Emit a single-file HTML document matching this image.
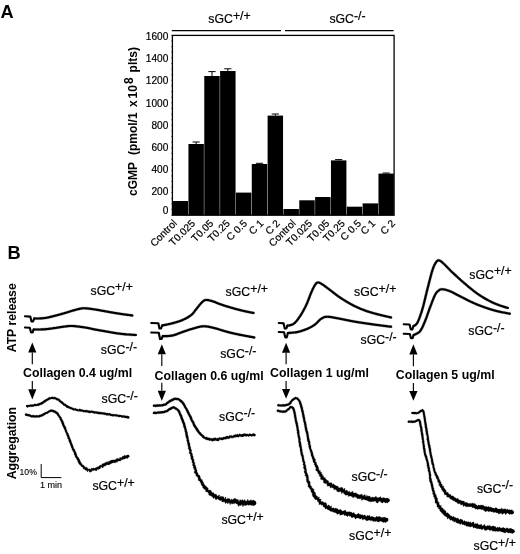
<!DOCTYPE html>
<html><head><meta charset="utf-8"><title>Figure</title>
<style>
html,body{margin:0;padding:0;background:#fff;}
body{width:520px;height:554px;overflow:hidden;font-family:"Liberation Sans",sans-serif;}
svg{display:block;filter:grayscale(1);}
</style></head><body>
<svg width="520" height="554" viewBox="0 0 520 554">
<rect x="0" y="0" width="520" height="554" fill="#fff"/>
<text x="0.5" y="18" font-family="Liberation Sans, sans-serif" font-size="18.2" font-weight="bold">A</text>
<text x="7.5" y="258.8" font-family="Liberation Sans, sans-serif" font-size="18.2" font-weight="bold">B</text>
<line x1="171.8" y1="30.55" x2="281" y2="30.55" stroke="#000" stroke-width="1.3"/>
<line x1="285" y1="30.6" x2="393.6" y2="30.6" stroke="#000" stroke-width="1.3"/>
<rect x="172.4" y="35.4" width="221.70000000000002" height="179.79999999999998" fill="none" stroke="#000" stroke-width="1.3"/>
<rect x="172.60" y="201.0" width="15.44" height="14.20" fill="#000"/>
<rect x="188.44" y="144.0" width="15.44" height="71.20" fill="#000"/>
<path d="M196.15 144.0 V142.0 M192.55 142.0 H199.75" stroke="#000" stroke-width="1" fill="none"/>
<rect x="204.27" y="76.0" width="15.44" height="139.20" fill="#000"/>
<path d="M211.99 76.0 V71.6 M208.39 71.6 H215.59" stroke="#000" stroke-width="1" fill="none"/>
<rect x="220.11" y="71.0" width="15.44" height="144.20" fill="#000"/>
<path d="M227.83 71.0 V68.8 M224.23 68.8 H231.43" stroke="#000" stroke-width="1" fill="none"/>
<rect x="235.94" y="192.6" width="15.44" height="22.60" fill="#000"/>
<rect x="251.78" y="164.0" width="15.44" height="51.20" fill="#000"/>
<path d="M259.50 164.0 V163.3 M255.90 163.3 H263.10" stroke="#000" stroke-width="1" fill="none"/>
<rect x="267.61" y="115.6" width="15.44" height="99.60" fill="#000"/>
<path d="M275.33 115.6 V114.0 M271.73 114.0 H278.93" stroke="#000" stroke-width="1" fill="none"/>
<rect x="283.45" y="209.0" width="15.44" height="6.20" fill="#000"/>
<rect x="299.29" y="200.3" width="15.44" height="14.90" fill="#000"/>
<rect x="315.12" y="197.0" width="15.44" height="18.20" fill="#000"/>
<rect x="330.96" y="160.4" width="15.44" height="54.80" fill="#000"/>
<path d="M338.68 160.4 V159.6 M335.07 159.6 H342.28" stroke="#000" stroke-width="1" fill="none"/>
<rect x="346.79" y="206.7" width="15.44" height="8.50" fill="#000"/>
<rect x="362.63" y="203.4" width="15.44" height="11.80" fill="#000"/>
<rect x="378.46" y="173.6" width="15.44" height="41.60" fill="#000"/>
<path d="M386.18 173.6 V173.0 M382.58 173.0 H389.78" stroke="#000" stroke-width="1" fill="none"/>
<text x="168.3" y="39.7" text-anchor="end" font-family="Liberation Sans, sans-serif" font-size="10.1" stroke="#000" stroke-width="0.2">1600</text>
<text x="168.3" y="62.0" text-anchor="end" font-family="Liberation Sans, sans-serif" font-size="10.1" stroke="#000" stroke-width="0.2">1400</text>
<text x="168.3" y="84.2" text-anchor="end" font-family="Liberation Sans, sans-serif" font-size="10.1" stroke="#000" stroke-width="0.2">1200</text>
<text x="168.3" y="106.5" text-anchor="end" font-family="Liberation Sans, sans-serif" font-size="10.1" stroke="#000" stroke-width="0.2">1000</text>
<text x="168.3" y="128.7" text-anchor="end" font-family="Liberation Sans, sans-serif" font-size="10.1" stroke="#000" stroke-width="0.2">800</text>
<text x="168.3" y="150.9" text-anchor="end" font-family="Liberation Sans, sans-serif" font-size="10.1" stroke="#000" stroke-width="0.2">600</text>
<text x="168.3" y="173.2" text-anchor="end" font-family="Liberation Sans, sans-serif" font-size="10.1" stroke="#000" stroke-width="0.2">400</text>
<text x="168.3" y="195.4" text-anchor="end" font-family="Liberation Sans, sans-serif" font-size="10.1" stroke="#000" stroke-width="0.2">200</text>
<text x="168.3" y="213.9" text-anchor="end" font-family="Liberation Sans, sans-serif" font-size="10.1" stroke="#000" stroke-width="0.2">0</text>
<line x1="171.1" y1="35.40" x2="172.4" y2="35.40" stroke="#000" stroke-width="0.5"/>
<line x1="171.1" y1="41.02" x2="172.4" y2="41.02" stroke="#000" stroke-width="0.5"/>
<line x1="171.1" y1="46.64" x2="172.4" y2="46.64" stroke="#000" stroke-width="0.5"/>
<line x1="171.1" y1="52.26" x2="172.4" y2="52.26" stroke="#000" stroke-width="0.5"/>
<line x1="171.1" y1="57.88" x2="172.4" y2="57.88" stroke="#000" stroke-width="0.5"/>
<line x1="171.1" y1="63.49" x2="172.4" y2="63.49" stroke="#000" stroke-width="0.5"/>
<line x1="171.1" y1="69.11" x2="172.4" y2="69.11" stroke="#000" stroke-width="0.5"/>
<line x1="171.1" y1="74.73" x2="172.4" y2="74.73" stroke="#000" stroke-width="0.5"/>
<line x1="171.1" y1="80.35" x2="172.4" y2="80.35" stroke="#000" stroke-width="0.5"/>
<line x1="171.1" y1="85.97" x2="172.4" y2="85.97" stroke="#000" stroke-width="0.5"/>
<line x1="171.1" y1="91.59" x2="172.4" y2="91.59" stroke="#000" stroke-width="0.5"/>
<line x1="171.1" y1="97.21" x2="172.4" y2="97.21" stroke="#000" stroke-width="0.5"/>
<line x1="171.1" y1="102.82" x2="172.4" y2="102.82" stroke="#000" stroke-width="0.5"/>
<line x1="171.1" y1="108.44" x2="172.4" y2="108.44" stroke="#000" stroke-width="0.5"/>
<line x1="171.1" y1="114.06" x2="172.4" y2="114.06" stroke="#000" stroke-width="0.5"/>
<line x1="171.1" y1="119.68" x2="172.4" y2="119.68" stroke="#000" stroke-width="0.5"/>
<line x1="171.1" y1="125.30" x2="172.4" y2="125.30" stroke="#000" stroke-width="0.5"/>
<line x1="171.1" y1="130.92" x2="172.4" y2="130.92" stroke="#000" stroke-width="0.5"/>
<line x1="171.1" y1="136.54" x2="172.4" y2="136.54" stroke="#000" stroke-width="0.5"/>
<line x1="171.1" y1="142.16" x2="172.4" y2="142.16" stroke="#000" stroke-width="0.5"/>
<line x1="171.1" y1="147.77" x2="172.4" y2="147.77" stroke="#000" stroke-width="0.5"/>
<line x1="171.1" y1="153.39" x2="172.4" y2="153.39" stroke="#000" stroke-width="0.5"/>
<line x1="171.1" y1="159.01" x2="172.4" y2="159.01" stroke="#000" stroke-width="0.5"/>
<line x1="171.1" y1="164.63" x2="172.4" y2="164.63" stroke="#000" stroke-width="0.5"/>
<line x1="171.1" y1="170.25" x2="172.4" y2="170.25" stroke="#000" stroke-width="0.5"/>
<line x1="171.1" y1="175.87" x2="172.4" y2="175.87" stroke="#000" stroke-width="0.5"/>
<line x1="171.1" y1="181.49" x2="172.4" y2="181.49" stroke="#000" stroke-width="0.5"/>
<line x1="171.1" y1="187.11" x2="172.4" y2="187.11" stroke="#000" stroke-width="0.5"/>
<line x1="171.1" y1="192.72" x2="172.4" y2="192.72" stroke="#000" stroke-width="0.5"/>
<line x1="171.1" y1="198.34" x2="172.4" y2="198.34" stroke="#000" stroke-width="0.5"/>
<line x1="171.1" y1="203.96" x2="172.4" y2="203.96" stroke="#000" stroke-width="0.5"/>
<line x1="171.1" y1="209.58" x2="172.4" y2="209.58" stroke="#000" stroke-width="0.5"/>
<line x1="171.1" y1="215.20" x2="172.4" y2="215.20" stroke="#000" stroke-width="0.5"/>
<text transform="translate(177.60,224.0) rotate(-45)" text-anchor="end" font-family="Liberation Sans, sans-serif" font-size="10.2" stroke="#000" stroke-width="0.2">Control</text>
<text transform="translate(195.80,224.0) rotate(-45)" text-anchor="end" font-family="Liberation Sans, sans-serif" font-size="10.2" stroke="#000" stroke-width="0.2">T0.025</text>
<text transform="translate(214.00,224.0) rotate(-45)" text-anchor="end" font-family="Liberation Sans, sans-serif" font-size="10.2" stroke="#000" stroke-width="0.2">T0.05</text>
<text transform="translate(230.40,224.0) rotate(-45)" text-anchor="end" font-family="Liberation Sans, sans-serif" font-size="10.2" stroke="#000" stroke-width="0.2">T0.25</text>
<text transform="translate(247.70,224.0) rotate(-45)" text-anchor="end" font-family="Liberation Sans, sans-serif" font-size="10.2" stroke="#000" stroke-width="0.2">C 0.5</text>
<text transform="translate(264.20,224.0) rotate(-45)" text-anchor="end" font-family="Liberation Sans, sans-serif" font-size="10.2" stroke="#000" stroke-width="0.2">C 1</text>
<text transform="translate(280.60,224.0) rotate(-45)" text-anchor="end" font-family="Liberation Sans, sans-serif" font-size="10.2" stroke="#000" stroke-width="0.2">C 2</text>
<text transform="translate(296.30,224.0) rotate(-45)" text-anchor="end" font-family="Liberation Sans, sans-serif" font-size="10.2" stroke="#000" stroke-width="0.2">Control</text>
<text transform="translate(312.70,224.0) rotate(-45)" text-anchor="end" font-family="Liberation Sans, sans-serif" font-size="10.2" stroke="#000" stroke-width="0.2">T0.025</text>
<text transform="translate(330.00,224.0) rotate(-45)" text-anchor="end" font-family="Liberation Sans, sans-serif" font-size="10.2" stroke="#000" stroke-width="0.2">T0.05</text>
<text transform="translate(345.60,224.0) rotate(-45)" text-anchor="end" font-family="Liberation Sans, sans-serif" font-size="10.2" stroke="#000" stroke-width="0.2">T0.25</text>
<text transform="translate(361.70,224.0) rotate(-45)" text-anchor="end" font-family="Liberation Sans, sans-serif" font-size="10.2" stroke="#000" stroke-width="0.2">C 0.5</text>
<text transform="translate(376.00,224.0) rotate(-45)" text-anchor="end" font-family="Liberation Sans, sans-serif" font-size="10.2" stroke="#000" stroke-width="0.2">C 1</text>
<text transform="translate(395.80,224.0) rotate(-45)" text-anchor="end" font-family="Liberation Sans, sans-serif" font-size="10.2" stroke="#000" stroke-width="0.2">C 2</text>
<text transform="translate(137.1,196.0) rotate(-90)" font-family="Liberation Sans, sans-serif" font-size="12" font-weight="bold"><tspan x="0">cGMP</tspan><tspan x="40.9">(pmol/1</tspan><tspan x="88.9">x</tspan><tspan x="97.5">10</tspan><tspan x="112.0" dy="-4.5">8</tspan><tspan x="123.6" dy="4.5">plts)</tspan></text>
<text x="208.3" y="22.8" font-family="Liberation Sans, sans-serif" font-size="12.3" stroke="#000" stroke-width="0.2">sGC<tspan dy="-3.2" font-size="12.3">+/+</tspan></text>
<text x="329.4" y="23.2" font-family="Liberation Sans, sans-serif" font-size="12.3" stroke="#000" stroke-width="0.2">sGC<tspan dy="-3.2" font-size="12.3">-/-</tspan></text>
<text transform="translate(15.8,352.3) rotate(-90)" font-family="Liberation Sans, sans-serif" font-size="12.25" font-weight="bold">ATP release</text>
<text transform="translate(15.7,479.3) rotate(-90)" font-family="Liberation Sans, sans-serif" font-size="12.3" font-weight="bold">Aggregation</text>
<path d="M25 316.3 L30.3 316.6 L31.5 321.5 L33.1 321.5 L34.1 318.6" fill="none" stroke="#000" stroke-width="2.15" stroke-linejoin="round" stroke-linecap="round"/>
<path d="M34.1 319.7 L34.4 319.7 L34.8 319.6 L35.1 319.6 L35.5 319.6 L36.0 319.6 L36.5 319.6 L37.0 319.6 L37.5 319.6 L38.1 319.5 L38.7 319.5 L39.3 319.5 L39.9 319.5 L40.5 319.4 L41.1 319.4 L41.7 319.4 L42.3 319.3 L42.9 319.3 L43.5 319.2 L44.1 319.2 L44.6 319.1 L45.1 319.1 L45.7 319.0 L46.2 318.9 L46.7 318.8 L47.3 318.7 L47.8 318.6 L48.3 318.5 L48.8 318.4 L49.3 318.3 L49.8 318.2 L50.3 318.1 L50.8 317.9 L51.3 317.8 L51.8 317.7 L52.3 317.6 L52.8 317.4 L53.3 317.3 L53.8 317.2 L54.3 317.0 L54.8 316.9 L55.3 316.8 L55.8 316.7 L56.3 316.5 L56.8 316.4 L57.3 316.3 L57.8 316.1 L58.3 316.0 L58.8 315.9 L59.3 315.7 L59.8 315.6 L60.3 315.5 L60.8 315.3 L61.3 315.2 L61.8 315.0 L62.3 314.9 L62.8 314.8 L63.3 314.6 L63.8 314.5 L64.3 314.3 L64.8 314.2 L65.3 314.0 L65.8 313.9 L66.3 313.7 L66.8 313.6 L67.3 313.4 L67.8 313.3 L68.4 313.1 L68.9 312.9 L69.4 312.8 L69.9 312.6 L70.4 312.5 L70.9 312.3 L71.4 312.1 L71.9 312.0 L72.4 311.8 L72.9 311.7 L73.4 311.6 L73.9 311.4 L74.3 311.3 L74.8 311.2 L75.3 311.0 L75.8 310.9 L76.3 310.8 L76.9 310.6 L77.4 310.5 L77.9 310.3 L78.4 310.2 L78.8 310.1 L79.3 310.0 L79.8 309.9 L80.3 309.7 L80.7 309.7 L81.2 309.6 L81.7 309.5 L82.2 309.4 L82.7 309.4 L83.2 309.3 L83.8 309.3 L84.2 309.3 L84.7 309.3 L85.1 309.3 L85.6 309.4 L86.1 309.4 L86.6 309.4 L87.1 309.5 L87.6 309.5 L88.1 309.6 L88.6 309.7 L89.2 309.7 L89.7 309.8 L90.2 309.9 L90.7 309.9 L91.3 310.0 L91.8 310.1 L92.3 310.2 L92.8 310.3 L93.3 310.3 L93.9 310.4 L94.4 310.5 L94.8 310.6 L95.4 310.6 L95.9 310.7 L96.4 310.8 L96.9 310.9 L97.4 311.0 L97.9 311.0 L98.4 311.1 L98.9 311.2 L99.4 311.3 L99.9 311.4 L100.4 311.5 L100.9 311.6 L101.4 311.7 L101.8 311.8 L102.3 311.9 L102.8 311.9 L103.3 312.0 L103.8 312.1 L104.3 312.2 L104.8 312.3 L105.3 312.4 L105.8 312.5 L106.3 312.6 L106.8 312.7 L107.3 312.8 L107.8 312.8 L108.3 312.9 L108.8 313.0 L109.3 313.1 L109.8 313.2 L110.3 313.3 L110.8 313.4 L111.3 313.5 L111.8 313.6 L112.3 313.6 L112.8 313.7 L113.3 313.8 L113.8 313.9 L114.3 314.0 L114.8 314.1 L115.3 314.1 L115.8 314.2 L116.4 314.3 L116.9 314.4 L117.4 314.5 L117.9 314.5 L118.4 314.6 L119.0 314.7 L119.5 314.8 L120.0 314.9 L120.5 314.9 L121.0 315.0 L121.5 315.1 L122.0 315.2 L122.5 315.2 L123.0 315.3 L123.5 315.4 L123.9 315.4 L124.4 315.5 L124.8 315.6 L125.4 315.6 L126.0 315.7 L126.6 315.8 L127.2 315.9 L127.8 316.0 L128.4 316.0 L129.0 316.1 L129.5 316.2 L130.0 316.3 L130.5 316.3 L131.0 316.4 L131.4 316.4 L131.8 316.5 L132.1 316.5 L132.4 316.6 L132.6 314.4 L132.4 314.4 L132.0 314.4 L131.7 314.3 L131.2 314.3 L130.8 314.2 L130.3 314.1 L129.8 314.1 L129.2 314.0 L128.7 313.9 L128.1 313.8 L127.5 313.8 L126.9 313.7 L126.3 313.6 L125.7 313.5 L125.2 313.4 L124.7 313.4 L124.3 313.3 L123.8 313.2 L123.3 313.2 L122.8 313.1 L122.3 313.0 L121.8 313.0 L121.3 312.9 L120.8 312.8 L120.3 312.7 L119.8 312.7 L119.3 312.6 L118.8 312.5 L118.2 312.4 L117.7 312.3 L117.2 312.3 L116.7 312.2 L116.2 312.1 L115.7 312.0 L115.2 311.9 L114.7 311.9 L114.2 311.8 L113.7 311.7 L113.2 311.6 L112.7 311.5 L112.2 311.4 L111.7 311.3 L111.2 311.3 L110.7 311.2 L110.2 311.1 L109.7 311.0 L109.2 310.9 L108.7 310.8 L108.2 310.7 L107.7 310.6 L107.2 310.5 L106.7 310.5 L106.2 310.4 L105.7 310.3 L105.2 310.2 L104.7 310.1 L104.2 310.0 L103.7 309.9 L103.2 309.8 L102.7 309.7 L102.2 309.7 L101.7 309.6 L101.3 309.5 L100.8 309.4 L100.3 309.3 L99.8 309.2 L99.3 309.1 L98.8 309.0 L98.3 308.9 L97.8 308.8 L97.3 308.8 L96.7 308.7 L96.2 308.6 L95.7 308.5 L95.2 308.4 L94.7 308.4 L94.2 308.3 L93.7 308.2 L93.2 308.1 L92.6 308.1 L92.1 308.0 L91.6 307.9 L91.1 307.8 L90.5 307.7 L90.0 307.7 L89.4 307.6 L88.9 307.5 L88.4 307.5 L87.8 307.4 L87.3 307.3 L86.8 307.3 L86.2 307.2 L85.7 307.2 L85.2 307.2 L84.7 307.2 L84.2 307.2 L83.7 307.2 L83.1 307.2 L82.5 307.2 L82.0 307.3 L81.4 307.4 L80.9 307.4 L80.3 307.5 L79.8 307.6 L79.3 307.8 L78.8 307.9 L78.3 308.0 L77.8 308.1 L77.3 308.3 L76.8 308.4 L76.3 308.5 L75.8 308.7 L75.3 308.8 L74.7 309.0 L74.3 309.1 L73.8 309.2 L73.3 309.3 L72.8 309.5 L72.3 309.6 L71.8 309.8 L71.3 309.9 L70.8 310.1 L70.3 310.3 L69.8 310.4 L69.2 310.6 L68.7 310.7 L68.2 310.9 L67.7 311.1 L67.2 311.2 L66.7 311.4 L66.2 311.5 L65.7 311.7 L65.2 311.8 L64.7 312.0 L64.2 312.1 L63.7 312.3 L63.2 312.4 L62.7 312.5 L62.2 312.7 L61.7 312.8 L61.2 313.0 L60.7 313.1 L60.2 313.2 L59.7 313.4 L59.2 313.5 L58.7 313.7 L58.2 313.8 L57.7 313.9 L57.2 314.1 L56.7 314.2 L56.2 314.3 L55.7 314.5 L55.2 314.6 L54.7 314.7 L54.2 314.8 L53.7 315.0 L53.2 315.1 L52.7 315.2 L52.3 315.3 L51.8 315.5 L51.3 315.6 L50.8 315.7 L50.3 315.8 L49.8 316.0 L49.3 316.1 L48.8 316.2 L48.3 316.3 L47.8 316.4 L47.4 316.5 L46.9 316.6 L46.4 316.7 L45.9 316.8 L45.4 316.9 L44.9 316.9 L44.4 317.0 L43.8 317.1 L43.3 317.1 L42.7 317.2 L42.2 317.2 L41.6 317.2 L41.0 317.3 L40.4 317.3 L39.8 317.3 L39.2 317.4 L38.6 317.4 L38.0 317.4 L37.5 317.4 L36.9 317.4 L36.4 317.4 L35.9 317.5 L35.5 317.5 L35.1 317.5 L34.7 317.5 L34.3 317.5 L34.1 317.5 Z" fill="#000" stroke="#000" stroke-width="0.3" stroke-linejoin="round"/>
<circle cx="34.10" cy="318.60" r="1.07" fill="#000"/>
<circle cx="132.50" cy="315.50" r="1.07" fill="#000"/>
<path d="M25 327.5 L29.8 327.8 L31.0 332.3 L32.6 332.3 L33.6 329.5" fill="none" stroke="#000" stroke-width="2.15" stroke-linejoin="round" stroke-linecap="round"/>
<path d="M33.6 330.6 L33.9 330.6 L34.2 330.6 L34.6 330.6 L35.0 330.6 L35.5 330.6 L35.9 330.6 L36.4 330.5 L37.0 330.5 L37.5 330.5 L38.1 330.5 L38.7 330.5 L39.3 330.5 L39.9 330.5 L40.5 330.5 L41.1 330.5 L41.7 330.5 L42.3 330.5 L42.9 330.4 L43.5 330.4 L44.0 330.4 L44.6 330.4 L45.1 330.3 L45.6 330.3 L46.1 330.2 L46.7 330.2 L47.2 330.1 L47.7 330.1 L48.2 330.0 L48.7 330.0 L49.2 329.9 L49.7 329.8 L50.2 329.8 L50.7 329.7 L51.2 329.6 L51.7 329.6 L52.2 329.5 L52.7 329.4 L53.2 329.3 L53.7 329.3 L54.2 329.2 L54.7 329.1 L55.2 329.1 L55.7 329.0 L56.2 328.9 L56.7 328.8 L57.2 328.8 L57.7 328.7 L58.2 328.6 L58.8 328.5 L59.3 328.4 L59.8 328.3 L60.3 328.3 L60.8 328.2 L61.3 328.1 L61.8 328.0 L62.3 327.9 L62.8 327.9 L63.3 327.8 L63.8 327.7 L64.2 327.7 L64.7 327.6 L65.1 327.6 L65.7 327.5 L66.2 327.4 L66.7 327.4 L67.2 327.3 L67.6 327.3 L68.1 327.2 L68.5 327.2 L68.9 327.1 L69.3 327.1 L69.8 327.1 L70.2 327.0 L70.7 327.0 L71.3 327.0 L71.8 327.0 L72.5 327.1 L72.8 327.1 L73.3 327.1 L73.7 327.2 L74.2 327.2 L74.6 327.2 L75.1 327.3 L75.6 327.3 L76.1 327.4 L76.6 327.4 L77.1 327.5 L77.7 327.6 L78.2 327.6 L78.7 327.7 L79.3 327.8 L79.8 327.8 L80.3 327.9 L80.9 328.0 L81.4 328.1 L81.9 328.1 L82.4 328.2 L82.9 328.3 L83.4 328.3 L83.9 328.4 L84.4 328.5 L84.8 328.6 L85.4 328.6 L85.9 328.7 L86.4 328.8 L87.0 328.9 L87.5 329.0 L88.0 329.1 L88.5 329.2 L89.0 329.3 L89.4 329.4 L89.9 329.5 L90.4 329.6 L90.9 329.7 L91.4 329.8 L91.9 330.0 L92.3 330.1 L92.8 330.2 L93.3 330.3 L93.8 330.4 L94.3 330.5 L94.8 330.6 L95.3 330.7 L95.8 330.7 L96.3 330.8 L96.8 330.9 L97.3 331.0 L97.8 331.1 L98.3 331.2 L98.8 331.3 L99.3 331.4 L99.8 331.5 L100.3 331.5 L100.8 331.6 L101.3 331.7 L101.8 331.8 L102.3 331.9 L102.8 332.0 L103.3 332.0 L103.8 332.1 L104.3 332.2 L104.8 332.3 L105.3 332.4 L105.8 332.5 L106.3 332.6 L106.8 332.7 L107.3 332.8 L107.8 332.8 L108.3 332.9 L108.8 333.0 L109.3 333.1 L109.8 333.2 L110.3 333.3 L110.8 333.4 L111.3 333.5 L111.8 333.6 L112.3 333.7 L112.8 333.7 L113.3 333.8 L113.8 333.9 L114.3 334.0 L114.8 334.1 L115.3 334.1 L115.8 334.2 L116.3 334.3 L116.8 334.4 L117.3 334.4 L117.8 334.5 L118.3 334.6 L118.8 334.6 L119.3 334.7 L119.8 334.8 L120.3 334.8 L120.8 334.9 L121.3 334.9 L121.8 335.0 L122.3 335.1 L122.8 335.1 L123.3 335.2 L123.9 335.2 L124.4 335.3 L124.9 335.3 L125.4 335.4 L125.9 335.4 L126.5 335.5 L127.0 335.5 L127.6 335.5 L128.1 335.6 L128.7 335.6 L129.3 335.7 L129.9 335.7 L130.5 335.7 L131.1 335.8 L131.6 335.8 L132.2 335.8 L132.7 335.9 L133.2 335.9 L133.7 335.9 L134.2 336.0 L134.6 336.0 L135.0 336.0 L135.3 336.0 L135.7 336.1 L135.9 336.1 L136.1 333.9 L135.8 333.9 L135.5 333.9 L135.1 333.9 L134.7 333.8 L134.3 333.8 L133.8 333.8 L133.3 333.8 L132.8 333.7 L132.3 333.7 L131.8 333.7 L131.2 333.6 L130.6 333.6 L130.0 333.6 L129.5 333.5 L128.9 333.5 L128.3 333.4 L127.7 333.4 L127.2 333.4 L126.6 333.3 L126.1 333.3 L125.6 333.2 L125.1 333.2 L124.6 333.1 L124.1 333.1 L123.6 333.0 L123.1 333.0 L122.5 332.9 L122.0 332.9 L121.6 332.8 L121.1 332.7 L120.6 332.7 L120.1 332.6 L119.6 332.6 L119.1 332.5 L118.6 332.4 L118.1 332.4 L117.6 332.3 L117.1 332.2 L116.6 332.2 L116.2 332.1 L115.7 332.0 L115.2 331.9 L114.7 331.9 L114.2 331.8 L113.7 331.7 L113.2 331.6 L112.7 331.5 L112.2 331.5 L111.7 331.4 L111.2 331.3 L110.7 331.2 L110.2 331.1 L109.7 331.0 L109.2 330.9 L108.7 330.8 L108.2 330.7 L107.7 330.6 L107.2 330.6 L106.7 330.5 L106.2 330.4 L105.7 330.3 L105.2 330.2 L104.7 330.1 L104.2 330.0 L103.7 329.9 L103.2 329.8 L102.7 329.8 L102.2 329.7 L101.7 329.6 L101.2 329.5 L100.7 329.4 L100.2 329.3 L99.7 329.2 L99.2 329.2 L98.7 329.1 L98.2 329.0 L97.7 328.9 L97.2 328.8 L96.7 328.7 L96.2 328.6 L95.7 328.5 L95.2 328.4 L94.7 328.3 L94.2 328.3 L93.7 328.2 L93.3 328.1 L92.8 328.0 L92.3 327.9 L91.8 327.7 L91.3 327.6 L90.9 327.5 L90.4 327.4 L89.9 327.3 L89.4 327.2 L88.9 327.1 L88.4 327.0 L87.9 326.9 L87.4 326.8 L86.8 326.7 L86.3 326.6 L85.7 326.5 L85.2 326.4 L84.7 326.4 L84.2 326.3 L83.7 326.2 L83.2 326.1 L82.7 326.1 L82.2 326.0 L81.7 325.9 L81.2 325.8 L80.6 325.8 L80.1 325.7 L79.5 325.6 L79.0 325.6 L78.5 325.5 L77.9 325.4 L77.4 325.4 L76.9 325.3 L76.3 325.2 L75.8 325.2 L75.3 325.1 L74.8 325.1 L74.3 325.1 L73.9 325.0 L73.4 325.0 L73.0 324.9 L72.5 324.9 L71.9 324.9 L71.3 324.9 L70.7 324.9 L70.2 324.9 L69.7 324.9 L69.2 324.9 L68.7 325.0 L68.3 325.0 L67.8 325.1 L67.4 325.1 L66.9 325.2 L66.4 325.2 L66.0 325.3 L65.4 325.4 L64.9 325.4 L64.4 325.5 L64.0 325.5 L63.5 325.6 L63.0 325.7 L62.5 325.7 L62.0 325.8 L61.5 325.9 L61.0 326.0 L60.5 326.1 L60.0 326.1 L59.5 326.2 L58.9 326.3 L58.4 326.4 L57.9 326.5 L57.4 326.6 L56.9 326.6 L56.4 326.7 L55.9 326.8 L55.4 326.9 L54.8 326.9 L54.4 327.0 L53.9 327.1 L53.4 327.1 L52.9 327.2 L52.4 327.3 L51.9 327.4 L51.4 327.4 L50.9 327.5 L50.4 327.6 L49.9 327.6 L49.5 327.7 L49.0 327.8 L48.5 327.8 L48.0 327.9 L47.5 327.9 L47.0 328.0 L46.5 328.0 L46.0 328.1 L45.4 328.1 L44.9 328.2 L44.4 328.2 L43.9 328.2 L43.4 328.3 L42.8 328.3 L42.2 328.3 L41.7 328.3 L41.1 328.3 L40.5 328.4 L39.9 328.4 L39.3 328.4 L38.7 328.4 L38.1 328.4 L37.5 328.4 L37.0 328.4 L36.4 328.4 L35.9 328.4 L35.4 328.4 L35.0 328.4 L34.6 328.4 L34.2 328.4 L33.9 328.4 L33.6 328.4 Z" fill="#000" stroke="#000" stroke-width="0.3" stroke-linejoin="round"/>
<circle cx="33.60" cy="329.50" r="1.07" fill="#000"/>
<circle cx="136.00" cy="335.00" r="1.07" fill="#000"/>
<path d="M32.3 342.6 L36.4 352.4 L28.199999999999996 352.4 Z" fill="#000"/>
<line x1="32.3" y1="352.4" x2="32.3" y2="364.2" stroke="#000" stroke-width="1.15"/>
<text x="23.1" y="377.3" font-family="Liberation Sans, sans-serif" font-size="12.35" font-weight="bold">Collagen 0.4 ug/ml</text>
<path d="M32.3 399.4 L36.4 389.3 L28.199999999999996 389.3 Z" fill="#000"/>
<line x1="32.3" y1="381.1" x2="32.3" y2="389.3" stroke="#000" stroke-width="1.15"/>
<path d="M27.0 407.3 L27.3 407.3 L27.7 407.4 L28.1 407.4 L28.6 406.8 L29.1 406.7 L29.7 406.7 L30.3 406.7 L30.9 406.7 L31.5 406.7 L32.2 406.7 L32.8 406.7 L33.4 406.5 L34.0 406.4 L34.4 406.1 L34.9 406.0 L35.5 406.1 L36.0 406.0 L36.5 406.1 L37.1 406.0 L37.6 405.7 L38.1 405.6 L38.7 405.9 L39.2 405.7 L39.6 405.0 L40.1 404.8 L40.8 405.1 L41.3 404.9 L41.7 404.3 L42.2 404.1 L42.9 404.2 L43.4 403.8 L43.6 403.1 L44.0 402.8 L44.6 402.7 L45.0 402.4 L45.5 402.2 L45.9 401.9 L46.2 401.5 L46.6 401.2 L47.0 401.0 L47.5 400.8 L47.9 400.5 L48.4 400.3 L48.9 400.0 L49.3 399.8 L49.7 399.4 L50.2 399.2 L50.7 399.3 L51.1 399.1 L51.5 398.9 L51.9 398.9 L52.4 399.1 L52.8 399.1 L53.2 399.1 L53.6 399.1 L54.0 399.2 L54.4 399.3 L55.0 399.1 L55.4 399.3 L55.8 399.7 L56.2 399.9 L56.6 400.2 L57.0 400.5 L57.7 400.3 L58.1 400.5 L58.3 400.9 L58.7 401.2 L59.0 401.6 L59.4 401.9 L59.8 402.3 L60.2 402.7 L60.8 402.8 L61.2 403.2 L61.4 403.7 L61.8 404.1 L62.4 404.2 L62.9 404.6 L63.1 405.2 L63.5 405.5 L64.1 405.6 L64.6 405.9 L65.1 406.0 L65.5 406.3 L65.7 406.9 L66.2 407.2 L66.5 407.6 L67.0 407.9 L67.7 407.8 L68.2 408.0 L68.7 408.4 L69.2 408.6 L69.7 408.8 L70.1 408.9 L70.7 408.9 L71.2 409.1 L71.5 409.6 L72.0 409.8 L72.5 409.9 L73.0 410.1 L73.5 410.4 L74.0 410.5 L74.6 410.2 L75.2 410.3 L75.7 410.7 L76.3 410.8 L76.9 410.9 L77.5 411.0 L77.9 411.3 L78.3 411.4 L78.9 410.9 L79.3 411.0 L79.7 411.4 L80.1 411.5 L80.6 411.4 L81.1 411.5 L81.5 411.6 L82.0 411.7 L82.4 411.6 L82.9 411.7 L83.4 412.2 L83.9 412.2 L84.4 412.0 L84.9 412.1 L85.5 412.3 L86.0 412.4 L86.6 412.2 L87.2 412.2 L87.8 412.6 L88.4 412.7 L89.0 412.9 L89.4 412.9 L89.9 412.9 L90.3 413.0 L90.8 412.7 L91.2 412.8 L91.7 412.7 L92.1 412.8 L92.6 412.9 L93.1 412.9 L93.5 413.2 L94.0 413.3 L94.4 413.7 L94.9 413.8 L95.5 413.2 L96.0 413.3 L96.4 413.7 L96.9 413.8 L97.5 413.8 L98.0 413.9 L98.5 414.2 L99.0 414.3 L99.6 414.1 L100.1 414.1 L100.6 414.2 L101.1 414.3 L101.7 414.2 L102.2 414.2 L102.7 414.5 L103.3 414.6 L103.8 414.6 L104.4 414.7 L104.9 414.8 L105.4 414.8 L105.9 415.3 L106.4 415.3 L107.0 415.3 L107.5 415.3 L108.0 415.3 L108.5 415.4 L109.1 415.2 L109.6 415.3 L110.0 415.8 L110.5 415.9 L111.1 415.9 L111.6 416.0 L112.2 416.2 L112.7 416.3 L113.3 416.2 L113.9 416.3 L114.5 416.1 L115.1 416.2 L115.7 416.4 L116.2 416.5 L116.9 416.3 L117.4 416.4 L118.0 416.8 L118.5 416.9 L119.1 417.0 L119.7 417.1 L120.3 416.8 L120.8 416.9 L121.3 417.4 L121.8 417.5 L122.4 417.4 L122.9 417.5 L123.4 417.5 L123.9 417.6 L124.3 417.8 L124.8 417.8 L125.2 418.1 L125.6 418.1 L126.1 417.9 L126.5 418.0 L126.9 417.9 L127.2 417.9 L127.5 418.4 L127.8 418.4 L128.1 418.5 L128.3 418.6 L128.6 416.6 L128.4 416.6 L128.1 416.3 L127.8 416.2 L127.5 415.9 L127.2 415.8 L126.8 415.9 L126.4 415.9 L126.0 415.7 L125.6 415.7 L125.1 415.8 L124.6 415.7 L124.2 415.4 L123.7 415.3 L123.2 415.4 L122.7 415.3 L122.1 415.5 L121.6 415.4 L121.1 415.0 L120.6 415.0 L120.0 414.9 L119.4 414.8 L118.8 415.0 L118.3 414.9 L117.7 414.6 L117.1 414.5 L116.6 414.3 L116.0 414.2 L115.4 414.4 L114.8 414.3 L114.2 414.3 L113.6 414.2 L113.1 414.2 L112.5 414.1 L111.9 414.0 L111.4 413.9 L110.9 413.7 L110.3 413.6 L109.9 413.1 L109.4 413.0 L108.8 413.6 L108.3 413.5 L107.9 413.0 L107.3 412.9 L106.8 413.2 L106.2 413.1 L105.7 412.7 L105.2 412.7 L104.7 412.4 L104.1 412.4 L103.6 412.4 L103.1 412.3 L102.5 412.4 L102.0 412.3 L101.4 412.2 L100.9 412.1 L100.4 412.0 L99.8 411.9 L99.3 412.0 L98.8 411.9 L98.3 411.7 L97.8 411.6 L97.2 411.8 L96.7 411.8 L96.3 411.3 L95.8 411.3 L95.2 411.6 L94.7 411.6 L94.3 411.1 L93.8 411.0 L93.3 411.2 L92.8 411.1 L92.4 410.7 L92.0 410.6 L91.5 410.7 L91.1 410.6 L90.6 410.9 L90.1 410.9 L89.8 410.6 L89.3 410.6 L88.7 410.6 L88.1 410.5 L87.5 410.3 L86.9 410.2 L86.3 410.0 L85.8 409.9 L85.2 410.3 L84.6 410.2 L84.2 409.9 L83.7 409.9 L83.2 409.9 L82.7 409.8 L82.2 409.6 L81.8 409.6 L81.3 409.3 L80.9 409.2 L80.5 409.2 L80.0 409.1 L79.6 408.9 L79.2 408.8 L78.7 409.4 L78.3 409.4 L77.9 409.2 L77.3 409.0 L76.7 409.0 L76.1 408.8 L75.7 408.3 L75.1 408.2 L74.5 408.4 L74.0 408.2 L73.5 408.2 L73.0 408.1 L72.6 407.8 L72.1 407.6 L71.7 407.3 L71.3 407.2 L70.8 407.1 L70.4 406.9 L70.0 406.8 L69.5 406.6 L69.1 406.1 L68.7 405.9 L68.2 405.8 L67.8 405.5 L67.4 405.2 L67.0 404.9 L66.5 404.8 L66.1 404.5 L65.8 404.1 L65.4 403.8 L64.7 403.8 L64.3 403.5 L64.1 403.0 L63.7 402.7 L63.3 402.4 L62.9 402.0 L62.6 401.6 L62.2 401.2 L61.6 401.1 L61.2 400.7 L60.7 400.4 L60.3 400.1 L60.0 399.6 L59.5 399.2 L59.1 398.8 L58.7 398.6 L58.0 398.5 L57.5 398.3 L57.0 398.1 L56.5 397.8 L56.1 397.4 L55.5 397.3 L55.0 397.0 L54.5 396.9 L53.9 397.2 L53.3 397.1 L52.8 396.8 L52.2 396.8 L51.7 397.0 L51.1 397.1 L50.6 397.2 L50.1 397.4 L49.5 397.3 L48.9 397.6 L48.4 397.8 L47.9 398.0 L47.5 398.6 L47.1 398.8 L46.5 398.9 L46.0 399.1 L45.6 399.6 L45.1 399.8 L44.6 400.0 L44.2 400.3 L43.7 400.6 L43.2 400.9 L42.9 401.3 L42.5 401.6 L42.0 401.9 L41.6 402.1 L41.1 402.1 L40.7 402.4 L40.4 402.9 L40.0 403.1 L39.5 402.9 L39.0 403.1 L38.6 403.5 L38.2 403.6 L37.6 403.6 L37.2 403.7 L36.7 404.1 L36.2 404.2 L35.6 403.9 L35.1 403.9 L34.6 403.9 L34.1 404.0 L33.7 404.4 L33.1 404.5 L32.5 404.6 L32.0 404.7 L31.3 404.4 L30.7 404.5 L30.1 404.8 L29.5 404.9 L29.0 404.9 L28.4 404.9 L27.9 405.1 L27.5 405.2 L27.1 405.3 L26.8 405.3 Z" fill="#000" stroke="#000" stroke-width="0.3" stroke-linejoin="round"/>
<circle cx="26.90" cy="406.10" r="1.05" fill="#000"/>
<circle cx="128.50" cy="417.40" r="1.05" fill="#000"/>
<path d="M25.6 415.5 L25.9 415.5 L26.2 415.8 L26.5 415.9 L27.0 416.0 L27.5 416.1 L28.0 416.2 L28.6 416.3 L29.2 416.4 L29.7 416.6 L30.3 416.9 L30.9 417.0 L31.4 417.4 L32.0 417.5 L32.6 417.2 L33.1 417.3 L33.7 417.5 L34.2 417.6 L34.8 417.4 L35.4 417.5 L35.9 417.6 L36.5 417.6 L37.0 417.3 L37.6 417.3 L38.2 417.4 L38.7 417.4 L39.3 417.3 L39.8 417.2 L40.4 416.9 L40.9 416.8 L41.5 416.6 L42.0 416.4 L42.6 416.3 L43.1 416.0 L43.5 415.6 L44.0 415.3 L44.5 415.2 L44.9 414.9 L45.3 414.5 L45.8 414.3 L46.3 414.1 L46.8 413.8 L47.4 413.7 L47.9 413.4 L48.3 413.0 L48.8 412.7 L49.3 412.4 L49.7 412.2 L50.2 412.0 L50.6 411.9 L51.0 411.8 L51.3 411.8 L51.8 411.7 L52.2 411.7 L52.6 412.0 L53.0 412.1 L53.3 412.4 L53.7 412.5 L54.3 412.5 L54.7 412.8 L55.1 413.3 L55.4 413.5 L55.8 413.6 L56.1 413.9 L56.5 414.1 L56.8 414.4 L57.0 414.9 L57.3 415.3 L57.6 415.7 L57.9 416.1 L58.2 416.6 L58.5 417.1 L58.9 417.5 L59.2 418.0 L59.7 418.5 L59.9 418.9 L59.7 419.4 L59.9 419.8 L60.3 420.1 L60.5 420.6 L60.7 421.0 L60.9 421.5 L61.1 421.9 L61.3 422.4 L61.5 422.9 L61.7 423.4 L61.9 423.9 L62.1 424.4 L62.2 424.9 L62.4 425.4 L62.7 425.9 L62.9 426.4 L63.2 426.9 L63.5 427.4 L63.7 427.9 L63.9 428.4 L64.0 428.9 L64.1 429.4 L64.7 429.7 L64.9 430.2 L64.8 430.8 L65.0 431.2 L65.2 431.7 L65.3 432.2 L65.7 432.6 L65.8 433.1 L66.1 433.5 L66.3 434.0 L66.4 434.5 L66.6 435.0 L66.8 435.5 L67.0 436.0 L67.1 436.5 L67.3 437.0 L67.7 437.4 L67.9 437.9 L67.6 438.5 L67.8 439.0 L68.5 439.3 L68.7 439.8 L68.6 440.4 L68.8 440.9 L68.9 441.4 L69.1 441.9 L69.3 442.3 L69.5 442.8 L69.8 443.3 L70.0 443.8 L70.2 444.3 L70.4 444.8 L70.4 445.4 L70.6 445.8 L71.0 446.2 L71.2 446.7 L71.1 447.3 L71.3 447.8 L71.8 448.2 L72.0 448.6 L71.8 449.3 L72.0 449.8 L72.5 450.1 L72.7 450.5 L72.8 451.1 L73.0 451.5 L73.5 451.8 L73.7 452.3 L74.0 452.8 L74.2 453.4 L73.9 454.1 L74.1 454.6 L74.7 455.0 L74.9 455.5 L74.9 456.1 L75.2 456.5 L75.3 457.1 L75.5 457.6 L76.0 457.9 L76.3 458.3 L76.5 458.8 L76.7 459.2 L76.9 459.7 L77.1 460.1 L77.6 460.4 L77.8 460.8 L77.7 461.5 L78.0 462.0 L78.2 462.5 L78.5 463.0 L78.8 463.6 L79.1 464.0 L79.5 464.4 L79.8 464.9 L80.4 465.1 L80.7 465.5 L80.9 466.1 L81.2 466.5 L81.6 466.8 L82.0 467.2 L82.8 467.1 L83.1 467.4 L83.0 468.5 L83.5 468.9 L84.2 469.0 L84.7 469.3 L85.1 469.9 L85.6 470.2 L86.2 470.3 L86.8 470.6 L87.0 471.6 L87.6 471.8 L88.6 470.5 L89.1 470.6 L89.4 472.1 L90.1 472.2 L90.7 472.0 L91.3 472.0 L91.8 470.7 L92.3 470.6 L92.9 470.8 L93.5 470.7 L94.0 470.3 L94.6 470.1 L95.5 470.7 L95.9 470.6 L96.6 470.7 L97.0 470.5 L97.2 469.6 L97.6 469.3 L98.4 469.6 L98.8 469.3 L99.4 469.1 L99.9 468.9 L100.2 468.4 L100.7 468.1 L100.8 467.1 L101.3 466.8 L102.5 468.0 L103.0 467.8 L103.2 466.9 L103.7 466.7 L104.0 466.2 L104.4 466.0 L105.1 466.2 L105.5 466.0 L105.8 465.3 L106.2 465.1 L106.8 465.0 L107.3 464.8 L107.8 464.8 L108.3 464.7 L109.0 465.0 L109.5 464.9 L109.8 464.1 L110.3 463.9 L110.8 463.9 L111.3 463.7 L111.6 463.0 L112.1 462.9 L112.7 463.1 L113.2 462.9 L113.6 462.6 L114.1 462.4 L114.9 463.1 L115.4 462.9 L115.6 461.9 L116.1 461.8 L116.9 462.4 L117.4 462.3 L117.6 461.2 L118.1 461.1 L118.6 461.0 L119.1 460.9 L119.8 461.1 L120.2 461.0 L120.6 460.7 L121.1 460.5 L121.3 459.7 L121.7 459.5 L122.5 459.8 L123.1 459.6 L123.5 459.1 L124.1 458.9 L124.8 459.0 L125.3 458.7 L125.7 458.1 L126.2 457.9 L127.0 458.7 L127.5 458.6 L127.6 457.7 L127.9 457.6 L128.1 457.2 L128.4 457.1 L127.5 455.0 L127.2 455.2 L126.9 455.2 L126.5 455.4 L126.3 455.8 L125.9 456.0 L124.9 455.0 L124.4 455.2 L124.2 456.1 L123.7 456.3 L123.0 456.1 L122.4 456.3 L122.2 457.3 L121.6 457.5 L121.0 457.5 L120.6 457.6 L120.0 457.4 L119.6 457.5 L119.5 458.9 L119.1 459.0 L118.4 458.6 L117.9 458.7 L117.2 458.2 L116.7 458.3 L116.4 459.2 L115.9 459.4 L115.4 459.6 L114.9 459.7 L114.4 459.9 L113.9 460.0 L113.2 459.8 L112.7 459.9 L112.2 460.0 L111.7 460.2 L111.1 460.1 L110.6 460.3 L110.4 461.1 L109.9 461.3 L109.2 461.0 L108.7 461.2 L108.5 462.2 L108.0 462.4 L107.2 461.6 L106.7 461.8 L106.3 462.4 L105.9 462.6 L105.3 462.5 L104.8 462.7 L104.4 463.3 L103.9 463.4 L103.4 463.5 L102.9 463.7 L102.4 463.8 L101.9 464.1 L101.8 465.3 L101.3 465.5 L100.4 465.1 L99.9 465.3 L99.5 465.7 L99.0 466.0 L98.7 466.6 L98.2 466.9 L97.5 466.7 L97.1 467.0 L96.7 467.3 L96.2 467.5 L95.8 467.7 L95.4 467.8 L95.1 468.2 L94.7 468.4 L93.9 467.9 L93.3 468.0 L92.9 468.2 L92.4 468.4 L91.9 468.0 L91.5 468.1 L91.2 469.3 L90.7 469.4 L90.3 469.0 L89.9 469.0 L89.4 468.8 L89.0 468.7 L88.4 469.2 L87.9 469.1 L87.7 468.2 L87.3 468.1 L87.1 467.4 L86.6 467.2 L85.9 467.4 L85.5 467.2 L85.1 466.8 L84.7 466.4 L84.3 466.1 L83.9 465.9 L83.8 465.4 L83.5 465.1 L82.6 465.3 L82.3 464.9 L82.4 464.2 L82.1 463.8 L81.6 463.6 L81.3 463.2 L81.1 462.7 L80.8 462.2 L80.6 461.7 L80.3 461.3 L80.1 460.7 L79.8 460.2 L79.8 459.7 L79.6 459.3 L79.1 459.0 L78.9 458.6 L78.9 458.1 L78.7 457.6 L77.9 457.5 L77.6 457.1 L77.5 456.6 L77.3 456.1 L77.0 455.7 L76.8 455.2 L76.9 454.5 L76.6 454.1 L76.3 453.6 L76.1 453.1 L76.2 452.5 L75.9 452.0 L75.4 451.6 L75.2 451.1 L75.0 450.6 L74.8 450.2 L74.9 449.6 L74.7 449.2 L74.1 448.9 L73.9 448.4 L73.7 448.0 L73.6 447.5 L73.3 447.0 L73.1 446.5 L73.2 445.9 L73.0 445.5 L72.5 445.1 L72.4 444.6 L72.3 444.0 L72.1 443.5 L71.8 443.1 L71.6 442.6 L71.5 442.1 L71.3 441.6 L71.2 441.0 L71.1 440.5 L70.8 440.1 L70.6 439.6 L70.5 439.1 L70.3 438.6 L69.8 438.2 L69.7 437.7 L69.8 437.1 L69.6 436.7 L69.3 436.2 L69.1 435.7 L68.9 435.2 L68.8 434.7 L68.6 434.2 L68.4 433.7 L68.1 433.3 L67.9 432.8 L67.5 432.4 L67.3 431.9 L67.1 431.5 L66.9 431.0 L66.9 430.4 L66.7 430.0 L66.6 429.5 L66.4 429.0 L66.1 428.6 L65.9 428.1 L66.0 427.5 L65.8 427.0 L65.4 426.6 L65.2 426.1 L64.7 425.6 L64.5 425.1 L64.3 424.6 L64.1 424.1 L64.1 423.6 L63.8 423.0 L63.8 422.5 L63.6 422.0 L63.3 421.5 L63.1 421.0 L62.9 420.6 L62.7 420.1 L62.3 419.7 L62.1 419.3 L61.8 418.9 L61.6 418.5 L61.8 417.8 L61.5 417.4 L60.8 417.1 L60.5 416.5 L60.1 416.0 L59.8 415.5 L59.5 415.0 L59.2 414.5 L59.0 414.0 L58.6 413.5 L58.4 413.0 L58.0 412.6 L57.7 412.2 L57.3 411.9 L56.9 411.7 L56.5 411.4 L55.9 411.0 L55.4 410.7 L54.8 410.4 L54.2 410.2 L53.6 410.0 L53.0 409.9 L52.4 409.7 L51.7 409.7 L51.0 409.5 L50.5 409.6 L50.0 410.0 L49.4 410.2 L48.9 410.4 L48.4 410.7 L47.9 411.1 L47.4 411.3 L47.0 411.7 L46.5 412.0 L45.8 412.0 L45.4 412.2 L44.9 412.5 L44.4 412.7 L44.0 413.0 L43.5 413.3 L43.0 413.5 L42.5 413.8 L42.1 414.1 L41.6 414.3 L41.2 414.5 L40.7 414.7 L40.2 414.7 L39.8 414.8 L39.3 415.0 L38.9 415.0 L38.5 415.5 L38.0 415.5 L37.5 415.3 L37.0 415.3 L36.5 415.3 L36.0 415.3 L35.5 415.4 L34.9 415.3 L34.4 415.4 L33.9 415.3 L33.4 415.1 L32.9 415.0 L32.3 415.3 L31.8 415.2 L31.2 415.2 L30.7 415.1 L30.2 414.4 L29.7 414.3 L29.1 414.2 L28.6 414.0 L28.0 414.2 L27.5 414.0 L27.1 414.0 L26.7 413.8 L26.4 413.4 L26.1 413.4 Z" fill="#000" stroke="#000" stroke-width="0.3" stroke-linejoin="round"/>
<circle cx="25.80" cy="414.60" r="1.05" fill="#000"/>
<circle cx="128.00" cy="456.20" r="1.40" fill="#000"/>
<text x="90.5" y="294.6" font-family="Liberation Sans, sans-serif" font-size="12.3" stroke="#000" stroke-width="0.2">sGC<tspan dy="-3.2" font-size="12.3">+/+</tspan></text>
<text x="100.8" y="353.8" font-family="Liberation Sans, sans-serif" font-size="12.3" stroke="#000" stroke-width="0.2">sGC<tspan dy="-3.2" font-size="12.3">-/-</tspan></text>
<text x="101.6" y="403.4" font-family="Liberation Sans, sans-serif" font-size="12.3" stroke="#000" stroke-width="0.2">sGC<tspan dy="-3.2" font-size="12.3">-/-</tspan></text>
<text x="92.4" y="490.1" font-family="Liberation Sans, sans-serif" font-size="12.3" stroke="#000" stroke-width="0.2">sGC<tspan dy="-3.2" font-size="12.3">+/+</tspan></text>
<path d="M41.2 464 V477.6 H61.4" fill="none" stroke="#000" stroke-width="1"/>
<text x="19.5" y="474.7" font-family="Liberation Sans, sans-serif" font-size="8.7" stroke="#000" stroke-width="0.1">10%</text>
<text x="40" y="487.6" font-family="Liberation Sans, sans-serif" font-size="9" stroke="#000" stroke-width="0.12">1 min</text>
<path d="M151.25 323 L158.3 323.3 L159.5 328.5 L161.1 328.5 L162.1 325.5" fill="none" stroke="#000" stroke-width="2.15" stroke-linejoin="round" stroke-linecap="round"/>
<path d="M162.3 326.6 L162.6 326.5 L162.9 326.4 L163.3 326.4 L163.6 326.3 L164.1 326.2 L164.5 326.1 L165.0 326.0 L165.5 325.9 L166.1 325.8 L166.6 325.7 L167.2 325.6 L167.7 325.5 L168.3 325.3 L168.9 325.2 L169.5 325.1 L170.1 325.0 L170.6 324.8 L171.2 324.7 L171.7 324.6 L172.3 324.4 L172.8 324.3 L173.3 324.2 L173.8 324.0 L174.2 323.9 L174.7 323.8 L175.2 323.6 L175.7 323.5 L176.2 323.3 L176.7 323.2 L177.2 323.0 L177.7 322.9 L178.2 322.7 L178.7 322.6 L179.1 322.4 L179.6 322.3 L180.1 322.1 L180.6 321.9 L181.1 321.7 L181.5 321.6 L182.0 321.4 L182.5 321.2 L182.9 321.0 L183.4 320.8 L183.9 320.6 L184.4 320.3 L184.8 320.1 L185.3 319.9 L185.8 319.7 L186.2 319.4 L186.7 319.2 L187.2 319.0 L187.6 318.7 L188.1 318.5 L188.5 318.2 L189.0 317.9 L189.4 317.6 L189.9 317.4 L190.3 317.1 L190.7 316.8 L191.1 316.5 L191.5 316.1 L191.9 315.8 L192.4 315.5 L192.8 315.1 L193.2 314.7 L193.5 314.3 L193.9 313.9 L194.3 313.4 L194.6 313.0 L195.0 312.6 L195.3 312.2 L195.6 311.7 L195.9 311.3 L196.3 310.9 L196.6 310.5 L196.9 310.1 L197.2 309.7 L197.5 309.3 L197.8 308.9 L198.0 308.5 L198.3 308.2 L198.7 307.7 L199.1 307.3 L199.4 306.9 L199.8 306.4 L200.1 306.0 L200.5 305.6 L200.8 305.2 L201.1 304.8 L201.5 304.4 L201.8 304.0 L202.1 303.7 L202.4 303.4 L202.7 303.1 L202.9 302.8 L203.2 302.6 L203.7 302.2 L204.1 301.8 L204.5 301.6 L204.8 301.4 L205.1 301.3 L205.4 301.2 L205.8 301.1 L206.3 301.1 L206.7 301.1 L207.0 301.1 L207.4 301.1 L207.9 301.2 L208.3 301.2 L208.8 301.3 L209.3 301.4 L209.8 301.6 L210.3 301.7 L210.9 301.9 L211.5 302.1 L212.2 302.3 L212.6 302.4 L212.9 302.5 L213.3 302.7 L213.8 302.8 L214.2 303.0 L214.6 303.1 L215.1 303.3 L215.5 303.5 L216.0 303.7 L216.5 303.9 L217.0 304.1 L217.4 304.3 L217.9 304.5 L218.5 304.7 L219.0 304.9 L219.5 305.1 L220.0 305.3 L220.5 305.5 L221.1 305.6 L221.6 305.8 L222.2 306.0 L222.6 306.2 L223.1 306.3 L223.5 306.5 L224.0 306.6 L224.5 306.8 L224.9 306.9 L225.4 307.1 L225.9 307.2 L226.4 307.4 L226.9 307.5 L227.4 307.7 L227.9 307.8 L228.4 308.0 L228.9 308.1 L229.5 308.3 L230.0 308.4 L230.5 308.6 L231.0 308.7 L231.5 308.9 L231.9 309.0 L232.4 309.1 L232.9 309.3 L233.4 309.4 L233.8 309.5 L234.3 309.7 L234.7 309.8 L235.3 309.9 L235.8 310.1 L236.4 310.2 L236.9 310.4 L237.4 310.5 L238.0 310.7 L238.5 310.8 L239.0 310.9 L239.5 311.0 L240.0 311.2 L240.5 311.3 L241.0 311.4 L241.4 311.5 L241.9 311.6 L242.4 311.8 L242.9 311.9 L243.3 312.0 L243.8 312.1 L244.3 312.2 L244.8 312.3 L245.3 312.4 L245.9 312.6 L246.5 312.7 L247.1 312.8 L247.7 312.9 L248.3 313.0 L248.9 313.2 L249.5 313.3 L250.1 313.4 L250.6 313.5 L251.2 313.6 L251.7 313.7 L252.1 313.8 L252.5 313.9 L252.9 313.9 L253.3 314.0 L253.5 314.1 L254.0 311.9 L253.7 311.9 L253.3 311.8 L252.9 311.7 L252.5 311.7 L252.1 311.6 L251.6 311.5 L251.0 311.4 L250.5 311.3 L249.9 311.2 L249.3 311.1 L248.7 310.9 L248.1 310.8 L247.5 310.7 L247.0 310.6 L246.4 310.4 L245.8 310.3 L245.2 310.2 L244.8 310.1 L244.3 310.0 L243.8 309.9 L243.4 309.8 L242.9 309.7 L242.4 309.5 L241.9 309.4 L241.5 309.3 L241.0 309.2 L240.5 309.1 L240.0 309.0 L239.5 308.8 L239.0 308.7 L238.5 308.6 L238.0 308.4 L237.5 308.3 L236.9 308.2 L236.4 308.0 L235.8 307.9 L235.3 307.7 L234.9 307.6 L234.4 307.5 L233.9 307.3 L233.5 307.2 L233.0 307.1 L232.5 306.9 L232.0 306.8 L231.6 306.7 L231.1 306.5 L230.6 306.4 L230.1 306.2 L229.6 306.1 L229.1 305.9 L228.6 305.8 L228.1 305.6 L227.6 305.5 L227.1 305.3 L226.6 305.2 L226.1 305.0 L225.6 304.9 L225.1 304.7 L224.6 304.6 L224.2 304.4 L223.7 304.3 L223.3 304.1 L222.8 304.0 L222.3 303.8 L221.8 303.6 L221.3 303.4 L220.8 303.2 L220.2 303.0 L219.7 302.9 L219.2 302.7 L218.7 302.5 L218.2 302.3 L217.8 302.1 L217.3 301.9 L216.8 301.7 L216.3 301.5 L215.9 301.3 L215.4 301.1 L214.9 301.0 L214.5 300.8 L214.1 300.6 L213.6 300.5 L213.2 300.4 L212.8 300.2 L212.1 300.0 L211.5 299.8 L210.9 299.7 L210.3 299.5 L209.8 299.4 L209.2 299.2 L208.7 299.1 L208.2 299.0 L207.7 299.0 L207.2 298.9 L206.7 298.9 L206.2 298.9 L205.5 299.0 L204.9 299.1 L204.4 299.2 L203.8 299.5 L203.3 299.8 L202.8 300.1 L202.3 300.5 L201.8 300.9 L201.5 301.2 L201.1 301.5 L200.8 301.9 L200.5 302.2 L200.2 302.6 L199.8 303.0 L199.5 303.4 L199.2 303.8 L198.8 304.2 L198.5 304.6 L198.1 305.1 L197.8 305.5 L197.4 305.9 L197.0 306.4 L196.7 306.8 L196.4 307.2 L196.1 307.6 L195.8 308.0 L195.5 308.4 L195.1 308.8 L194.8 309.2 L194.5 309.6 L194.2 310.0 L193.9 310.4 L193.6 310.9 L193.3 311.3 L193.0 311.7 L192.6 312.1 L192.3 312.5 L192.0 312.8 L191.6 313.2 L191.3 313.5 L190.9 313.9 L190.6 314.2 L190.2 314.5 L189.8 314.8 L189.5 315.0 L189.1 315.3 L188.7 315.6 L188.3 315.8 L187.9 316.1 L187.4 316.3 L187.0 316.6 L186.6 316.8 L186.2 317.1 L185.7 317.3 L185.3 317.5 L184.8 317.7 L184.4 318.0 L183.9 318.2 L183.5 318.4 L183.0 318.6 L182.5 318.8 L182.1 319.0 L181.6 319.2 L181.2 319.4 L180.7 319.6 L180.3 319.7 L179.8 319.9 L179.4 320.1 L178.9 320.2 L178.5 320.4 L178.0 320.5 L177.5 320.7 L177.0 320.8 L176.6 321.0 L176.1 321.1 L175.6 321.3 L175.1 321.4 L174.6 321.5 L174.2 321.7 L173.7 321.8 L173.2 321.9 L172.7 322.1 L172.2 322.2 L171.7 322.3 L171.2 322.5 L170.7 322.6 L170.1 322.7 L169.6 322.9 L169.0 323.0 L168.5 323.1 L167.9 323.2 L167.3 323.4 L166.7 323.5 L166.2 323.6 L165.6 323.7 L165.1 323.8 L164.6 323.9 L164.1 324.0 L163.7 324.1 L163.2 324.2 L162.8 324.3 L162.5 324.3 L162.2 324.4 L161.9 324.4 Z" fill="#000" stroke="#000" stroke-width="0.3" stroke-linejoin="round"/>
<circle cx="162.10" cy="325.50" r="1.07" fill="#000"/>
<circle cx="253.75" cy="313.00" r="1.07" fill="#000"/>
<path d="M151.25 332.5 L158.8 332.8 L160.0 339 L161.6 339 L162.6 336.25" fill="none" stroke="#000" stroke-width="2.15" stroke-linejoin="round" stroke-linecap="round"/>
<path d="M162.7 337.3 L162.9 337.3 L163.3 337.3 L163.6 337.3 L164.1 337.3 L164.5 337.3 L165.0 337.2 L165.6 337.2 L166.1 337.2 L166.7 337.2 L167.3 337.2 L167.9 337.1 L168.5 337.1 L169.1 337.0 L169.7 337.0 L170.4 336.9 L171.0 336.8 L171.6 336.8 L172.2 336.7 L172.7 336.6 L173.2 336.4 L173.7 336.3 L174.2 336.2 L174.7 336.0 L175.2 335.9 L175.7 335.7 L176.2 335.5 L176.7 335.4 L177.2 335.2 L177.6 335.0 L178.1 334.8 L178.6 334.6 L179.1 334.4 L179.6 334.3 L180.0 334.1 L180.5 333.9 L181.0 333.7 L181.4 333.5 L181.9 333.3 L182.4 333.2 L182.9 333.0 L183.3 332.9 L183.8 332.7 L184.3 332.5 L184.7 332.4 L185.2 332.2 L185.7 332.0 L186.1 331.9 L186.6 331.7 L187.1 331.6 L187.5 331.4 L188.0 331.3 L188.5 331.1 L188.9 330.9 L189.4 330.8 L189.9 330.6 L190.3 330.5 L190.8 330.3 L191.3 330.2 L191.8 330.1 L192.3 329.9 L192.8 329.8 L193.3 329.7 L193.7 329.5 L194.2 329.4 L194.7 329.2 L195.2 329.1 L195.6 329.0 L196.1 328.8 L196.6 328.7 L197.1 328.5 L197.6 328.4 L198.1 328.3 L198.6 328.1 L199.0 328.0 L199.5 327.9 L200.0 327.8 L200.5 327.7 L201.0 327.6 L201.4 327.5 L201.9 327.5 L202.4 327.4 L202.9 327.4 L203.3 327.3 L203.8 327.3 L204.3 327.3 L204.7 327.3 L205.2 327.4 L205.7 327.4 L206.2 327.4 L206.7 327.5 L207.2 327.6 L207.7 327.7 L208.2 327.8 L208.7 327.9 L209.2 328.0 L209.7 328.1 L210.2 328.2 L210.8 328.3 L211.3 328.4 L211.8 328.6 L212.3 328.7 L212.8 328.8 L213.3 328.9 L213.8 329.1 L214.3 329.2 L214.7 329.3 L215.3 329.4 L215.8 329.6 L216.3 329.7 L216.8 329.8 L217.3 330.0 L217.8 330.1 L218.3 330.3 L218.8 330.4 L219.3 330.6 L219.7 330.7 L220.2 330.9 L220.7 331.1 L221.2 331.2 L221.7 331.4 L222.2 331.5 L222.7 331.7 L223.2 331.8 L223.7 332.0 L224.2 332.1 L224.7 332.3 L225.2 332.4 L225.7 332.6 L226.2 332.7 L226.7 332.8 L227.2 333.0 L227.7 333.1 L228.2 333.2 L228.7 333.4 L229.2 333.5 L229.7 333.6 L230.2 333.7 L230.7 333.9 L231.2 334.0 L231.7 334.1 L232.3 334.2 L232.8 334.3 L233.3 334.5 L233.8 334.6 L234.3 334.7 L234.8 334.8 L235.3 334.9 L235.8 335.0 L236.3 335.1 L236.8 335.2 L237.3 335.3 L237.8 335.4 L238.3 335.6 L238.8 335.7 L239.3 335.8 L239.8 335.9 L240.3 336.0 L240.8 336.0 L241.3 336.1 L241.8 336.2 L242.3 336.3 L242.8 336.4 L243.3 336.5 L243.8 336.6 L244.3 336.7 L244.8 336.8 L245.3 336.9 L245.9 337.0 L246.4 337.1 L247.0 337.2 L247.6 337.3 L248.2 337.4 L248.7 337.5 L249.3 337.7 L249.9 337.8 L250.5 337.9 L251.0 338.0 L251.5 338.1 L252.0 338.1 L252.5 338.2 L252.9 338.3 L253.3 338.4 L253.7 338.4 L254.0 338.5 L254.3 338.6 L254.7 336.4 L254.4 336.4 L254.1 336.3 L253.7 336.3 L253.3 336.2 L252.9 336.1 L252.4 336.0 L251.9 335.9 L251.4 335.8 L250.8 335.7 L250.3 335.6 L249.7 335.5 L249.1 335.4 L248.6 335.3 L248.0 335.2 L247.4 335.1 L246.8 335.0 L246.3 334.9 L245.7 334.8 L245.2 334.7 L244.7 334.6 L244.2 334.5 L243.7 334.4 L243.2 334.3 L242.7 334.2 L242.2 334.1 L241.7 334.0 L241.2 333.9 L240.7 333.8 L240.2 333.7 L239.7 333.6 L239.2 333.5 L238.7 333.4 L238.2 333.3 L237.7 333.2 L237.2 333.1 L236.7 333.0 L236.2 332.9 L235.7 332.8 L235.2 332.7 L234.7 332.6 L234.2 332.5 L233.7 332.4 L233.2 332.2 L232.7 332.1 L232.3 332.0 L231.8 331.9 L231.3 331.8 L230.8 331.6 L230.3 331.5 L229.8 331.4 L229.3 331.3 L228.8 331.1 L228.3 331.0 L227.8 330.9 L227.3 330.8 L226.8 330.6 L226.3 330.5 L225.8 330.3 L225.3 330.2 L224.8 330.1 L224.3 329.9 L223.8 329.8 L223.3 329.6 L222.9 329.5 L222.4 329.3 L221.9 329.2 L221.4 329.0 L220.9 328.9 L220.4 328.7 L219.9 328.5 L219.4 328.4 L218.9 328.2 L218.4 328.1 L217.9 327.9 L217.4 327.8 L216.9 327.6 L216.3 327.5 L215.8 327.3 L215.3 327.2 L214.8 327.1 L214.3 327.0 L213.8 326.8 L213.3 326.7 L212.8 326.6 L212.3 326.5 L211.8 326.3 L211.3 326.2 L210.7 326.1 L210.2 326.0 L209.7 325.9 L209.1 325.7 L208.6 325.6 L208.1 325.5 L207.5 325.5 L207.0 325.4 L206.5 325.3 L205.9 325.3 L205.4 325.2 L204.8 325.2 L204.3 325.2 L203.7 325.2 L203.2 325.2 L202.7 325.2 L202.2 325.3 L201.6 325.3 L201.1 325.4 L200.6 325.5 L200.1 325.6 L199.6 325.7 L199.1 325.8 L198.5 325.9 L198.0 326.1 L197.5 326.2 L197.0 326.3 L196.5 326.5 L196.0 326.6 L195.5 326.8 L195.0 326.9 L194.6 327.0 L194.1 327.2 L193.6 327.3 L193.1 327.5 L192.7 327.6 L192.2 327.7 L191.7 327.9 L191.2 328.0 L190.7 328.1 L190.2 328.3 L189.7 328.4 L189.2 328.6 L188.7 328.7 L188.3 328.9 L187.8 329.1 L187.3 329.2 L186.8 329.4 L186.4 329.5 L185.9 329.7 L185.4 329.9 L185.0 330.0 L184.5 330.2 L184.0 330.3 L183.6 330.5 L183.1 330.7 L182.6 330.8 L182.1 331.0 L181.7 331.2 L181.2 331.3 L180.7 331.5 L180.2 331.7 L179.7 331.9 L179.2 332.1 L178.8 332.2 L178.3 332.4 L177.8 332.6 L177.3 332.8 L176.9 333.0 L176.4 333.2 L175.9 333.3 L175.5 333.5 L175.0 333.7 L174.5 333.8 L174.1 334.0 L173.6 334.1 L173.2 334.2 L172.7 334.3 L172.3 334.4 L171.8 334.5 L171.2 334.6 L170.7 334.7 L170.1 334.8 L169.5 334.8 L168.9 334.9 L168.3 334.9 L167.8 335.0 L167.2 335.0 L166.6 335.0 L166.0 335.1 L165.5 335.1 L165.0 335.1 L164.5 335.1 L164.0 335.1 L163.6 335.1 L163.2 335.1 L162.8 335.2 L162.5 335.2 Z" fill="#000" stroke="#000" stroke-width="0.3" stroke-linejoin="round"/>
<circle cx="162.60" cy="336.25" r="1.07" fill="#000"/>
<circle cx="254.50" cy="337.50" r="1.07" fill="#000"/>
<path d="M161.8 344.3 L165.9 354.2 L157.70000000000002 354.2 Z" fill="#000"/>
<line x1="161.8" y1="354.2" x2="161.8" y2="365.9" stroke="#000" stroke-width="1.15"/>
<text x="154.6" y="379.9" font-family="Liberation Sans, sans-serif" font-size="12.35" font-weight="bold">Collagen 0.6 ug/ml</text>
<path d="M161.8 400.9 L165.9 390.8 L157.70000000000002 390.8 Z" fill="#000"/>
<line x1="161.8" y1="382.8" x2="161.8" y2="390.8" stroke="#000" stroke-width="1.15"/>
<path d="M153.8 406.7 L154.1 406.7 L154.4 406.7 L154.8 406.7 L155.2 407.0 L155.7 407.0 L156.2 406.8 L156.7 406.8 L157.2 406.7 L157.8 406.7 L158.4 406.7 L159.0 406.7 L159.6 406.5 L160.2 406.5 L160.8 406.4 L161.4 406.3 L162.0 406.5 L162.5 406.4 L163.0 406.2 L163.6 406.1 L164.0 405.9 L164.6 405.7 L165.3 405.7 L165.9 405.4 L166.4 405.2 L166.9 404.9 L167.3 404.3 L167.7 404.0 L168.1 403.7 L168.5 403.4 L168.9 403.1 L169.3 402.9 L169.7 402.6 L170.1 402.4 L170.5 402.2 L171.0 402.0 L171.5 401.6 L172.0 401.4 L172.5 401.1 L172.9 400.9 L173.4 400.7 L173.8 400.4 L174.2 400.2 L174.7 400.0 L175.1 400.1 L175.5 400.1 L175.8 399.8 L176.2 399.8 L176.5 400.1 L176.8 400.2 L177.3 400.1 L177.7 400.2 L178.1 400.2 L178.5 400.4 L178.9 400.6 L179.3 400.9 L179.5 401.4 L179.9 401.7 L180.3 402.0 L180.7 402.4 L181.3 402.7 L181.7 403.2 L181.9 403.5 L182.1 403.8 L182.2 404.2 L182.5 404.5 L182.9 404.8 L183.1 405.2 L183.2 405.7 L183.5 406.1 L183.8 406.5 L184.1 406.9 L184.2 407.4 L184.4 407.9 L184.8 408.3 L185.0 408.8 L185.5 409.2 L185.7 409.7 L185.8 410.2 L186.1 410.8 L186.4 411.2 L186.6 411.7 L186.7 412.3 L187.0 412.8 L187.3 413.3 L187.6 413.8 L187.7 414.3 L188.0 414.7 L188.3 415.1 L188.6 415.5 L188.7 416.0 L188.9 416.5 L189.3 416.9 L189.6 417.4 L189.7 417.9 L189.9 418.4 L190.0 419.0 L190.2 419.4 L190.5 419.9 L190.8 420.4 L190.9 420.9 L191.1 421.4 L191.5 421.8 L191.7 422.3 L192.1 422.7 L192.4 423.2 L192.4 423.7 L192.7 424.2 L192.9 424.7 L193.1 425.1 L193.1 425.7 L193.4 426.1 L193.7 426.5 L193.9 426.9 L194.3 427.4 L194.6 427.9 L194.9 428.3 L195.2 428.8 L195.6 429.2 L195.9 429.7 L196.0 430.3 L196.3 430.8 L196.7 431.2 L197.0 431.6 L197.4 432.0 L197.7 432.4 L197.9 432.9 L198.2 433.3 L198.6 433.6 L198.9 434.0 L199.2 434.4 L199.5 434.8 L199.9 435.1 L200.2 435.4 L200.7 435.6 L201.1 436.1 L201.5 436.6 L202.0 436.9 L202.3 437.5 L202.7 437.8 L203.2 438.2 L203.7 438.5 L204.2 438.6 L204.7 438.9 L205.1 439.1 L205.6 439.4 L206.1 439.7 L206.6 439.9 L207.1 439.9 L207.6 440.1 L208.1 440.0 L208.6 440.2 L209.0 440.6 L209.5 440.7 L210.0 440.4 L210.5 440.5 L211.0 440.7 L211.5 440.7 L212.0 441.3 L212.6 441.4 L213.2 440.9 L213.8 440.8 L214.4 440.7 L215.1 440.7 L215.5 440.4 L215.9 440.3 L216.4 440.9 L216.9 440.8 L217.4 440.9 L217.9 440.9 L218.4 441.0 L218.9 440.9 L219.3 439.8 L219.8 439.7 L220.3 439.8 L220.9 439.8 L221.4 440.0 L222.0 439.9 L222.6 440.1 L223.1 440.0 L223.6 439.6 L224.1 439.5 L224.6 439.1 L225.1 439.0 L225.7 439.4 L226.2 439.3 L226.7 438.7 L227.2 438.6 L227.7 438.7 L228.2 438.6 L228.8 439.0 L229.3 438.9 L229.6 437.9 L230.1 437.8 L230.6 437.7 L231.1 437.6 L231.7 438.3 L232.2 438.2 L232.6 437.8 L233.1 437.7 L233.6 437.8 L234.1 437.7 L234.5 437.2 L235.0 437.1 L235.6 437.3 L236.0 437.2 L236.5 437.0 L237.0 437.0 L237.5 437.0 L238.0 436.9 L238.6 437.2 L239.1 437.1 L239.5 436.3 L240.1 436.3 L240.6 436.8 L241.1 436.8 L241.6 436.7 L242.1 436.7 L242.6 436.9 L243.2 436.9 L243.7 436.3 L244.3 436.2 L244.9 436.1 L245.4 436.1 L246.0 436.6 L246.6 436.6 L247.2 436.1 L247.8 436.1 L248.3 436.6 L248.9 436.6 L249.4 436.1 L250.0 436.1 L250.5 436.0 L251.0 436.0 L251.5 436.4 L252.0 436.4 L252.4 435.9 L252.8 435.9 L253.2 436.1 L253.6 436.0 L254.0 436.2 L254.3 436.1 L254.5 436.3 L254.5 433.8 L254.2 433.8 L253.9 433.8 L253.6 433.5 L253.2 433.6 L252.8 433.7 L252.4 433.7 L251.9 434.2 L251.5 434.2 L251.0 434.0 L250.5 434.0 L249.9 433.6 L249.4 433.6 L248.9 434.2 L248.3 434.2 L247.7 433.9 L247.1 433.9 L246.6 434.1 L246.0 434.1 L245.4 433.5 L244.8 433.5 L244.2 433.7 L243.6 433.7 L243.1 434.1 L242.5 434.1 L242.0 434.3 L241.4 434.3 L240.9 434.2 L240.4 434.2 L239.8 433.8 L239.3 433.8 L238.8 434.6 L238.3 434.7 L237.7 434.1 L237.2 434.2 L236.7 434.6 L236.2 434.7 L235.6 434.5 L235.1 434.5 L234.7 435.0 L234.2 435.1 L233.7 435.2 L233.2 435.3 L232.8 435.8 L232.3 435.9 L231.7 435.4 L231.2 435.5 L230.7 435.6 L230.2 435.7 L229.7 435.4 L229.2 435.5 L228.8 436.4 L228.4 436.5 L227.8 436.0 L227.3 436.1 L226.7 436.1 L226.2 436.2 L225.8 436.7 L225.3 436.8 L224.7 437.0 L224.2 437.1 L223.6 437.0 L223.1 437.1 L222.7 437.8 L222.2 437.8 L221.5 437.5 L221.0 437.6 L220.5 437.7 L220.0 437.8 L219.4 437.4 L218.9 437.5 L218.5 438.2 L218.0 438.3 L217.5 438.0 L217.0 438.1 L216.6 438.6 L216.2 438.6 L215.7 437.6 L215.3 437.7 L214.9 437.9 L214.3 438.0 L213.7 438.0 L213.1 438.0 L212.6 438.6 L212.1 438.6 L211.7 438.2 L211.2 438.2 L210.8 438.3 L210.3 438.3 L210.0 437.9 L209.6 437.9 L209.2 437.8 L208.7 437.7 L208.3 437.7 L207.9 437.5 L207.4 437.4 L207.0 437.2 L206.6 437.0 L206.2 436.8 L205.5 437.2 L205.1 437.0 L204.7 436.6 L204.3 436.4 L204.2 435.7 L203.8 435.4 L203.4 435.2 L203.0 434.9 L202.5 434.5 L202.1 434.1 L201.6 434.0 L201.4 433.7 L201.4 433.2 L201.1 432.8 L200.6 432.6 L200.3 432.3 L200.0 432.0 L199.7 431.6 L199.4 431.2 L199.1 430.8 L199.0 430.2 L198.7 429.8 L198.3 429.5 L198.0 429.0 L197.9 428.5 L197.6 428.0 L197.1 427.7 L196.8 427.2 L196.6 426.6 L196.3 426.2 L195.9 425.7 L195.7 425.3 L195.4 425.0 L195.2 424.5 L195.1 424.0 L194.9 423.6 L194.5 423.3 L194.2 422.8 L194.4 422.2 L194.2 421.7 L193.8 421.3 L193.5 420.8 L193.0 420.5 L192.8 420.0 L192.6 419.5 L192.3 419.0 L192.3 418.5 L192.1 418.0 L191.9 417.5 L191.7 417.0 L191.6 416.4 L191.4 415.9 L190.9 415.5 L190.7 415.1 L190.4 414.6 L190.2 414.2 L189.9 413.7 L189.7 413.3 L189.5 412.7 L189.3 412.2 L189.0 411.8 L188.7 411.3 L188.7 410.7 L188.4 410.2 L187.9 409.8 L187.7 409.3 L187.5 408.8 L187.3 408.3 L186.9 407.8 L186.7 407.4 L186.3 406.9 L186.0 406.4 L186.0 405.9 L185.7 405.4 L185.3 405.0 L185.0 404.6 L185.0 404.1 L184.7 403.6 L184.4 403.2 L184.2 402.9 L183.9 402.5 L183.6 402.1 L183.3 401.8 L182.8 401.3 L182.4 400.7 L181.9 400.2 L181.4 399.9 L180.9 399.5 L180.4 399.2 L179.9 398.9 L179.4 398.6 L178.9 398.3 L178.4 398.1 L177.9 398.0 L177.3 398.0 L176.8 397.9 L176.3 397.8 L175.7 397.7 L175.1 397.7 L174.6 397.8 L173.9 397.8 L173.4 398.0 L173.0 398.6 L172.5 398.8 L171.8 398.8 L171.3 399.1 L170.8 399.4 L170.4 399.7 L169.8 399.8 L169.4 400.1 L168.9 400.4 L168.5 400.7 L168.0 400.9 L167.6 401.3 L167.2 401.7 L166.8 402.0 L166.4 402.3 L166.0 402.5 L165.8 403.1 L165.4 403.4 L164.9 403.5 L164.4 403.7 L163.9 403.6 L163.4 403.8 L163.1 404.0 L162.7 404.1 L162.2 404.2 L161.7 404.3 L161.2 404.3 L160.6 404.4 L160.0 404.3 L159.5 404.3 L158.9 404.5 L158.3 404.5 L157.7 404.3 L157.2 404.3 L156.6 404.6 L156.1 404.6 L155.6 404.7 L155.1 404.7 L154.7 404.6 L154.3 404.6 L154.0 404.5 L153.7 404.5 Z" fill="#000" stroke="#000" stroke-width="0.3" stroke-linejoin="round"/>
<circle cx="153.75" cy="405.75" r="1.10" fill="#000"/>
<circle cx="254.50" cy="435.00" r="1.25" fill="#000"/>
<path d="M153.9 414.2 L154.1 414.1 L154.5 413.9 L154.8 413.9 L155.3 414.1 L155.8 414.0 L156.3 414.0 L156.8 414.0 L157.4 413.7 L157.9 413.6 L158.6 413.7 L159.2 413.7 L159.8 413.5 L160.4 413.4 L161.0 413.5 L161.6 413.4 L162.2 413.3 L162.8 413.3 L163.4 413.2 L163.9 413.1 L164.4 413.0 L164.8 412.9 L165.2 412.6 L166.0 412.4 L166.7 412.3 L167.3 412.1 L167.9 411.7 L168.4 411.4 L168.7 411.0 L169.1 410.7 L169.4 410.4 L169.8 410.2 L170.1 410.1 L170.5 409.9 L171.2 409.8 L171.7 409.5 L171.9 408.9 L172.3 408.7 L172.7 408.7 L173.0 408.7 L173.2 408.5 L173.6 408.6 L173.8 408.7 L174.1 408.8 L174.5 408.9 L174.9 409.1 L175.1 409.6 L175.5 409.8 L176.2 409.8 L176.6 410.1 L176.9 410.6 L177.3 411.0 L177.7 411.4 L178.0 411.8 L178.1 412.2 L178.3 412.6 L178.5 413.0 L178.7 413.4 L178.9 413.8 L179.1 414.3 L179.1 414.8 L179.3 415.3 L179.7 415.7 L179.9 416.2 L180.2 416.7 L180.4 417.2 L180.4 417.8 L180.6 418.3 L180.8 418.9 L181.0 419.4 L181.1 419.9 L181.3 420.3 L181.7 420.6 L181.8 421.0 L181.7 421.5 L181.9 421.9 L182.0 422.3 L182.1 422.7 L182.6 423.0 L182.7 423.4 L182.8 423.9 L182.9 424.3 L183.1 424.8 L183.3 425.3 L183.2 425.9 L183.4 426.5 L183.6 427.1 L183.8 427.8 L184.1 428.1 L184.2 428.5 L184.3 428.9 L184.4 429.3 L184.6 429.8 L184.7 430.2 L184.7 430.7 L184.8 431.2 L184.8 431.6 L184.9 432.1 L185.2 432.6 L185.3 433.1 L185.4 433.6 L185.5 434.2 L185.3 434.7 L185.4 435.3 L185.8 435.8 L185.9 436.3 L185.8 436.9 L185.9 437.4 L186.4 437.9 L186.5 438.5 L186.6 439.0 L186.8 439.5 L186.6 440.1 L186.7 440.7 L187.0 441.2 L187.1 441.7 L187.2 442.2 L187.3 442.7 L187.3 443.3 L187.4 443.8 L187.6 444.3 L187.7 444.8 L187.8 445.2 L187.9 445.7 L188.1 446.3 L188.2 446.8 L188.2 447.3 L188.4 447.8 L188.2 448.4 L188.3 448.9 L188.9 449.3 L189.1 449.8 L189.1 450.3 L189.2 450.8 L189.4 451.3 L189.6 451.8 L189.1 452.4 L189.2 452.9 L189.4 453.4 L189.5 453.8 L190.2 454.2 L190.3 454.6 L190.4 455.1 L190.5 455.6 L190.4 456.1 L190.5 456.6 L191.0 457.0 L191.1 457.5 L190.7 458.1 L190.8 458.5 L191.0 459.0 L191.1 459.4 L191.8 459.8 L191.9 460.2 L191.9 460.8 L192.1 461.3 L191.8 461.9 L191.9 462.4 L192.6 462.7 L192.7 463.2 L192.7 463.8 L192.8 464.3 L192.4 464.9 L192.5 465.4 L193.1 465.8 L193.2 466.2 L193.4 466.7 L193.5 467.2 L193.2 467.8 L193.3 468.3 L194.2 468.6 L194.3 469.1 L194.1 469.7 L194.3 470.1 L194.8 470.5 L194.9 471.0 L194.0 471.8 L194.2 472.3 L194.3 472.8 L194.5 473.3 L195.4 473.5 L195.6 474.0 L195.8 474.5 L196.0 474.9 L195.8 475.6 L196.1 476.1 L196.9 476.3 L197.1 476.8 L197.7 477.1 L197.9 477.6 L197.9 478.2 L198.2 478.7 L198.1 479.4 L198.4 479.9 L198.5 480.4 L198.8 480.9 L199.7 481.0 L200.0 481.5 L199.9 482.1 L200.2 482.5 L200.7 482.8 L201.0 483.3 L200.9 483.9 L201.2 484.3 L201.4 484.8 L201.7 485.2 L201.7 485.7 L201.9 486.1 L202.7 486.2 L203.0 486.7 L202.6 487.8 L203.0 488.3 L203.8 488.4 L204.1 488.9 L204.5 489.3 L204.9 489.8 L205.5 490.0 L205.8 490.4 L205.5 491.4 L205.9 491.8 L206.6 491.8 L207.0 492.2 L207.7 492.1 L208.1 492.5 L208.4 492.9 L208.7 493.3 L208.4 494.3 L208.8 494.7 L209.2 495.2 L209.7 495.6 L210.4 495.6 L210.9 496.0 L211.4 496.3 L211.9 496.6 L212.4 496.8 L212.9 497.1 L212.9 498.1 L213.4 498.4 L214.5 497.4 L214.9 497.6 L214.9 498.7 L215.4 499.0 L215.7 499.6 L216.1 499.8 L217.2 498.8 L217.7 499.1 L218.2 499.4 L218.6 499.6 L219.0 500.0 L219.5 500.3 L220.0 500.4 L220.5 500.6 L221.2 500.4 L221.7 500.6 L221.8 501.7 L222.3 501.9 L222.9 501.7 L223.4 501.9 L224.0 501.5 L224.4 501.7 L224.7 502.2 L225.1 502.3 L225.3 503.4 L225.8 503.5 L226.6 502.4 L227.1 502.6 L227.4 503.6 L228.0 503.7 L228.8 502.6 L229.5 502.7 L229.9 504.5 L230.4 504.5 L231.0 503.1 L231.5 503.2 L231.9 504.0 L232.3 504.0 L232.9 503.5 L233.4 503.5 L234.0 503.4 L234.5 503.5 L235.1 503.1 L235.7 503.2 L236.2 503.8 L236.7 503.9 L237.3 504.3 L237.8 504.4 L238.3 506.2 L238.8 506.3 L239.5 505.3 L240.0 505.4 L240.6 505.6 L241.1 505.6 L241.7 504.5 L242.2 504.5 L242.6 506.4 L243.1 506.5 L243.7 505.3 L244.3 505.3 L244.9 505.5 L245.5 505.5 L246.1 505.3 L246.7 505.3 L247.3 504.8 L247.9 504.8 L248.5 505.2 L249.1 505.2 L249.7 504.8 L250.2 504.8 L250.7 505.2 L251.2 505.2 L251.7 505.5 L252.2 505.5 L252.6 504.2 L253.0 504.3 L253.3 505.5 L253.6 505.5 L253.9 506.0 L253.9 500.6 L253.7 500.1 L253.3 500.1 L253.0 500.3 L252.6 500.3 L252.2 500.7 L251.7 500.7 L251.3 499.8 L250.8 499.8 L250.2 500.6 L249.7 500.6 L249.2 500.9 L248.6 500.9 L248.0 499.5 L247.5 499.5 L246.8 501.3 L246.2 501.3 L245.7 500.7 L245.1 500.7 L244.6 499.7 L244.0 499.7 L243.5 500.7 L243.0 500.7 L242.6 499.7 L242.1 499.6 L241.5 500.5 L241.0 500.5 L240.5 499.7 L239.9 499.7 L239.2 501.6 L238.7 501.5 L238.3 499.6 L237.7 499.6 L237.1 499.6 L236.6 499.5 L236.1 498.9 L235.6 498.8 L235.1 498.3 L234.6 498.2 L233.9 499.1 L233.4 499.0 L232.8 499.9 L232.4 499.8 L232.0 499.0 L231.6 498.9 L230.9 500.6 L230.6 500.5 L230.1 498.9 L229.5 498.8 L229.0 498.7 L228.5 498.6 L228.1 498.3 L227.7 498.2 L227.0 499.2 L226.6 499.1 L226.1 499.2 L225.7 499.1 L226.0 497.1 L225.6 496.9 L224.5 498.7 L224.0 498.5 L223.9 497.2 L223.5 497.0 L223.1 496.5 L222.6 496.4 L222.0 496.7 L221.5 496.6 L221.1 496.4 L220.6 496.2 L219.8 496.9 L219.3 496.7 L219.5 495.0 L219.1 494.8 L217.8 496.3 L217.4 496.0 L217.1 495.5 L216.6 495.3 L216.5 494.5 L216.0 494.3 L215.5 494.2 L215.1 494.0 L214.4 494.3 L214.0 494.1 L214.1 492.9 L213.7 492.7 L212.9 493.0 L212.5 492.7 L212.2 492.2 L211.8 491.9 L211.5 491.4 L211.2 491.2 L211.1 490.6 L210.7 490.3 L210.2 490.3 L209.8 490.0 L208.8 490.3 L208.5 490.0 L208.2 489.5 L207.9 489.2 L208.4 488.1 L208.0 487.7 L207.3 487.7 L206.9 487.3 L206.7 486.8 L206.3 486.4 L205.6 486.2 L205.3 485.8 L205.1 485.2 L204.8 484.7 L204.1 484.6 L203.9 484.3 L203.9 483.7 L203.6 483.3 L203.7 482.7 L203.4 482.3 L203.1 481.9 L202.9 481.5 L202.6 481.1 L202.3 480.7 L202.4 480.0 L202.2 479.6 L201.2 479.5 L200.9 479.1 L200.8 478.5 L200.5 478.1 L200.4 477.6 L200.1 477.1 L200.2 476.5 L200.0 476.0 L199.6 475.6 L199.4 475.1 L198.5 475.0 L198.2 474.5 L198.2 473.9 L198.0 473.5 L197.7 473.1 L197.5 472.6 L197.2 472.2 L197.0 471.8 L197.0 471.3 L196.9 470.8 L197.1 470.2 L196.9 469.8 L196.3 469.5 L196.1 469.0 L196.4 468.4 L196.3 468.0 L196.1 467.5 L195.9 467.1 L195.7 466.6 L195.5 466.1 L195.5 465.6 L195.4 465.1 L194.8 464.8 L194.7 464.3 L194.9 463.7 L194.8 463.2 L194.7 462.7 L194.6 462.2 L194.1 461.8 L194.0 461.3 L194.1 460.7 L194.0 460.2 L194.0 459.6 L193.9 459.2 L193.3 458.9 L193.1 458.4 L193.3 457.9 L193.1 457.4 L193.3 456.8 L193.2 456.4 L192.7 456.0 L192.5 455.6 L192.6 455.0 L192.5 454.6 L192.5 454.1 L192.3 453.6 L191.9 453.2 L191.8 452.7 L191.4 452.3 L191.2 451.8 L191.6 451.2 L191.5 450.7 L191.6 450.2 L191.5 449.7 L190.9 449.3 L190.8 448.8 L190.7 448.3 L190.6 447.8 L190.7 447.2 L190.6 446.7 L190.2 446.3 L190.1 445.8 L189.9 445.3 L189.8 444.8 L190.1 444.2 L190.0 443.7 L189.8 443.2 L189.7 442.8 L189.2 442.3 L189.0 441.8 L189.2 441.3 L189.1 440.7 L188.9 440.2 L188.8 439.7 L188.6 439.2 L188.5 438.6 L188.5 438.1 L188.4 437.5 L188.3 437.0 L188.2 436.4 L188.1 435.9 L188.0 435.3 L187.7 434.8 L187.6 434.3 L187.6 433.7 L187.5 433.2 L187.5 432.7 L187.4 432.2 L187.2 431.7 L187.1 431.2 L186.7 430.7 L186.6 430.3 L186.8 429.7 L186.7 429.3 L186.4 428.9 L186.3 428.4 L186.1 428.1 L186.0 427.6 L186.1 427.2 L185.9 426.5 L185.6 425.9 L185.4 425.3 L185.3 424.7 L185.1 424.1 L185.1 423.6 L185.0 423.1 L184.7 422.7 L184.6 422.2 L184.3 421.8 L184.1 421.4 L184.1 421.0 L183.9 420.6 L183.9 420.2 L183.7 419.8 L183.5 419.4 L183.3 419.0 L183.0 418.6 L182.8 418.1 L182.7 417.6 L182.5 417.1 L182.3 416.5 L182.1 416.0 L182.1 415.4 L181.9 414.9 L181.4 414.5 L181.2 414.0 L180.9 413.5 L180.7 413.0 L180.6 412.4 L180.4 412.0 L180.3 411.4 L180.0 411.0 L179.8 410.5 L179.4 410.0 L178.9 409.6 L178.4 409.1 L177.9 408.7 L177.4 408.2 L176.9 408.0 L176.4 407.6 L175.9 407.4 L175.4 407.1 L175.0 406.7 L174.5 406.5 L173.9 406.3 L173.2 406.2 L172.6 406.5 L171.9 406.7 L171.4 406.9 L170.9 407.2 L170.4 407.5 L169.9 407.8 L169.4 407.9 L169.0 408.1 L168.6 408.4 L168.2 408.7 L167.9 409.1 L167.5 409.3 L167.2 409.6 L166.8 409.9 L166.4 410.1 L165.9 410.4 L165.3 410.3 L164.6 410.5 L164.4 410.8 L164.0 410.9 L163.5 411.0 L163.0 411.0 L162.5 411.1 L162.0 411.2 L161.4 411.2 L160.8 411.3 L160.2 411.3 L159.6 411.3 L159.0 411.4 L158.4 411.4 L157.8 411.5 L157.2 411.5 L156.6 411.9 L156.1 411.9 L155.6 411.8 L155.1 411.8 L154.7 411.6 L154.3 411.7 L153.9 411.8 L153.6 411.8 Z" fill="#000" stroke="#000" stroke-width="0.3" stroke-linejoin="round"/>
<circle cx="153.75" cy="413.00" r="1.10" fill="#000"/>
<circle cx="253.90" cy="503.00" r="2.50" fill="#000"/>
<text x="225.6" y="296.1" font-family="Liberation Sans, sans-serif" font-size="12.3" stroke="#000" stroke-width="0.2">sGC<tspan dy="-3.2" font-size="12.3">+/+</tspan></text>
<text x="220.2" y="358.0" font-family="Liberation Sans, sans-serif" font-size="12.3" stroke="#000" stroke-width="0.2">sGC<tspan dy="-3.2" font-size="12.3">-/-</tspan></text>
<text x="219.0" y="420.5" font-family="Liberation Sans, sans-serif" font-size="12.3" stroke="#000" stroke-width="0.2">sGC<tspan dy="-3.2" font-size="12.3">-/-</tspan></text>
<text x="221.4" y="524.3" font-family="Liberation Sans, sans-serif" font-size="12.3" stroke="#000" stroke-width="0.2">sGC<tspan dy="-3.2" font-size="12.3">+/+</tspan></text>
<path d="M278.75 323 L283.55 323.3 L284.75 328.5 L286.35 328.5 L287.35 325.75" fill="none" stroke="#000" stroke-width="2.15" stroke-linejoin="round" stroke-linecap="round"/>
<path d="M287.6 326.8 L287.8 326.7 L288.2 326.7 L288.6 326.6 L289.0 326.5 L289.5 326.4 L290.1 326.3 L290.7 326.2 L291.3 326.0 L291.9 325.9 L292.6 325.6 L293.2 325.3 L293.8 325.0 L294.4 324.6 L294.7 324.3 L295.1 324.0 L295.5 323.7 L295.8 323.4 L296.2 323.0 L296.5 322.6 L296.9 322.3 L297.2 321.9 L297.6 321.5 L297.9 321.0 L298.2 320.6 L298.6 320.2 L298.9 319.7 L299.2 319.3 L299.6 318.8 L299.9 318.3 L300.2 317.8 L300.6 317.3 L300.9 316.8 L301.2 316.5 L301.4 316.1 L301.7 315.7 L301.9 315.2 L302.2 314.8 L302.4 314.4 L302.7 314.0 L303.0 313.5 L303.2 313.1 L303.5 312.6 L303.8 312.2 L304.0 311.7 L304.3 311.2 L304.5 310.8 L304.8 310.3 L305.0 309.8 L305.3 309.3 L305.5 308.8 L305.8 308.4 L306.0 307.9 L306.3 307.4 L306.5 306.9 L306.8 306.4 L307.0 305.9 L307.2 305.5 L307.4 305.0 L307.7 304.5 L307.9 304.0 L308.1 303.5 L308.3 303.0 L308.5 302.5 L308.7 302.0 L308.9 301.5 L309.1 301.0 L309.3 300.4 L309.5 299.9 L309.7 299.4 L309.9 298.9 L310.1 298.4 L310.3 297.9 L310.5 297.4 L310.7 296.9 L310.8 296.4 L311.0 295.9 L311.2 295.5 L311.4 295.0 L311.6 294.6 L311.7 294.1 L311.9 293.7 L312.1 293.3 L312.2 292.9 L312.5 292.3 L312.8 291.7 L313.0 291.2 L313.3 290.6 L313.5 290.1 L313.8 289.6 L314.0 289.1 L314.2 288.6 L314.4 288.2 L314.7 287.7 L314.9 287.3 L315.1 286.9 L315.3 286.6 L315.5 286.2 L315.7 285.9 L315.9 285.6 L316.3 285.0 L316.7 284.5 L317.0 284.1 L317.3 283.9 L317.5 283.7 L317.8 283.6 L318.1 283.6 L318.3 283.6 L318.6 283.6 L318.9 283.7 L319.3 283.9 L319.7 284.1 L320.2 284.3 L320.7 284.7 L321.3 285.0 L321.9 285.4 L322.3 285.6 L322.6 285.8 L322.9 286.1 L323.3 286.3 L323.7 286.6 L324.1 286.9 L324.4 287.2 L324.8 287.5 L325.3 287.8 L325.7 288.1 L326.1 288.4 L326.6 288.7 L327.0 289.1 L327.5 289.4 L327.9 289.8 L328.4 290.1 L328.9 290.5 L329.4 290.9 L329.7 291.1 L330.1 291.4 L330.4 291.7 L330.8 291.9 L331.1 292.2 L331.5 292.5 L331.9 292.8 L332.3 293.1 L332.6 293.4 L333.0 293.7 L333.4 294.0 L333.8 294.3 L334.2 294.6 L334.6 294.9 L335.0 295.3 L335.5 295.6 L335.9 295.9 L336.3 296.2 L336.7 296.5 L337.2 296.8 L337.6 297.2 L338.1 297.5 L338.5 297.8 L338.9 298.1 L339.4 298.4 L339.8 298.7 L340.2 298.9 L340.6 299.2 L341.0 299.5 L341.4 299.7 L341.8 300.0 L342.3 300.3 L342.7 300.5 L343.1 300.8 L343.6 301.1 L344.0 301.3 L344.4 301.6 L344.9 301.9 L345.3 302.2 L345.8 302.4 L346.2 302.7 L346.7 303.0 L347.1 303.2 L347.6 303.5 L348.0 303.8 L348.4 304.0 L348.9 304.3 L349.3 304.5 L349.8 304.8 L350.2 305.0 L350.7 305.3 L351.1 305.5 L351.6 305.7 L352.0 306.0 L352.5 306.2 L352.9 306.4 L353.4 306.7 L353.9 306.9 L354.3 307.1 L354.8 307.4 L355.3 307.6 L355.7 307.8 L356.2 308.0 L356.7 308.2 L357.2 308.4 L357.6 308.7 L358.1 308.9 L358.6 309.1 L359.0 309.3 L359.5 309.5 L360.0 309.7 L360.4 309.9 L360.9 310.1 L361.4 310.2 L361.8 310.4 L362.3 310.6 L362.8 310.8 L363.2 311.0 L363.7 311.2 L364.2 311.3 L364.6 311.5 L365.1 311.7 L365.6 311.9 L366.1 312.0 L366.6 312.2 L367.0 312.4 L367.5 312.5 L368.0 312.7 L368.5 312.8 L369.0 313.0 L369.4 313.1 L369.9 313.3 L370.4 313.4 L370.9 313.5 L371.4 313.7 L371.8 313.8 L372.3 314.0 L372.8 314.1 L373.3 314.2 L373.8 314.4 L374.2 314.5 L374.7 314.6 L375.2 314.8 L375.7 314.9 L376.2 315.0 L376.7 315.2 L377.2 315.3 L377.7 315.4 L378.2 315.5 L378.7 315.7 L379.3 315.8 L379.8 315.9 L380.4 316.1 L380.9 316.2 L381.5 316.4 L382.1 316.5 L382.6 316.6 L383.2 316.8 L383.8 316.9 L384.4 317.0 L384.9 317.2 L385.5 317.3 L386.0 317.4 L386.5 317.5 L387.1 317.6 L387.6 317.8 L388.0 317.9 L388.5 318.0 L389.0 318.1 L389.4 318.2 L389.8 318.3 L390.1 318.3 L390.4 318.4 L390.7 318.5 L391.0 318.5 L391.5 316.5 L391.2 316.4 L390.9 316.3 L390.6 316.2 L390.2 316.2 L389.8 316.1 L389.4 316.0 L389.0 315.9 L388.5 315.8 L388.0 315.7 L387.5 315.6 L387.0 315.4 L386.5 315.3 L386.0 315.2 L385.4 315.1 L384.8 314.9 L384.3 314.8 L383.7 314.7 L383.1 314.5 L382.6 314.4 L382.0 314.3 L381.4 314.1 L380.9 314.0 L380.3 313.9 L379.8 313.7 L379.3 313.6 L378.7 313.5 L378.3 313.3 L377.8 313.2 L377.3 313.1 L376.8 312.9 L376.3 312.8 L375.8 312.7 L375.3 312.5 L374.8 312.4 L374.3 312.3 L373.8 312.2 L373.4 312.0 L372.9 311.9 L372.4 311.8 L371.9 311.6 L371.5 311.5 L371.0 311.3 L370.5 311.2 L370.1 311.1 L369.6 310.9 L369.1 310.8 L368.7 310.6 L368.2 310.5 L367.7 310.3 L367.3 310.2 L366.8 310.0 L366.3 309.8 L365.8 309.7 L365.4 309.5 L364.9 309.3 L364.5 309.1 L364.0 309.0 L363.5 308.8 L363.1 308.6 L362.6 308.4 L362.2 308.3 L361.7 308.1 L361.2 307.9 L360.8 307.7 L360.3 307.5 L359.9 307.3 L359.4 307.1 L359.0 306.9 L358.5 306.7 L358.0 306.5 L357.6 306.3 L357.1 306.1 L356.7 305.9 L356.2 305.6 L355.7 305.4 L355.3 305.2 L354.8 305.0 L354.4 304.7 L353.9 304.5 L353.5 304.3 L353.0 304.0 L352.6 303.8 L352.1 303.6 L351.7 303.4 L351.3 303.1 L350.8 302.9 L350.4 302.6 L350.0 302.4 L349.5 302.1 L349.1 301.9 L348.6 301.6 L348.2 301.4 L347.8 301.1 L347.3 300.9 L346.9 300.6 L346.4 300.3 L346.0 300.1 L345.6 299.8 L345.1 299.5 L344.7 299.3 L344.3 299.0 L343.8 298.7 L343.4 298.4 L343.0 298.2 L342.6 297.9 L342.2 297.6 L341.8 297.4 L341.4 297.1 L341.0 296.9 L340.6 296.6 L340.2 296.3 L339.7 296.0 L339.3 295.7 L338.9 295.4 L338.4 295.1 L338.0 294.8 L337.6 294.5 L337.2 294.2 L336.8 293.9 L336.4 293.5 L335.9 293.2 L335.5 292.9 L335.1 292.6 L334.8 292.3 L334.4 292.0 L334.0 291.7 L333.6 291.4 L333.2 291.1 L332.8 290.8 L332.5 290.5 L332.1 290.2 L331.7 290.0 L331.4 289.7 L331.0 289.4 L330.6 289.1 L330.2 288.8 L329.7 288.4 L329.2 288.1 L328.8 287.7 L328.3 287.4 L327.9 287.0 L327.4 286.7 L327.0 286.4 L326.6 286.0 L326.1 285.7 L325.7 285.4 L325.3 285.1 L324.9 284.8 L324.5 284.6 L324.2 284.3 L323.8 284.1 L323.4 283.8 L323.1 283.6 L322.4 283.2 L321.8 282.8 L321.3 282.5 L320.7 282.2 L320.2 281.9 L319.6 281.7 L319.1 281.5 L318.5 281.4 L317.9 281.4 L317.2 281.5 L316.6 281.8 L316.0 282.1 L315.5 282.6 L315.0 283.1 L314.6 283.7 L314.1 284.4 L313.9 284.7 L313.7 285.1 L313.4 285.5 L313.2 285.9 L313.0 286.3 L312.8 286.7 L312.5 287.2 L312.3 287.7 L312.0 288.1 L311.8 288.6 L311.6 289.2 L311.3 289.7 L311.1 290.3 L310.8 290.9 L310.5 291.5 L310.3 292.1 L310.1 292.5 L309.9 292.9 L309.7 293.3 L309.6 293.8 L309.4 294.2 L309.2 294.7 L309.0 295.2 L308.8 295.6 L308.7 296.1 L308.5 296.6 L308.3 297.1 L308.1 297.6 L307.9 298.1 L307.7 298.6 L307.5 299.2 L307.3 299.7 L307.1 300.2 L306.9 300.7 L306.7 301.2 L306.5 301.7 L306.3 302.2 L306.1 302.7 L305.9 303.2 L305.7 303.6 L305.5 304.1 L305.3 304.5 L305.1 305.0 L304.8 305.5 L304.6 306.0 L304.4 306.4 L304.1 306.9 L303.9 307.4 L303.6 307.9 L303.4 308.3 L303.1 308.8 L302.9 309.3 L302.6 309.7 L302.4 310.2 L302.1 310.6 L301.9 311.1 L301.6 311.5 L301.4 312.0 L301.1 312.4 L300.9 312.9 L300.6 313.3 L300.4 313.7 L300.1 314.1 L299.8 314.5 L299.6 314.9 L299.4 315.3 L299.1 315.7 L298.8 316.1 L298.5 316.6 L298.1 317.1 L297.8 317.6 L297.5 318.0 L297.2 318.4 L296.8 318.9 L296.5 319.3 L296.2 319.7 L295.9 320.1 L295.6 320.5 L295.3 320.8 L294.9 321.2 L294.6 321.5 L294.3 321.8 L294.0 322.1 L293.7 322.4 L293.4 322.6 L293.1 322.9 L292.7 323.2 L292.2 323.4 L291.7 323.6 L291.2 323.8 L290.7 324.0 L290.2 324.1 L289.7 324.2 L289.2 324.3 L288.7 324.4 L288.2 324.5 L287.8 324.6 L287.4 324.6 L287.1 324.7 Z" fill="#000" stroke="#000" stroke-width="0.3" stroke-linejoin="round"/>
<circle cx="287.35" cy="325.75" r="1.07" fill="#000"/>
<circle cx="391.25" cy="317.50" r="1.07" fill="#000"/>
<path d="M278.75 332 L284.05 332.3 L285.25 337.3 L286.85 337.3 L287.85 333" fill="none" stroke="#000" stroke-width="2.15" stroke-linejoin="round" stroke-linecap="round"/>
<path d="M287.9 334.1 L288.2 334.0 L288.5 334.0 L288.9 334.0 L289.3 334.0 L289.8 333.9 L290.2 333.9 L290.8 333.9 L291.3 333.8 L291.8 333.8 L292.4 333.8 L293.0 333.7 L293.6 333.6 L294.2 333.6 L294.8 333.5 L295.4 333.4 L296.0 333.4 L296.6 333.3 L297.2 333.2 L297.7 333.1 L298.2 332.9 L298.7 332.8 L299.2 332.7 L299.7 332.6 L300.2 332.4 L300.7 332.3 L301.2 332.2 L301.7 332.0 L302.2 331.8 L302.7 331.7 L303.2 331.5 L303.7 331.3 L304.2 331.2 L304.7 331.0 L305.2 330.8 L305.7 330.6 L306.1 330.5 L306.6 330.3 L307.0 330.1 L307.5 329.9 L307.9 329.7 L308.4 329.5 L309.0 329.3 L309.4 329.1 L309.9 328.8 L310.4 328.6 L310.9 328.3 L311.3 328.1 L311.8 327.8 L312.2 327.6 L312.7 327.3 L313.1 327.1 L313.5 326.8 L314.0 326.5 L314.4 326.2 L314.8 326.0 L315.2 325.7 L315.6 325.4 L316.1 325.0 L316.5 324.6 L317.0 324.3 L317.4 323.9 L317.8 323.4 L318.2 323.0 L318.6 322.6 L319.0 322.2 L319.4 321.8 L319.7 321.5 L320.1 321.1 L320.4 320.7 L320.8 320.4 L321.1 320.1 L321.5 319.9 L321.8 319.6 L322.3 319.4 L322.7 319.1 L323.1 318.9 L323.5 318.7 L323.8 318.5 L324.2 318.3 L324.5 318.2 L324.9 318.1 L325.3 318.0 L325.8 317.9 L326.3 317.9 L326.9 317.8 L327.5 317.8 L327.9 317.8 L328.2 317.8 L328.6 317.9 L329.0 317.9 L329.5 318.0 L329.9 318.0 L330.4 318.1 L330.9 318.1 L331.4 318.2 L331.9 318.3 L332.4 318.4 L332.9 318.5 L333.4 318.6 L334.0 318.7 L334.5 318.8 L335.0 318.9 L335.6 319.0 L336.1 319.1 L336.7 319.2 L337.2 319.3 L337.7 319.4 L338.3 319.5 L338.8 319.6 L339.3 319.7 L339.8 319.8 L340.3 319.9 L340.8 320.0 L341.3 320.1 L341.8 320.2 L342.3 320.3 L342.8 320.4 L343.3 320.5 L343.8 320.6 L344.3 320.7 L344.8 320.8 L345.3 320.9 L345.8 321.0 L346.3 321.1 L346.8 321.2 L347.3 321.3 L347.8 321.4 L348.3 321.5 L348.8 321.6 L349.3 321.7 L349.8 321.8 L350.3 321.9 L350.8 322.0 L351.3 322.1 L351.8 322.2 L352.3 322.3 L352.8 322.4 L353.3 322.5 L353.8 322.6 L354.3 322.7 L354.8 322.7 L355.3 322.8 L355.8 322.9 L356.3 323.0 L356.8 323.1 L357.3 323.2 L357.8 323.2 L358.3 323.3 L358.8 323.4 L359.3 323.5 L359.8 323.6 L360.3 323.6 L360.8 323.7 L361.3 323.8 L361.8 323.9 L362.3 323.9 L362.8 324.0 L363.3 324.1 L363.8 324.2 L364.3 324.2 L364.8 324.3 L365.3 324.4 L365.8 324.5 L366.3 324.5 L366.8 324.6 L367.3 324.7 L367.8 324.8 L368.3 324.8 L368.8 324.9 L369.3 325.0 L369.8 325.0 L370.3 325.1 L370.8 325.2 L371.3 325.2 L371.8 325.3 L372.3 325.4 L372.8 325.4 L373.3 325.5 L373.8 325.6 L374.3 325.7 L374.8 325.7 L375.3 325.8 L375.8 325.9 L376.3 325.9 L376.8 326.0 L377.4 326.1 L377.9 326.1 L378.4 326.2 L378.9 326.3 L379.5 326.3 L380.0 326.4 L380.6 326.5 L381.2 326.6 L381.8 326.6 L382.4 326.7 L383.0 326.8 L383.6 326.9 L384.1 326.9 L384.7 327.0 L385.3 327.1 L385.9 327.2 L386.4 327.2 L387.0 327.3 L387.5 327.4 L388.0 327.4 L388.5 327.5 L389.0 327.5 L389.4 327.6 L389.8 327.7 L390.2 327.7 L390.5 327.7 L390.8 327.8 L391.1 327.8 L391.4 325.7 L391.1 325.6 L390.8 325.6 L390.5 325.6 L390.1 325.5 L389.7 325.5 L389.2 325.4 L388.8 325.4 L388.3 325.3 L387.8 325.2 L387.2 325.2 L386.7 325.1 L386.1 325.0 L385.6 325.0 L385.0 324.9 L384.4 324.8 L383.8 324.7 L383.2 324.7 L382.6 324.6 L382.0 324.5 L381.5 324.4 L380.9 324.4 L380.3 324.3 L379.7 324.2 L379.2 324.1 L378.7 324.1 L378.1 324.0 L377.6 323.9 L377.1 323.9 L376.6 323.8 L376.1 323.7 L375.6 323.7 L375.1 323.6 L374.6 323.5 L374.1 323.5 L373.6 323.4 L373.1 323.3 L372.6 323.2 L372.1 323.2 L371.6 323.1 L371.1 323.0 L370.6 323.0 L370.1 322.9 L369.6 322.8 L369.1 322.8 L368.6 322.7 L368.1 322.6 L367.6 322.6 L367.1 322.5 L366.6 322.4 L366.2 322.3 L365.7 322.3 L365.2 322.2 L364.7 322.1 L364.2 322.0 L363.7 322.0 L363.2 321.9 L362.7 321.8 L362.2 321.7 L361.7 321.7 L361.2 321.6 L360.7 321.5 L360.2 321.4 L359.7 321.4 L359.2 321.3 L358.7 321.2 L358.2 321.1 L357.7 321.0 L357.2 321.0 L356.7 320.9 L356.2 320.8 L355.7 320.7 L355.2 320.6 L354.7 320.5 L354.2 320.5 L353.7 320.4 L353.2 320.3 L352.7 320.2 L352.2 320.1 L351.7 320.0 L351.2 319.9 L350.7 319.8 L350.2 319.7 L349.7 319.6 L349.2 319.5 L348.7 319.4 L348.2 319.3 L347.7 319.2 L347.2 319.1 L346.7 319.0 L346.2 318.9 L345.7 318.8 L345.2 318.7 L344.7 318.6 L344.2 318.5 L343.7 318.4 L343.2 318.3 L342.7 318.2 L342.2 318.1 L341.7 318.0 L341.2 317.9 L340.7 317.8 L340.2 317.7 L339.7 317.6 L339.2 317.5 L338.7 317.4 L338.1 317.3 L337.6 317.2 L337.1 317.1 L336.5 317.0 L336.0 316.9 L335.4 316.8 L334.9 316.7 L334.4 316.6 L333.8 316.5 L333.3 316.4 L332.8 316.3 L332.2 316.2 L331.7 316.1 L331.2 316.0 L330.7 315.9 L330.2 315.9 L329.7 315.8 L329.2 315.8 L328.8 315.7 L328.3 315.7 L327.9 315.7 L327.5 315.7 L326.8 315.7 L326.1 315.7 L325.5 315.8 L324.9 315.9 L324.4 316.0 L323.9 316.2 L323.4 316.3 L322.9 316.6 L322.5 316.8 L322.0 317.0 L321.6 317.3 L321.1 317.5 L320.7 317.9 L320.2 318.1 L319.8 318.5 L319.4 318.8 L319.0 319.2 L318.6 319.5 L318.2 319.9 L317.8 320.3 L317.4 320.7 L317.0 321.1 L316.7 321.5 L316.3 321.9 L315.9 322.3 L315.5 322.7 L315.1 323.0 L314.8 323.3 L314.4 323.6 L314.0 323.9 L313.6 324.2 L313.2 324.5 L312.8 324.7 L312.4 325.0 L312.0 325.2 L311.6 325.5 L311.2 325.7 L310.7 326.0 L310.3 326.2 L309.9 326.4 L309.4 326.7 L309.0 326.9 L308.5 327.1 L308.1 327.3 L307.6 327.5 L307.1 327.8 L306.7 327.9 L306.2 328.1 L305.8 328.3 L305.4 328.5 L304.9 328.6 L304.4 328.8 L304.0 329.0 L303.5 329.1 L303.0 329.3 L302.5 329.5 L302.1 329.6 L301.6 329.8 L301.1 329.9 L300.6 330.1 L300.1 330.2 L299.6 330.4 L299.1 330.5 L298.7 330.6 L298.2 330.7 L297.7 330.8 L297.3 330.9 L296.8 331.1 L296.2 331.1 L295.7 331.2 L295.1 331.3 L294.6 331.4 L294.0 331.4 L293.4 331.5 L292.8 331.6 L292.2 331.6 L291.7 331.7 L291.1 331.7 L290.6 331.7 L290.1 331.8 L289.6 331.8 L289.2 331.8 L288.8 331.8 L288.4 331.9 L288.0 331.9 L287.8 331.9 Z" fill="#000" stroke="#000" stroke-width="0.3" stroke-linejoin="round"/>
<circle cx="287.85" cy="333.00" r="1.07" fill="#000"/>
<circle cx="391.25" cy="326.75" r="1.07" fill="#000"/>
<path d="M286.1 342.8 L290.20000000000005 352.7 L282.0 352.7 Z" fill="#000"/>
<line x1="286.1" y1="352.7" x2="286.1" y2="364.2" stroke="#000" stroke-width="1.15"/>
<text x="270.1" y="377.3" font-family="Liberation Sans, sans-serif" font-size="12.35" font-weight="bold">Collagen 1 ug/ml</text>
<path d="M286.1 398.8 L290.20000000000005 389 L282.0 389 Z" fill="#000"/>
<line x1="286.1" y1="381.1" x2="286.1" y2="389" stroke="#000" stroke-width="1.15"/>
<path d="M278.1 406.4 L278.4 406.4 L278.8 406.3 L279.2 406.3 L279.8 406.4 L280.3 406.4 L280.9 406.5 L281.6 406.5 L282.2 406.6 L282.8 406.6 L283.4 406.4 L284.0 406.4 L284.5 406.5 L285.1 406.4 L285.7 406.2 L286.3 406.1 L286.8 405.9 L287.3 405.7 L288.0 405.8 L288.5 405.6 L289.0 405.2 L289.5 404.9 L290.1 404.7 L290.5 404.3 L291.0 403.9 L291.4 403.5 L291.5 402.8 L291.8 402.4 L292.2 402.0 L292.5 401.6 L292.8 401.2 L293.0 400.9 L293.4 400.8 L293.8 400.4 L294.2 400.0 L294.6 399.7 L295.0 399.5 L295.3 399.4 L295.5 399.2 L295.8 399.1 L296.0 399.2 L296.2 399.3 L296.5 399.2 L296.8 399.4 L297.0 399.7 L297.3 399.9 L297.7 400.2 L298.0 400.6 L298.2 401.1 L298.5 401.6 L298.8 402.2 L299.0 402.5 L299.0 402.8 L299.2 403.2 L299.3 403.6 L299.4 404.0 L299.5 404.5 L299.6 404.9 L300.1 405.4 L300.2 405.8 L300.0 406.4 L300.2 406.9 L300.5 407.4 L300.6 408.0 L300.7 408.5 L300.9 409.1 L301.1 409.6 L301.2 410.2 L301.1 410.8 L301.3 411.4 L301.6 411.9 L301.7 412.4 L301.8 412.8 L301.9 413.3 L302.1 413.8 L302.2 414.2 L302.0 414.8 L302.2 415.3 L302.3 415.8 L302.4 416.3 L302.4 416.8 L302.5 417.3 L302.9 417.8 L303.0 418.3 L303.0 418.8 L303.1 419.3 L303.2 419.9 L303.3 420.4 L303.3 420.9 L303.4 421.5 L303.7 421.9 L303.8 422.5 L303.9 423.0 L304.0 423.5 L304.0 424.0 L304.1 424.5 L304.5 425.0 L304.6 425.5 L304.4 426.1 L304.5 426.6 L304.7 427.0 L304.8 427.5 L304.8 428.1 L304.9 428.6 L305.0 429.1 L305.1 429.6 L305.1 430.1 L305.3 430.6 L305.5 431.1 L305.6 431.6 L305.8 432.1 L305.9 432.6 L306.0 433.1 L306.1 433.6 L306.4 434.1 L306.5 434.6 L306.5 435.1 L306.6 435.6 L306.6 436.1 L306.7 436.6 L306.9 437.1 L307.0 437.6 L306.9 438.2 L307.0 438.7 L307.1 439.2 L307.2 439.7 L307.2 440.2 L307.3 440.8 L307.5 441.3 L307.6 441.8 L308.0 442.2 L308.1 442.8 L308.1 443.3 L308.3 443.8 L308.2 444.4 L308.3 444.9 L308.7 445.3 L308.9 445.8 L308.5 446.4 L308.6 447.0 L309.0 447.4 L309.1 447.9 L309.1 448.4 L309.3 448.9 L309.5 449.4 L309.7 449.8 L309.9 450.4 L310.1 450.9 L310.1 451.5 L310.2 452.0 L310.6 452.4 L310.8 453.0 L310.8 453.5 L310.9 454.0 L311.0 454.6 L311.1 455.1 L311.0 455.7 L311.1 456.2 L311.7 456.5 L311.9 457.0 L312.0 457.5 L312.1 458.0 L312.1 458.6 L312.3 459.1 L312.7 459.4 L312.8 459.9 L312.9 460.4 L313.1 460.9 L312.9 461.5 L313.0 462.0 L313.6 462.4 L313.7 462.9 L314.2 463.3 L314.4 463.8 L314.2 464.4 L314.4 464.9 L314.9 465.3 L315.1 465.7 L315.1 466.3 L315.2 466.8 L315.6 467.2 L315.8 467.7 L316.1 468.1 L316.3 468.6 L315.6 469.4 L315.8 469.9 L315.9 470.4 L316.1 470.8 L317.0 470.9 L317.3 471.4 L317.5 471.9 L317.7 472.4 L317.9 472.9 L318.1 473.4 L318.5 473.8 L318.7 474.3 L319.3 474.5 L319.6 475.0 L319.1 475.8 L319.4 476.3 L320.2 476.4 L320.5 476.8 L320.5 477.4 L320.8 477.9 L320.3 478.9 L320.6 479.3 L321.4 479.4 L321.8 479.8 L322.6 479.8 L322.9 480.2 L323.4 480.5 L323.7 480.9 L323.2 482.1 L323.5 482.5 L324.0 482.8 L324.4 483.2 L325.0 483.3 L325.4 483.7 L326.5 483.2 L326.9 483.6 L326.8 484.7 L327.2 485.0 L327.2 486.0 L327.7 486.3 L328.6 486.0 L329.0 486.3 L329.8 486.1 L330.2 486.4 L330.0 487.7 L330.5 487.9 L331.5 487.2 L331.9 487.5 L332.3 487.8 L332.8 488.1 L333.3 488.1 L333.8 488.4 L333.8 489.6 L334.3 489.8 L335.1 489.3 L335.6 489.5 L336.1 489.7 L336.6 490.0 L336.7 491.2 L337.2 491.4 L337.7 491.6 L338.2 491.9 L338.8 491.7 L339.3 491.9 L340.1 491.3 L340.6 491.5 L340.9 492.0 L341.4 492.2 L341.4 493.4 L341.9 493.6 L343.0 492.3 L343.5 492.5 L343.7 493.5 L344.2 493.7 L344.6 494.2 L345.1 494.4 L345.4 495.1 L345.9 495.3 L346.6 495.1 L347.1 495.2 L347.8 494.9 L348.3 495.0 L348.4 496.4 L348.9 496.5 L349.6 495.9 L350.1 496.0 L350.7 496.0 L351.2 496.2 L351.6 496.5 L352.1 496.6 L352.5 497.3 L353.0 497.5 L353.5 497.4 L354.0 497.6 L354.9 496.4 L355.4 496.6 L355.7 497.4 L356.2 497.5 L356.6 497.8 L357.1 498.0 L357.5 498.7 L358.0 498.8 L358.7 498.5 L359.2 498.6 L359.6 498.9 L360.2 499.1 L360.9 498.5 L361.4 498.6 L361.6 500.3 L362.1 500.4 L362.9 499.2 L363.4 499.3 L363.8 499.5 L364.3 499.6 L364.8 499.8 L365.3 499.9 L365.9 499.9 L366.4 500.0 L366.8 500.4 L367.4 500.5 L367.8 500.9 L368.3 501.0 L368.8 501.4 L369.3 501.5 L369.9 501.6 L370.4 501.7 L370.9 501.8 L371.4 501.8 L372.0 501.4 L372.5 501.5 L373.1 501.6 L373.6 501.7 L374.1 501.1 L374.6 501.2 L375.1 501.1 L375.6 501.1 L376.1 502.5 L376.7 502.6 L377.2 503.0 L377.9 503.0 L378.6 501.4 L379.2 501.5 L379.8 501.1 L380.5 501.2 L381.0 502.5 L381.6 502.5 L382.2 503.1 L382.7 503.1 L383.4 501.8 L383.9 501.9 L384.4 502.2 L384.9 502.2 L385.4 503.0 L385.8 503.0 L386.3 502.6 L386.6 502.6 L387.0 502.9 L387.3 502.9 L387.6 503.3 L387.8 498.9 L387.5 498.2 L387.2 498.2 L386.8 498.1 L386.4 498.1 L386.0 498.5 L385.5 498.5 L385.1 498.0 L384.6 497.9 L384.1 497.7 L383.5 497.6 L383.0 498.0 L382.4 497.9 L381.8 498.1 L381.2 498.1 L380.7 496.7 L380.1 496.7 L379.5 497.6 L378.9 497.5 L378.3 497.8 L377.7 497.8 L377.2 497.5 L376.6 497.4 L376.2 496.4 L375.7 496.3 L375.1 497.3 L374.6 497.2 L374.1 497.4 L373.6 497.4 L373.2 497.1 L372.7 497.0 L372.1 497.3 L371.6 497.2 L371.0 497.8 L370.5 497.7 L370.2 496.4 L369.7 496.3 L369.2 496.1 L368.7 496.0 L368.1 496.4 L367.6 496.3 L367.2 495.5 L366.7 495.4 L365.9 496.7 L365.4 496.7 L365.3 494.7 L364.9 494.6 L364.3 495.0 L363.8 494.9 L363.0 496.2 L362.6 496.1 L362.4 494.6 L361.8 494.5 L361.3 494.3 L360.8 494.2 L360.1 494.9 L359.6 494.7 L359.0 495.2 L358.5 495.0 L358.3 494.0 L357.8 493.9 L357.2 494.1 L356.7 494.0 L356.5 492.9 L356.0 492.8 L355.4 493.0 L354.9 492.9 L354.4 493.0 L353.9 492.8 L353.4 492.7 L352.9 492.6 L352.8 491.3 L352.3 491.2 L351.4 492.3 L350.9 492.2 L350.2 492.6 L349.7 492.4 L349.6 491.2 L349.1 491.0 L348.2 491.9 L347.7 491.7 L347.6 490.7 L347.1 490.5 L346.6 490.3 L346.1 490.1 L345.3 490.8 L344.8 490.6 L345.1 488.5 L344.6 488.3 L343.6 489.3 L343.2 489.2 L343.0 488.2 L342.5 488.0 L342.3 487.4 L341.8 487.2 L341.1 487.6 L340.7 487.4 L339.9 487.9 L339.4 487.7 L338.8 487.8 L338.3 487.6 L338.2 486.5 L337.7 486.2 L337.2 486.1 L336.7 485.9 L336.2 485.9 L335.7 485.7 L335.4 485.2 L334.9 485.0 L334.4 484.9 L334.0 484.7 L333.8 484.0 L333.4 483.8 L332.4 484.5 L332.0 484.3 L332.1 483.2 L331.8 483.0 L331.4 482.8 L331.0 482.6 L330.0 483.1 L329.6 482.8 L329.0 482.7 L328.6 482.4 L328.7 481.5 L328.3 481.2 L328.2 480.6 L327.8 480.3 L326.9 480.6 L326.6 480.2 L326.5 479.7 L326.1 479.3 L325.7 479.1 L325.3 478.8 L325.4 478.0 L325.1 477.6 L324.2 477.8 L323.9 477.4 L323.7 477.0 L323.3 476.6 L323.5 475.9 L323.2 475.5 L322.4 475.5 L322.1 475.1 L322.5 474.3 L322.2 473.9 L321.5 473.8 L321.2 473.4 L321.7 472.6 L321.4 472.2 L320.4 472.2 L320.1 471.8 L320.6 470.9 L320.3 470.5 L319.2 470.5 L318.9 470.0 L318.9 469.5 L318.7 469.1 L318.7 468.6 L318.5 468.1 L318.6 467.6 L318.4 467.2 L318.1 466.7 L317.9 466.3 L317.7 465.8 L317.6 465.3 L317.2 464.9 L317.0 464.5 L316.5 464.1 L316.4 463.6 L316.7 462.9 L316.5 462.4 L315.7 462.2 L315.5 461.7 L315.4 461.2 L315.2 460.7 L315.7 460.0 L315.5 459.5 L315.0 459.1 L314.9 458.7 L314.6 458.2 L314.4 457.8 L314.0 457.3 L313.8 456.9 L313.9 456.3 L313.7 455.8 L313.4 455.4 L313.2 454.9 L313.2 454.4 L313.0 453.9 L313.0 453.4 L312.8 452.9 L312.8 452.3 L312.6 451.8 L312.2 451.4 L312.1 450.9 L312.1 450.3 L312.0 449.8 L311.5 449.4 L311.4 448.9 L311.1 448.5 L310.9 448.0 L311.0 447.5 L310.9 447.0 L311.0 446.4 L310.8 445.9 L310.7 445.5 L310.6 444.9 L310.4 444.5 L310.3 443.9 L310.1 443.4 L310.0 442.9 L310.3 442.3 L310.2 441.8 L309.9 441.3 L309.8 440.8 L309.6 440.3 L309.5 439.8 L309.4 439.3 L309.3 438.8 L309.0 438.3 L308.9 437.8 L309.1 437.2 L309.0 436.7 L308.7 436.2 L308.6 435.7 L308.7 435.1 L308.6 434.6 L308.4 434.2 L308.3 433.7 L308.3 433.1 L308.2 432.6 L308.1 432.1 L308.0 431.6 L307.7 431.1 L307.6 430.6 L307.3 430.2 L307.2 429.7 L307.2 429.1 L307.1 428.6 L307.1 428.1 L307.0 427.6 L306.7 427.1 L306.6 426.6 L306.6 426.1 L306.5 425.6 L306.5 425.1 L306.4 424.6 L306.2 424.1 L306.1 423.6 L306.2 423.0 L306.1 422.5 L305.8 422.0 L305.7 421.5 L305.4 421.0 L305.3 420.5 L305.3 420.0 L305.2 419.5 L305.2 418.9 L305.1 418.4 L305.0 417.9 L304.9 417.3 L304.7 416.9 L304.6 416.3 L304.6 415.8 L304.5 415.3 L304.3 414.8 L304.1 414.3 L304.1 413.8 L304.0 413.3 L303.9 412.8 L303.8 412.4 L303.8 411.9 L303.7 411.4 L303.5 410.9 L303.4 410.3 L303.1 409.8 L303.0 409.2 L302.9 408.6 L302.8 408.1 L302.8 407.5 L302.7 406.9 L302.2 406.4 L302.1 405.9 L302.2 405.3 L302.0 404.8 L301.8 404.4 L301.6 403.9 L301.4 403.4 L301.3 402.9 L301.3 402.5 L301.1 402.0 L300.9 401.7 L300.7 401.3 L300.3 400.6 L299.9 400.0 L299.6 399.4 L299.2 398.9 L298.7 398.5 L298.3 398.1 L297.9 397.6 L297.5 397.3 L296.9 397.4 L296.3 397.2 L295.7 396.9 L295.0 397.0 L294.5 397.4 L293.9 397.7 L293.4 398.0 L292.9 398.4 L292.4 398.7 L291.9 399.2 L291.5 399.5 L291.2 399.9 L290.9 400.4 L290.5 400.8 L290.1 401.1 L289.8 401.6 L289.6 402.1 L289.3 402.5 L289.0 402.8 L288.8 403.1 L288.4 403.2 L288.0 403.4 L287.7 403.7 L287.3 403.8 L286.8 403.7 L286.4 403.8 L285.9 404.1 L285.4 404.2 L284.9 404.3 L284.3 404.3 L283.8 404.2 L283.3 404.2 L282.8 404.3 L282.2 404.3 L281.6 404.5 L281.0 404.5 L280.4 404.4 L279.8 404.4 L279.3 404.3 L278.8 404.3 L278.4 404.2 L278.1 404.2 Z" fill="#000" stroke="#000" stroke-width="0.3" stroke-linejoin="round"/>
<circle cx="278.10" cy="405.30" r="1.05" fill="#000"/>
<circle cx="387.70" cy="500.30" r="2.15" fill="#000"/>
<path d="M277.4 411.7 L277.7 411.8 L278.1 411.8 L278.6 411.9 L279.1 412.2 L279.7 412.3 L280.3 412.5 L280.9 412.6 L281.6 412.6 L282.2 412.7 L282.8 412.7 L283.4 412.7 L284.0 412.8 L284.6 412.8 L285.3 412.6 L286.0 412.4 L286.6 412.0 L287.1 411.7 L287.4 411.1 L287.8 410.8 L288.3 410.5 L288.7 410.2 L289.4 410.0 L289.8 409.5 L290.1 409.0 L290.4 408.6 L290.7 408.3 L290.8 408.1 L291.0 408.2 L291.2 408.2 L291.4 408.2 L291.6 408.3 L291.9 408.5 L292.3 408.9 L292.5 409.6 L292.5 409.8 L292.9 410.0 L293.0 410.3 L293.0 410.7 L293.1 411.1 L293.1 411.5 L293.2 412.0 L293.5 412.4 L293.6 412.9 L293.6 413.5 L293.7 414.1 L293.9 414.6 L294.0 415.3 L294.0 415.9 L294.1 416.6 L294.3 417.3 L294.3 417.7 L294.4 418.1 L294.5 418.5 L294.7 418.9 L294.8 419.4 L294.7 419.8 L294.8 420.3 L294.9 420.8 L295.0 421.2 L295.2 421.7 L295.3 422.2 L295.3 422.7 L295.4 423.2 L295.6 423.7 L295.7 424.2 L295.9 424.7 L296.0 425.2 L296.0 425.8 L296.1 426.3 L296.3 426.8 L296.4 427.4 L296.5 427.9 L296.6 428.4 L296.7 429.0 L296.8 429.5 L296.6 430.1 L296.7 430.6 L297.1 431.1 L297.2 431.6 L296.9 432.2 L297.0 432.6 L297.2 433.1 L297.3 433.6 L297.4 434.1 L297.5 434.6 L297.5 435.1 L297.6 435.6 L297.7 436.1 L297.7 436.6 L297.9 437.1 L298.0 437.6 L298.2 438.1 L298.3 438.6 L298.3 439.1 L298.4 439.6 L298.5 440.2 L298.5 440.7 L298.5 441.2 L298.5 441.7 L298.6 442.2 L298.7 442.7 L298.9 443.2 L299.0 443.7 L299.1 444.2 L299.2 444.7 L298.9 445.2 L299.0 445.7 L299.3 446.2 L299.3 446.6 L299.6 447.1 L299.6 447.5 L299.9 447.9 L300.0 448.5 L300.0 449.1 L300.1 449.7 L300.0 450.2 L300.1 450.8 L300.3 451.3 L300.4 451.8 L300.4 452.3 L300.6 452.8 L300.6 453.3 L300.7 453.8 L300.7 454.3 L300.8 454.8 L301.1 455.2 L301.2 455.7 L301.5 456.2 L301.6 456.6 L301.7 457.1 L301.8 457.6 L301.9 458.1 L302.0 458.6 L302.1 459.1 L302.2 459.7 L302.3 460.2 L302.4 460.7 L302.3 461.2 L302.4 461.7 L303.0 462.1 L303.1 462.6 L303.2 463.1 L303.3 463.6 L302.8 464.2 L302.9 464.7 L303.6 465.1 L303.7 465.6 L303.5 466.2 L303.6 466.7 L303.4 467.3 L303.5 467.8 L303.7 468.3 L303.8 468.8 L304.1 469.3 L304.2 469.8 L304.7 470.3 L304.8 470.8 L303.9 471.5 L304.0 471.9 L304.4 472.4 L304.5 472.9 L304.8 473.3 L304.9 473.8 L305.2 474.2 L305.3 474.6 L304.8 475.2 L305.0 475.8 L306.1 476.1 L306.2 476.6 L306.0 477.3 L306.1 477.8 L306.5 478.3 L306.6 478.8 L306.2 479.4 L306.4 479.9 L306.4 480.4 L306.5 480.9 L306.6 481.4 L306.7 481.9 L307.1 482.3 L307.2 482.7 L307.6 483.1 L307.8 483.6 L307.8 484.1 L308.0 484.6 L308.0 485.1 L308.2 485.6 L307.8 486.3 L308.0 486.8 L308.8 487.0 L309.0 487.5 L309.3 487.9 L309.5 488.4 L310.1 488.7 L310.3 489.2 L310.5 489.7 L310.7 490.1 L310.8 490.7 L311.0 491.1 L311.0 491.7 L311.2 492.2 L311.7 492.5 L312.0 493.0 L312.2 493.4 L312.4 493.9 L312.1 494.7 L312.3 495.1 L312.4 495.6 L312.7 496.1 L312.9 496.7 L313.2 497.2 L313.9 497.3 L314.3 497.7 L314.3 498.4 L314.6 498.8 L314.9 499.3 L315.2 499.7 L316.3 499.4 L316.6 499.8 L317.1 500.1 L317.4 500.4 L317.4 501.2 L317.7 501.6 L318.4 501.7 L318.8 502.1 L318.7 502.9 L319.1 503.2 L318.8 504.3 L319.2 504.7 L320.3 504.1 L320.7 504.5 L321.1 504.8 L321.5 505.2 L322.5 504.8 L322.9 505.1 L322.9 506.0 L323.3 506.3 L323.5 506.9 L323.9 507.2 L324.5 507.3 L325.0 507.6 L325.0 508.6 L325.4 508.9 L326.3 508.5 L326.8 508.8 L327.1 509.2 L327.6 509.5 L328.1 509.7 L328.5 509.9 L329.0 510.1 L329.5 510.3 L329.8 510.8 L330.3 511.0 L330.7 511.4 L331.2 511.6 L331.9 511.3 L332.4 511.5 L332.8 511.9 L333.4 512.1 L333.9 512.4 L334.4 512.6 L335.0 512.5 L335.6 512.7 L336.1 513.1 L336.7 513.3 L336.9 514.2 L337.4 514.3 L338.1 513.8 L338.5 514.0 L339.2 513.4 L339.7 513.5 L339.8 515.1 L340.3 515.2 L341.0 514.8 L341.5 514.9 L342.1 514.6 L342.6 514.8 L343.3 514.1 L343.8 514.2 L344.1 515.4 L344.6 515.5 L345.3 515.2 L345.8 515.3 L346.2 515.8 L346.8 516.0 L347.2 516.4 L347.7 516.5 L348.5 515.2 L349.0 515.4 L349.4 516.2 L349.9 516.3 L350.5 516.1 L351.0 516.2 L351.2 517.5 L351.7 517.6 L352.2 517.6 L352.7 517.7 L353.4 517.1 L353.9 517.2 L354.3 517.5 L354.8 517.6 L355.1 518.9 L355.6 519.0 L356.3 518.1 L356.8 518.2 L357.4 518.0 L357.9 518.1 L358.4 517.9 L358.9 518.0 L359.3 518.7 L359.8 518.8 L360.3 518.9 L360.8 519.0 L361.5 518.0 L362.0 518.1 L362.2 519.7 L362.7 519.8 L363.3 519.3 L363.9 519.4 L364.5 518.9 L365.0 519.0 L365.4 519.9 L365.9 520.0 L366.3 520.7 L366.9 520.8 L367.4 520.6 L368.0 520.7 L368.6 519.9 L369.2 520.0 L369.7 520.3 L370.2 520.3 L370.7 520.7 L371.2 520.7 L371.8 520.2 L372.3 520.2 L372.7 521.3 L373.2 521.4 L373.8 521.2 L374.3 521.2 L374.8 521.2 L375.2 521.2 L375.7 521.4 L376.1 521.5 L376.7 520.8 L377.1 520.8 L377.4 522.0 L378.1 522.0 L378.8 521.7 L379.4 521.7 L380.1 521.1 L380.7 521.2 L381.3 521.3 L381.9 521.4 L382.4 521.9 L383.0 521.9 L383.5 522.4 L384.0 522.5 L384.4 522.0 L384.9 522.0 L385.2 522.8 L385.5 522.8 L385.9 522.0 L386.2 522.1 L386.4 517.9 L386.1 517.9 L385.8 518.0 L385.5 517.9 L385.1 516.9 L384.7 516.9 L384.2 517.4 L383.7 517.4 L383.2 517.2 L382.7 517.2 L382.1 517.7 L381.6 517.7 L381.0 517.2 L380.4 517.1 L379.9 516.6 L379.2 516.6 L378.6 516.7 L378.0 516.7 L377.5 516.8 L377.1 516.8 L376.7 516.4 L376.3 516.3 L375.7 517.5 L375.2 517.5 L374.7 517.6 L374.2 517.5 L373.8 517.0 L373.3 516.9 L372.8 516.6 L372.3 516.5 L371.8 516.6 L371.2 516.5 L370.7 516.9 L370.1 516.8 L369.8 515.5 L369.2 515.5 L368.7 515.8 L368.1 515.7 L367.6 515.6 L367.1 515.5 L366.4 516.5 L365.9 516.4 L365.5 515.5 L365.0 515.5 L364.6 514.9 L364.1 514.9 L363.5 515.5 L363.0 515.5 L362.6 514.8 L362.1 514.7 L361.6 514.9 L361.1 514.8 L360.6 514.6 L360.2 514.5 L359.7 514.4 L359.2 514.3 L358.9 513.3 L358.4 513.2 L357.7 514.1 L357.2 514.0 L356.5 514.8 L356.0 514.7 L355.6 514.2 L355.1 514.1 L354.7 513.5 L354.2 513.4 L353.9 512.5 L353.4 512.4 L352.7 513.3 L352.2 513.1 L351.8 512.3 L351.3 512.2 L350.8 512.2 L350.3 512.1 L349.8 511.8 L349.3 511.7 L348.7 511.9 L348.2 511.8 L347.6 511.9 L347.1 511.8 L346.5 511.9 L346.0 511.8 L345.8 510.4 L345.3 510.3 L344.7 510.5 L344.1 510.4 L343.5 511.0 L343.0 510.9 L342.4 511.2 L341.9 511.1 L341.6 510.2 L341.1 510.1 L340.8 509.4 L340.3 509.2 L339.7 509.9 L339.2 509.8 L338.6 510.1 L338.2 510.0 L338.1 508.9 L337.6 508.7 L337.0 508.7 L336.4 508.6 L336.0 508.3 L335.5 508.1 L334.7 508.7 L334.2 508.5 L333.9 508.0 L333.4 507.8 L332.7 508.1 L332.3 507.9 L331.7 507.9 L331.3 507.7 L331.6 506.0 L331.2 505.8 L330.3 506.6 L329.8 506.4 L329.6 505.8 L329.2 505.6 L328.9 505.1 L328.4 504.9 L327.3 505.9 L326.8 505.6 L326.9 504.6 L326.5 504.3 L326.5 503.4 L326.1 503.2 L325.8 502.8 L325.4 502.5 L324.7 502.7 L324.3 502.4 L323.7 502.4 L323.3 502.1 L323.1 501.7 L322.7 501.4 L321.7 501.8 L321.4 501.5 L320.9 501.2 L320.6 500.9 L321.3 499.4 L320.9 499.1 L320.1 499.3 L319.7 498.9 L319.3 498.7 L319.0 498.3 L319.5 497.3 L319.1 497.0 L317.7 497.6 L317.3 497.2 L317.6 496.4 L317.3 496.0 L316.6 496.0 L316.3 495.6 L316.0 495.2 L315.7 494.8 L315.7 494.2 L315.4 493.8 L315.7 493.1 L315.4 492.7 L315.0 492.4 L314.7 492.0 L314.4 491.7 L314.2 491.3 L314.0 490.8 L313.7 490.4 L314.2 489.6 L313.9 489.2 L313.2 489.0 L313.0 488.5 L312.4 488.2 L312.2 487.8 L311.6 487.5 L311.4 487.0 L311.6 486.4 L311.4 485.9 L310.6 485.7 L310.4 485.2 L310.4 484.7 L310.2 484.2 L310.2 483.7 L310.0 483.3 L310.4 482.6 L310.2 482.2 L310.0 481.8 L309.8 481.3 L309.0 481.1 L308.8 480.7 L309.0 480.1 L308.8 479.7 L308.5 479.2 L308.4 478.8 L308.7 478.2 L308.5 477.7 L308.4 477.2 L308.2 476.7 L308.5 476.0 L308.3 475.5 L307.8 475.1 L307.6 474.5 L307.6 474.0 L307.5 473.6 L306.9 473.3 L306.7 472.8 L307.1 472.3 L307.0 471.8 L306.4 471.4 L306.3 470.9 L306.7 470.3 L306.6 469.8 L306.4 469.4 L306.3 468.9 L306.2 468.3 L306.1 467.8 L306.0 467.3 L305.9 466.8 L305.9 466.3 L305.8 465.7 L305.7 465.2 L305.5 464.7 L305.0 464.3 L304.9 463.8 L305.2 463.2 L305.1 462.7 L305.2 462.1 L305.1 461.7 L304.4 461.3 L304.3 460.8 L304.4 460.3 L304.2 459.8 L304.1 459.2 L304.0 458.7 L303.9 458.2 L303.7 457.7 L303.8 457.2 L303.7 456.7 L303.7 456.2 L303.6 455.7 L303.4 455.2 L303.3 454.8 L302.8 454.4 L302.7 453.9 L302.9 453.3 L302.8 452.8 L302.5 452.4 L302.4 451.9 L302.3 451.4 L302.2 450.9 L302.3 450.3 L302.2 449.8 L302.0 449.3 L301.9 448.7 L301.8 448.2 L301.7 447.6 L301.9 447.1 L301.8 446.7 L301.4 446.3 L301.4 445.8 L301.3 445.3 L301.2 444.9 L301.2 444.4 L301.1 443.9 L301.1 443.4 L301.0 442.9 L300.9 442.4 L300.8 441.9 L300.5 441.4 L300.4 440.9 L300.4 440.4 L300.3 439.9 L300.5 439.3 L300.5 438.8 L300.3 438.3 L300.2 437.8 L299.9 437.3 L299.9 436.8 L299.9 436.2 L299.8 435.7 L299.5 435.3 L299.4 434.8 L299.4 434.2 L299.3 433.7 L299.4 433.2 L299.3 432.7 L299.3 432.2 L299.2 431.8 L299.2 431.3 L299.1 430.8 L298.9 430.2 L298.8 429.7 L298.7 429.2 L298.6 428.6 L298.5 428.1 L298.4 427.6 L298.4 427.0 L298.3 426.5 L298.2 425.9 L298.1 425.4 L297.9 424.9 L297.8 424.4 L297.9 423.8 L297.8 423.3 L297.5 422.8 L297.4 422.3 L297.3 421.8 L297.2 421.3 L297.0 420.9 L296.9 420.4 L296.8 419.9 L296.7 419.5 L296.7 419.0 L296.6 418.6 L296.5 418.1 L296.4 417.7 L296.4 417.3 L296.3 416.9 L296.2 416.2 L296.1 415.5 L295.9 414.9 L295.8 414.3 L295.8 413.7 L295.7 413.1 L295.7 412.6 L295.6 412.0 L295.2 411.6 L295.1 411.1 L295.1 410.6 L294.9 410.2 L294.9 409.7 L294.7 409.3 L294.6 408.9 L294.4 408.5 L294.0 407.6 L293.5 407.0 L292.8 406.5 L292.1 406.2 L291.4 406.1 L290.6 406.1 L289.9 406.2 L289.4 406.6 L289.1 407.2 L288.7 407.7 L288.3 408.1 L287.9 408.5 L287.3 408.6 L287.0 408.9 L286.6 409.3 L286.2 409.6 L286.0 410.1 L285.6 410.3 L285.2 410.4 L284.7 410.6 L284.2 410.6 L283.9 410.6 L283.5 410.6 L283.0 410.6 L282.4 410.7 L281.8 410.6 L281.2 410.4 L280.6 410.3 L280.0 410.3 L279.5 410.2 L279.0 409.8 L278.5 409.7 L278.1 409.7 L277.8 409.6 Z" fill="#000" stroke="#000" stroke-width="0.3" stroke-linejoin="round"/>
<circle cx="277.60" cy="410.80" r="1.05" fill="#000"/>
<circle cx="386.30" cy="519.80" r="2.15" fill="#000"/>
<text x="354.0" y="296.2" font-family="Liberation Sans, sans-serif" font-size="12.3" stroke="#000" stroke-width="0.2">sGC<tspan dy="-3.2" font-size="12.3">+/+</tspan></text>
<text x="360.5" y="343.8" font-family="Liberation Sans, sans-serif" font-size="12.3" stroke="#000" stroke-width="0.2">sGC<tspan dy="-3.2" font-size="12.3">-/-</tspan></text>
<text x="351.5" y="481.3" font-family="Liberation Sans, sans-serif" font-size="12.3" stroke="#000" stroke-width="0.2">sGC<tspan dy="-3.2" font-size="12.3">-/-</tspan></text>
<text x="349.0" y="539.9" font-family="Liberation Sans, sans-serif" font-size="12.3" stroke="#000" stroke-width="0.2">sGC<tspan dy="-3.2" font-size="12.3">+/+</tspan></text>
<path d="M403.75 324.25 L409.55 324.55 L410.75 329.3 L412.35 329.3 L413.35 326.25" fill="none" stroke="#000" stroke-width="2.15" stroke-linejoin="round" stroke-linecap="round"/>
<path d="M413.9 327.2 L414.1 327.0 L414.4 326.9 L414.7 326.7 L415.0 326.5 L415.5 326.3 L416.0 326.0 L416.5 325.6 L417.0 325.1 L417.5 324.5 L418.0 323.8 L418.4 323.1 L418.6 322.7 L418.8 322.3 L419.0 322.0 L419.1 321.6 L419.3 321.2 L419.5 320.8 L419.6 320.4 L419.8 320.0 L420.0 319.6 L420.2 319.1 L420.3 318.7 L420.5 318.2 L420.7 317.7 L420.9 317.3 L421.0 316.8 L421.2 316.3 L421.4 315.7 L421.6 315.2 L421.8 314.7 L421.9 314.1 L422.1 313.6 L422.3 313.1 L422.5 312.5 L422.7 311.9 L422.8 311.4 L423.0 310.8 L423.2 310.2 L423.4 309.6 L423.5 309.1 L423.7 308.6 L423.8 308.2 L423.9 307.8 L424.0 307.3 L424.1 306.9 L424.3 306.4 L424.4 306.0 L424.5 305.5 L424.6 305.0 L424.8 304.5 L424.9 304.1 L425.0 303.6 L425.1 303.1 L425.3 302.6 L425.4 302.1 L425.5 301.6 L425.6 301.1 L425.7 300.6 L425.9 300.1 L426.0 299.6 L426.1 299.1 L426.2 298.5 L426.4 298.0 L426.5 297.5 L426.6 297.0 L426.7 296.5 L426.8 296.0 L427.0 295.5 L427.1 295.0 L427.2 294.4 L427.3 293.9 L427.4 293.4 L427.6 292.9 L427.7 292.4 L427.8 291.9 L427.9 291.4 L428.1 290.9 L428.2 290.5 L428.3 290.0 L428.4 289.5 L428.5 289.0 L428.7 288.5 L428.8 288.0 L428.9 287.5 L429.1 286.9 L429.2 286.4 L429.3 285.9 L429.5 285.3 L429.6 284.8 L429.8 284.3 L429.9 283.7 L430.0 283.2 L430.2 282.6 L430.3 282.1 L430.4 281.6 L430.6 281.0 L430.7 280.5 L430.8 279.9 L431.0 279.4 L431.1 278.9 L431.3 278.4 L431.4 277.9 L431.5 277.3 L431.7 276.8 L431.8 276.3 L431.9 275.8 L432.1 275.4 L432.2 274.9 L432.3 274.4 L432.4 274.0 L432.6 273.5 L432.7 273.1 L432.8 272.6 L432.9 272.2 L433.1 271.8 L433.2 271.4 L433.3 271.1 L433.4 270.7 L433.5 270.3 L433.8 269.6 L434.0 268.9 L434.3 268.2 L434.5 267.6 L434.7 267.1 L434.9 266.5 L435.1 266.1 L435.4 265.6 L435.6 265.2 L435.8 264.8 L436.0 264.4 L436.2 264.1 L436.4 263.8 L436.6 263.5 L436.7 263.2 L436.9 262.9 L437.1 262.7 L437.6 262.1 L437.9 261.7 L438.2 261.5 L438.3 261.5 L438.6 261.5 L439.1 261.6 L439.3 261.6 L439.5 261.7 L439.7 261.8 L440.0 262.0 L440.3 262.2 L440.7 262.5 L441.0 262.8 L441.5 263.2 L441.9 263.6 L442.5 264.0 L443.0 264.5 L443.3 264.8 L443.6 265.1 L443.9 265.3 L444.2 265.6 L444.5 265.9 L444.8 266.2 L445.1 266.6 L445.4 266.9 L445.8 267.3 L446.1 267.6 L446.5 268.0 L446.9 268.4 L447.2 268.8 L447.6 269.1 L448.0 269.5 L448.4 269.9 L448.8 270.4 L449.2 270.8 L449.6 271.2 L450.0 271.6 L450.4 272.0 L450.9 272.4 L451.3 272.9 L451.8 273.3 L452.1 273.6 L452.4 273.9 L452.8 274.2 L453.1 274.5 L453.5 274.9 L453.8 275.2 L454.2 275.5 L454.5 275.9 L454.9 276.2 L455.3 276.6 L455.7 276.9 L456.0 277.3 L456.4 277.6 L456.8 278.0 L457.2 278.3 L457.6 278.7 L458.0 279.0 L458.4 279.4 L458.8 279.7 L459.2 280.1 L459.6 280.4 L460.0 280.8 L460.4 281.2 L460.8 281.5 L461.2 281.9 L461.6 282.2 L462.0 282.6 L462.4 282.9 L462.8 283.2 L463.1 283.6 L463.5 283.9 L463.9 284.2 L464.3 284.6 L464.7 284.9 L465.1 285.2 L465.5 285.6 L465.9 285.9 L466.3 286.2 L466.7 286.6 L467.0 286.9 L467.4 287.2 L467.8 287.5 L468.2 287.9 L468.6 288.2 L469.0 288.5 L469.4 288.9 L469.8 289.2 L470.2 289.5 L470.6 289.8 L471.0 290.1 L471.4 290.5 L471.8 290.8 L472.1 291.1 L472.5 291.4 L472.9 291.7 L473.3 292.0 L473.7 292.3 L474.1 292.6 L474.5 292.9 L474.9 293.2 L475.3 293.5 L475.7 293.8 L476.1 294.1 L476.5 294.4 L476.9 294.6 L477.3 294.9 L477.8 295.2 L478.2 295.5 L478.6 295.8 L479.1 296.1 L479.5 296.4 L480.0 296.7 L480.4 297.0 L480.9 297.3 L481.3 297.6 L481.8 297.8 L482.2 298.1 L482.7 298.4 L483.1 298.7 L483.6 298.9 L484.0 299.2 L484.5 299.4 L484.9 299.7 L485.3 299.9 L485.8 300.2 L486.2 300.4 L486.6 300.7 L487.1 300.9 L487.5 301.1 L487.9 301.3 L488.3 301.6 L488.7 301.8 L489.1 302.0 L489.5 302.2 L490.0 302.5 L490.6 302.8 L491.1 303.0 L491.6 303.3 L492.1 303.5 L492.7 303.7 L493.2 304.0 L493.7 304.2 L494.1 304.4 L494.6 304.6 L495.1 304.8 L495.6 305.0 L496.1 305.2 L496.5 305.3 L497.0 305.5 L497.4 305.7 L497.9 305.9 L498.3 306.0 L498.8 306.2 L499.2 306.3 L499.6 306.5 L500.2 306.7 L500.8 306.9 L501.4 307.1 L502.0 307.3 L502.6 307.5 L503.2 307.7 L503.8 307.9 L504.3 308.0 L504.9 308.2 L505.4 308.4 L505.9 308.5 L506.3 308.6 L506.7 308.7 L507.1 308.9 L507.4 308.9 L507.7 309.0 L508.3 307.0 L508.0 306.9 L507.7 306.8 L507.3 306.7 L506.9 306.6 L506.5 306.4 L506.0 306.3 L505.5 306.1 L504.9 306.0 L504.4 305.8 L503.8 305.6 L503.2 305.5 L502.7 305.3 L502.1 305.1 L501.5 304.9 L500.9 304.7 L500.4 304.5 L499.9 304.3 L499.5 304.2 L499.1 304.0 L498.6 303.8 L498.2 303.7 L497.7 303.5 L497.3 303.3 L496.8 303.2 L496.4 303.0 L495.9 302.8 L495.5 302.6 L495.0 302.4 L494.5 302.2 L494.0 302.0 L493.5 301.8 L493.0 301.5 L492.5 301.3 L492.0 301.1 L491.5 300.8 L491.0 300.6 L490.5 300.3 L490.1 300.1 L489.7 299.9 L489.3 299.7 L488.9 299.5 L488.5 299.2 L488.1 299.0 L487.7 298.8 L487.3 298.5 L486.8 298.3 L486.4 298.1 L486.0 297.8 L485.5 297.6 L485.1 297.3 L484.7 297.1 L484.2 296.8 L483.8 296.5 L483.4 296.3 L482.9 296.0 L482.5 295.7 L482.0 295.5 L481.6 295.2 L481.2 294.9 L480.7 294.6 L480.3 294.3 L479.8 294.0 L479.4 293.8 L479.0 293.5 L478.5 293.2 L478.1 292.9 L477.7 292.6 L477.3 292.3 L477.0 292.0 L476.6 291.8 L476.2 291.5 L475.8 291.2 L475.4 290.9 L475.0 290.6 L474.6 290.3 L474.3 290.0 L473.9 289.7 L473.5 289.4 L473.1 289.1 L472.7 288.8 L472.3 288.5 L471.9 288.1 L471.5 287.8 L471.2 287.5 L470.8 287.2 L470.4 286.9 L470.0 286.6 L469.6 286.2 L469.2 285.9 L468.8 285.6 L468.4 285.2 L468.0 284.9 L467.6 284.6 L467.3 284.3 L466.9 283.9 L466.5 283.6 L466.1 283.3 L465.7 282.9 L465.3 282.6 L464.9 282.3 L464.6 282.0 L464.2 281.6 L463.8 281.3 L463.4 280.9 L463.0 280.6 L462.6 280.2 L462.2 279.9 L461.8 279.5 L461.4 279.2 L461.0 278.8 L460.6 278.5 L460.2 278.1 L459.8 277.8 L459.4 277.4 L459.0 277.1 L458.7 276.7 L458.3 276.4 L457.9 276.0 L457.5 275.7 L457.1 275.3 L456.7 275.0 L456.4 274.6 L456.0 274.3 L455.6 274.0 L455.3 273.6 L454.9 273.3 L454.6 273.0 L454.2 272.6 L453.9 272.3 L453.6 272.0 L453.2 271.7 L452.8 271.3 L452.4 270.9 L451.9 270.5 L451.5 270.1 L451.1 269.7 L450.7 269.3 L450.3 268.8 L449.9 268.4 L449.5 268.0 L449.1 267.6 L448.8 267.3 L448.4 266.9 L448.0 266.5 L447.7 266.1 L447.3 265.8 L447.0 265.4 L446.6 265.1 L446.3 264.7 L446.0 264.4 L445.7 264.1 L445.4 263.8 L445.1 263.5 L444.8 263.2 L444.5 263.0 L443.9 262.4 L443.4 262.0 L442.9 261.5 L442.4 261.1 L442.0 260.8 L441.6 260.5 L441.2 260.2 L440.8 260.0 L440.4 259.7 L439.9 259.6 L439.4 259.4 L438.7 259.3 L438.0 259.3 L437.2 259.6 L436.6 260.0 L436.0 260.6 L435.4 261.3 L435.2 261.7 L435.0 262.0 L434.7 262.3 L434.5 262.6 L434.3 263.0 L434.1 263.4 L433.9 263.8 L433.6 264.2 L433.4 264.7 L433.2 265.2 L433.0 265.7 L432.7 266.3 L432.5 266.8 L432.2 267.5 L432.0 268.2 L431.7 268.9 L431.5 269.7 L431.4 270.0 L431.2 270.4 L431.1 270.8 L431.0 271.2 L430.9 271.6 L430.7 272.0 L430.6 272.5 L430.5 272.9 L430.4 273.4 L430.2 273.8 L430.1 274.3 L430.0 274.8 L429.8 275.3 L429.7 275.8 L429.6 276.3 L429.4 276.8 L429.3 277.3 L429.2 277.8 L429.0 278.4 L428.9 278.9 L428.8 279.4 L428.6 279.9 L428.5 280.5 L428.4 281.0 L428.2 281.6 L428.1 282.1 L427.9 282.6 L427.8 283.2 L427.7 283.7 L427.5 284.3 L427.4 284.8 L427.3 285.3 L427.1 285.9 L427.0 286.4 L426.9 286.9 L426.7 287.5 L426.6 288.0 L426.5 288.5 L426.3 289.0 L426.2 289.4 L426.1 289.9 L426.0 290.4 L425.8 290.9 L425.7 291.4 L425.6 291.9 L425.5 292.4 L425.4 292.9 L425.2 293.4 L425.1 293.9 L425.0 294.5 L424.9 295.0 L424.7 295.5 L424.6 296.0 L424.5 296.5 L424.4 297.0 L424.3 297.5 L424.1 298.0 L424.0 298.6 L423.9 299.1 L423.8 299.6 L423.7 300.1 L423.5 300.6 L423.4 301.1 L423.3 301.6 L423.2 302.1 L423.0 302.6 L422.9 303.1 L422.8 303.5 L422.7 304.0 L422.6 304.5 L422.4 305.0 L422.3 305.4 L422.2 305.9 L422.1 306.3 L422.0 306.8 L421.8 307.2 L421.7 307.6 L421.6 308.0 L421.5 308.4 L421.3 309.0 L421.1 309.6 L421.0 310.2 L420.8 310.7 L420.6 311.3 L420.4 311.8 L420.3 312.4 L420.1 312.9 L419.9 313.5 L419.7 314.0 L419.5 314.5 L419.4 315.0 L419.2 315.5 L419.0 316.0 L418.8 316.5 L418.7 317.0 L418.5 317.5 L418.3 317.9 L418.2 318.4 L418.0 318.8 L417.8 319.2 L417.7 319.6 L417.5 320.0 L417.3 320.4 L417.2 320.7 L417.0 321.1 L416.9 321.4 L416.7 321.7 L416.6 321.9 L416.2 322.6 L415.8 323.2 L415.4 323.6 L415.0 324.0 L414.7 324.2 L414.3 324.5 L414.0 324.6 L413.6 324.8 L413.3 325.0 L413.0 325.2 L412.8 325.3 Z" fill="#000" stroke="#000" stroke-width="0.3" stroke-linejoin="round"/>
<circle cx="413.35" cy="326.25" r="1.07" fill="#000"/>
<circle cx="508.00" cy="308.00" r="1.07" fill="#000"/>
<path d="M403.75 333.75 L409.8 334.05 L411.0 338.2 L412.6 338.2 L413.6 335" fill="none" stroke="#000" stroke-width="2.15" stroke-linejoin="round" stroke-linecap="round"/>
<path d="M414.1 336.0 L414.3 335.8 L414.6 335.7 L415.0 335.5 L415.4 335.4 L415.9 335.2 L416.4 335.0 L416.9 334.7 L417.5 334.4 L418.1 334.1 L418.7 333.8 L419.2 333.4 L419.8 333.0 L420.3 332.5 L420.8 332.0 L421.1 331.6 L421.4 331.2 L421.6 330.8 L421.9 330.4 L422.2 330.0 L422.4 329.6 L422.6 329.2 L422.9 328.7 L423.1 328.3 L423.3 327.8 L423.6 327.3 L423.8 326.8 L424.0 326.4 L424.2 325.9 L424.4 325.3 L424.7 324.8 L424.9 324.3 L425.1 323.8 L425.3 323.3 L425.5 322.7 L425.8 322.2 L426.0 321.7 L426.2 321.2 L426.3 320.8 L426.5 320.4 L426.7 319.9 L426.9 319.5 L427.0 319.0 L427.2 318.5 L427.4 318.1 L427.6 317.6 L427.7 317.1 L427.9 316.6 L428.1 316.1 L428.3 315.6 L428.4 315.1 L428.6 314.6 L428.8 314.1 L428.9 313.6 L429.1 313.1 L429.3 312.6 L429.5 312.2 L429.6 311.7 L429.8 311.2 L430.0 310.7 L430.2 310.2 L430.3 309.7 L430.5 309.3 L430.7 308.8 L430.8 308.3 L431.0 307.9 L431.2 307.4 L431.4 306.9 L431.6 306.3 L431.8 305.8 L432.0 305.3 L432.2 304.7 L432.4 304.2 L432.6 303.7 L432.8 303.1 L433.0 302.6 L433.2 302.1 L433.4 301.6 L433.6 301.1 L433.8 300.6 L434.0 300.1 L434.2 299.6 L434.4 299.1 L434.5 298.6 L434.7 298.2 L434.9 297.7 L435.1 297.3 L435.3 296.9 L435.5 296.5 L435.6 296.2 L435.8 295.8 L435.9 295.5 L436.3 294.8 L436.7 294.2 L437.0 293.7 L437.3 293.3 L437.6 292.9 L437.9 292.6 L438.2 292.3 L438.5 292.1 L438.8 291.8 L439.1 291.6 L439.4 291.4 L439.9 291.0 L440.3 290.7 L440.6 290.5 L440.9 290.4 L441.3 290.3 L441.8 290.3 L442.5 290.3 L442.8 290.4 L443.2 290.4 L443.5 290.5 L444.0 290.5 L444.4 290.6 L444.9 290.7 L445.3 290.8 L445.8 291.0 L446.3 291.1 L446.9 291.3 L447.4 291.4 L447.9 291.6 L448.5 291.8 L449.0 292.0 L449.6 292.2 L450.0 292.4 L450.4 292.6 L450.8 292.7 L451.2 292.9 L451.6 293.1 L452.0 293.3 L452.4 293.5 L452.9 293.8 L453.3 294.0 L453.7 294.2 L454.2 294.4 L454.6 294.7 L455.1 294.9 L455.6 295.2 L456.0 295.4 L456.5 295.7 L457.0 295.9 L457.5 296.2 L458.0 296.4 L458.5 296.7 L459.0 297.0 L459.5 297.2 L459.9 297.4 L460.4 297.6 L460.8 297.9 L461.2 298.1 L461.7 298.3 L462.1 298.5 L462.6 298.8 L463.0 299.0 L463.5 299.2 L464.0 299.5 L464.4 299.7 L464.9 300.0 L465.4 300.2 L465.8 300.5 L466.3 300.7 L466.8 300.9 L467.3 301.2 L467.8 301.4 L468.2 301.7 L468.7 301.9 L469.2 302.1 L469.7 302.4 L470.2 302.6 L470.6 302.8 L471.1 303.0 L471.6 303.3 L472.1 303.5 L472.5 303.7 L473.0 303.9 L473.5 304.1 L474.0 304.3 L474.5 304.5 L475.0 304.8 L475.4 305.0 L475.9 305.2 L476.4 305.4 L476.9 305.6 L477.4 305.8 L477.9 306.0 L478.4 306.2 L478.8 306.3 L479.3 306.5 L479.8 306.7 L480.3 306.9 L480.8 307.1 L481.3 307.3 L481.7 307.5 L482.2 307.6 L482.7 307.8 L483.2 308.0 L483.7 308.2 L484.2 308.3 L484.6 308.5 L485.1 308.7 L485.6 308.8 L486.1 309.0 L486.6 309.2 L487.1 309.3 L487.6 309.5 L488.0 309.7 L488.5 309.8 L489.0 310.0 L489.5 310.1 L490.0 310.3 L490.5 310.4 L490.9 310.6 L491.4 310.7 L491.9 310.8 L492.4 311.0 L492.9 311.1 L493.4 311.3 L493.8 311.4 L494.3 311.5 L494.8 311.7 L495.3 311.8 L495.8 311.9 L496.3 312.0 L496.8 312.2 L497.2 312.3 L497.8 312.4 L498.3 312.5 L498.8 312.7 L499.4 312.8 L500.0 312.9 L500.6 313.0 L501.1 313.2 L501.7 313.3 L502.3 313.4 L502.9 313.5 L503.5 313.6 L504.0 313.7 L504.6 313.8 L505.2 313.9 L505.7 314.0 L506.2 314.1 L506.7 314.2 L507.2 314.3 L507.7 314.4 L508.1 314.5 L508.5 314.6 L508.9 314.6 L509.2 314.7 L509.5 314.8 L509.8 314.8 L510.2 312.7 L509.9 312.6 L509.6 312.6 L509.3 312.5 L508.9 312.4 L508.5 312.4 L508.1 312.3 L507.6 312.2 L507.1 312.1 L506.6 312.0 L506.1 311.9 L505.6 311.8 L505.0 311.7 L504.4 311.6 L503.9 311.5 L503.3 311.4 L502.7 311.3 L502.1 311.2 L501.6 311.1 L501.0 310.9 L500.4 310.8 L499.9 310.7 L499.3 310.6 L498.8 310.5 L498.3 310.3 L497.8 310.2 L497.3 310.1 L496.8 310.0 L496.3 309.8 L495.9 309.7 L495.4 309.6 L494.9 309.5 L494.4 309.3 L493.9 309.2 L493.5 309.1 L493.0 308.9 L492.5 308.8 L492.0 308.6 L491.6 308.5 L491.1 308.4 L490.6 308.2 L490.1 308.1 L489.7 307.9 L489.2 307.8 L488.7 307.6 L488.2 307.5 L487.7 307.3 L487.3 307.1 L486.8 307.0 L486.3 306.8 L485.8 306.7 L485.4 306.5 L484.9 306.3 L484.4 306.1 L483.9 306.0 L483.4 305.8 L483.0 305.6 L482.5 305.4 L482.0 305.3 L481.5 305.1 L481.1 304.9 L480.6 304.7 L480.1 304.5 L479.6 304.3 L479.1 304.2 L478.7 304.0 L478.2 303.8 L477.7 303.6 L477.2 303.4 L476.8 303.2 L476.3 303.0 L475.8 302.8 L475.3 302.6 L474.9 302.4 L474.4 302.2 L473.9 301.9 L473.4 301.7 L472.9 301.5 L472.5 301.3 L472.0 301.1 L471.6 300.9 L471.1 300.7 L470.6 300.4 L470.1 300.2 L469.7 300.0 L469.2 299.7 L468.7 299.5 L468.2 299.3 L467.8 299.0 L467.3 298.8 L466.8 298.5 L466.3 298.3 L465.9 298.1 L465.4 297.8 L464.9 297.6 L464.5 297.3 L464.0 297.1 L463.6 296.9 L463.1 296.6 L462.7 296.4 L462.2 296.2 L461.8 295.9 L461.3 295.7 L460.9 295.5 L460.5 295.3 L460.0 295.0 L459.5 294.8 L459.0 294.5 L458.5 294.3 L458.0 294.0 L457.5 293.8 L457.0 293.5 L456.6 293.3 L456.1 293.0 L455.6 292.8 L455.2 292.5 L454.7 292.3 L454.3 292.1 L453.8 291.8 L453.4 291.6 L452.9 291.4 L452.5 291.2 L452.1 291.0 L451.7 290.8 L451.2 290.6 L450.8 290.4 L450.4 290.3 L449.8 290.0 L449.2 289.8 L448.6 289.6 L448.1 289.4 L447.5 289.2 L446.9 289.0 L446.4 288.9 L445.9 288.8 L445.4 288.6 L444.9 288.5 L444.4 288.4 L443.9 288.3 L443.4 288.3 L443.0 288.2 L442.5 288.2 L441.7 288.2 L441.0 288.2 L440.3 288.4 L439.7 288.6 L439.2 288.9 L438.6 289.2 L438.1 289.6 L437.8 289.9 L437.4 290.2 L437.1 290.5 L436.7 290.8 L436.3 291.1 L436.0 291.5 L435.6 292.0 L435.2 292.5 L434.8 293.1 L434.5 293.7 L434.1 294.5 L433.9 294.9 L433.7 295.2 L433.5 295.6 L433.3 296.0 L433.1 296.5 L432.9 296.9 L432.8 297.3 L432.6 297.8 L432.4 298.3 L432.2 298.8 L432.0 299.3 L431.8 299.8 L431.6 300.3 L431.4 300.8 L431.2 301.3 L431.0 301.9 L430.8 302.4 L430.6 302.9 L430.4 303.5 L430.2 304.0 L430.0 304.5 L429.8 305.1 L429.6 305.6 L429.4 306.1 L429.2 306.6 L429.0 307.1 L428.8 307.6 L428.6 308.0 L428.5 308.5 L428.3 309.0 L428.1 309.5 L428.0 310.0 L427.8 310.5 L427.6 311.0 L427.4 311.4 L427.3 311.9 L427.1 312.4 L426.9 312.9 L426.7 313.4 L426.6 313.9 L426.4 314.4 L426.2 314.9 L426.1 315.4 L425.9 315.9 L425.7 316.4 L425.5 316.9 L425.4 317.3 L425.2 317.8 L425.0 318.3 L424.9 318.7 L424.7 319.1 L424.5 319.6 L424.3 320.0 L424.2 320.4 L424.0 320.8 L423.8 321.4 L423.6 321.9 L423.3 322.4 L423.1 323.0 L422.9 323.5 L422.7 324.0 L422.5 324.5 L422.3 325.0 L422.0 325.5 L421.8 326.0 L421.6 326.4 L421.4 326.9 L421.2 327.3 L421.0 327.7 L420.7 328.1 L420.5 328.5 L420.3 328.9 L420.1 329.3 L419.9 329.6 L419.6 330.0 L419.4 330.3 L419.2 330.5 L418.8 330.9 L418.4 331.3 L418.0 331.7 L417.5 332.0 L417.0 332.3 L416.5 332.5 L416.0 332.8 L415.5 333.0 L415.1 333.2 L414.6 333.4 L414.2 333.6 L413.8 333.7 L413.4 333.9 L413.1 334.0 Z" fill="#000" stroke="#000" stroke-width="0.3" stroke-linejoin="round"/>
<circle cx="413.60" cy="335.00" r="1.07" fill="#000"/>
<circle cx="510.00" cy="313.75" r="1.07" fill="#000"/>
<path d="M413.4 344.3 L417.5 354.4 L409.29999999999995 354.4 Z" fill="#000"/>
<line x1="413.4" y1="354.4" x2="413.4" y2="366.2" stroke="#000" stroke-width="1.15"/>
<text x="395.8" y="379.3" font-family="Liberation Sans, sans-serif" font-size="12.35" font-weight="bold">Collagen 5 ug/ml</text>
<path d="M413.4 400.8 L417.5 391 L409.29999999999995 391 Z" fill="#000"/>
<line x1="413.4" y1="383.1" x2="413.4" y2="391" stroke="#000" stroke-width="1.15"/>
<path d="M412.1 413.8 L412.4 413.8 L412.7 414.0 L413.2 414.0 L413.7 414.1 L414.3 414.2 L414.9 414.1 L415.5 414.1 L416.1 414.2 L416.7 414.2 L417.3 414.1 L417.9 414.0 L418.5 413.8 L419.1 413.5 L419.7 413.1 L420.2 412.8 L420.6 412.4 L421.0 412.1 L421.3 411.9 L421.6 411.7 L422.2 411.4 L422.5 411.2 L422.6 411.5 L422.4 411.4 L422.3 411.6 L422.4 411.9 L422.6 412.2 L422.7 412.7 L422.8 413.2 L422.9 413.9 L423.1 414.6 L423.3 415.5 L423.2 415.9 L423.2 416.2 L423.4 416.6 L423.5 417.1 L423.6 417.5 L423.7 418.0 L423.7 418.4 L423.8 418.9 L423.9 419.4 L424.0 419.9 L424.0 420.5 L424.1 421.0 L424.1 421.6 L424.2 422.1 L424.3 422.7 L424.4 423.2 L424.4 423.8 L424.5 424.4 L424.7 424.9 L424.8 425.5 L424.8 426.1 L424.9 426.7 L424.9 427.3 L425.0 427.7 L425.2 428.2 L425.3 428.6 L425.3 429.1 L425.4 429.6 L425.5 430.1 L425.5 430.6 L425.6 431.0 L425.7 431.5 L425.8 432.0 L425.9 432.5 L425.8 433.1 L425.9 433.6 L426.1 434.0 L426.2 434.6 L426.4 435.0 L426.5 435.5 L426.7 436.0 L426.8 436.6 L426.8 437.1 L426.9 437.6 L426.8 438.1 L426.8 438.6 L426.7 439.2 L426.8 439.7 L427.1 440.2 L427.2 440.7 L427.2 441.2 L427.3 441.7 L427.5 442.2 L427.6 442.7 L427.5 443.2 L427.6 443.7 L427.8 444.2 L427.9 444.7 L428.1 445.2 L428.2 445.7 L428.2 446.2 L428.3 446.7 L428.4 447.2 L428.5 447.7 L428.8 448.2 L428.8 448.7 L428.8 449.2 L428.9 449.7 L429.0 450.2 L429.1 450.7 L429.1 451.3 L429.2 451.8 L429.3 452.3 L429.4 452.8 L429.6 453.3 L429.7 453.8 L429.6 454.3 L429.7 454.8 L429.9 455.2 L430.0 455.7 L430.1 456.2 L430.2 456.7 L430.4 457.2 L430.5 457.7 L430.6 458.3 L430.7 458.8 L431.0 459.3 L431.1 459.8 L431.0 460.3 L431.1 460.9 L431.1 461.4 L431.2 461.9 L431.4 462.4 L431.5 462.9 L431.5 463.4 L431.6 463.9 L431.8 464.4 L431.9 464.9 L432.4 465.3 L432.5 465.8 L432.5 466.3 L432.6 466.8 L432.5 467.4 L432.6 467.9 L433.0 468.3 L433.1 468.7 L433.1 469.2 L433.2 469.7 L433.2 470.3 L433.4 470.8 L433.6 471.3 L433.8 471.8 L433.9 472.3 L434.0 472.9 L434.4 473.3 L434.5 473.8 L434.7 474.3 L434.9 474.8 L435.0 475.3 L435.2 475.7 L435.6 476.1 L435.8 476.6 L435.9 477.1 L436.1 477.5 L436.2 478.0 L436.4 478.5 L436.9 478.7 L437.1 479.2 L437.3 479.6 L437.5 480.1 L437.5 480.6 L437.8 481.1 L437.6 481.8 L437.8 482.3 L438.6 482.5 L438.8 483.0 L439.0 483.5 L439.3 484.0 L438.6 485.0 L438.8 485.4 L439.8 485.5 L440.0 486.0 L439.9 486.7 L440.1 487.1 L440.6 487.4 L440.9 487.9 L441.2 488.2 L441.5 488.7 L441.4 489.3 L441.7 489.7 L442.0 490.2 L442.3 490.6 L442.6 491.1 L442.9 491.5 L443.5 491.7 L443.8 492.2 L444.0 492.7 L444.3 493.1 L444.0 494.1 L444.3 494.5 L445.1 494.6 L445.5 495.0 L446.3 495.0 L446.7 495.4 L446.5 496.4 L447.0 496.8 L447.6 497.1 L447.9 497.4 L448.9 497.0 L449.3 497.3 L449.4 498.1 L449.8 498.4 L450.2 498.7 L450.6 499.0 L451.1 499.2 L451.6 499.4 L452.0 499.7 L452.5 500.0 L452.9 500.4 L453.3 500.7 L454.0 500.6 L454.5 500.8 L454.8 501.5 L455.3 501.7 L455.8 501.9 L456.3 502.1 L456.8 502.4 L457.3 502.6 L457.6 503.4 L458.0 503.6 L458.5 503.7 L459.0 503.9 L459.8 503.2 L460.3 503.4 L460.4 504.6 L460.9 504.8 L461.4 504.8 L461.9 505.0 L462.6 504.6 L463.0 504.7 L463.1 506.3 L463.6 506.4 L464.4 505.6 L464.9 505.8 L465.2 506.4 L465.7 506.5 L466.3 506.6 L466.8 506.8 L467.4 506.7 L467.9 506.8 L468.5 506.6 L469.0 506.7 L469.6 506.7 L470.1 506.8 L470.6 506.7 L471.1 506.8 L471.6 506.8 L472.1 506.9 L472.4 507.8 L472.9 508.0 L473.5 507.5 L474.0 507.7 L474.5 508.1 L475.0 508.2 L475.3 509.1 L475.9 509.2 L476.5 508.8 L477.0 508.9 L477.4 509.4 L477.9 509.5 L478.6 509.0 L479.1 509.1 L479.6 509.1 L480.1 509.2 L480.7 509.1 L481.2 509.2 L481.6 509.7 L482.1 509.8 L482.8 509.3 L483.3 509.4 L483.6 510.5 L484.0 510.6 L484.5 510.8 L485.0 510.9 L485.4 511.7 L485.9 511.8 L486.5 511.1 L487.0 511.2 L487.6 510.8 L488.1 510.9 L488.4 511.7 L488.9 511.8 L489.5 511.2 L490.0 511.3 L490.5 511.3 L491.0 511.4 L491.4 511.9 L491.9 512.0 L492.5 511.6 L493.0 511.7 L493.4 512.4 L493.9 512.5 L494.5 512.3 L495.0 512.4 L495.6 512.1 L496.1 512.2 L496.5 513.0 L497.0 513.0 L497.6 512.7 L498.1 512.8 L498.5 513.9 L499.0 514.0 L499.7 513.5 L500.3 513.6 L500.9 513.0 L501.5 513.1 L501.9 514.2 L502.5 514.3 L503.2 513.4 L503.8 513.5 L504.5 513.1 L505.0 513.2 L505.4 514.5 L506.0 514.6 L506.8 512.9 L507.3 513.0 L507.8 513.3 L508.3 513.4 L508.7 513.8 L509.2 513.9 L509.6 514.4 L510.0 514.4 L510.5 513.7 L510.8 513.7 L511.2 513.6 L511.5 513.6 L511.7 514.2 L512.2 509.7 L512.0 509.7 L511.6 509.7 L511.3 510.0 L510.9 509.9 L510.5 510.0 L510.1 510.0 L509.7 509.8 L509.2 509.7 L508.7 509.9 L508.2 509.8 L507.7 509.2 L507.2 509.1 L506.6 509.8 L506.0 509.7 L505.6 508.8 L505.0 508.7 L504.4 509.0 L503.8 508.9 L503.2 509.2 L502.6 509.2 L502.1 508.4 L501.5 508.3 L500.8 509.1 L500.3 509.0 L499.7 508.9 L499.2 508.9 L498.6 509.0 L498.1 508.9 L497.6 508.8 L497.1 508.8 L496.7 507.9 L496.2 507.8 L495.7 507.8 L495.2 507.7 L494.5 508.7 L494.0 508.6 L493.6 508.0 L493.1 507.9 L492.6 508.0 L492.1 508.0 L491.7 507.5 L491.2 507.4 L490.7 507.1 L490.2 507.0 L489.7 507.2 L489.2 507.2 L488.9 506.5 L488.4 506.4 L487.8 507.0 L487.3 506.9 L486.8 506.6 L486.3 506.5 L485.8 506.6 L485.3 506.5 L484.9 506.4 L484.4 506.3 L484.0 505.7 L483.5 505.6 L483.0 505.3 L482.5 505.2 L482.0 505.2 L481.5 505.1 L480.9 505.3 L480.4 505.2 L479.8 505.4 L479.3 505.3 L478.8 505.1 L478.3 505.0 L477.6 505.9 L477.1 505.8 L476.7 505.1 L476.2 505.0 L475.8 504.3 L475.3 504.2 L475.0 503.5 L474.5 503.4 L473.9 503.7 L473.4 503.5 L473.0 503.3 L472.5 503.1 L471.9 503.6 L471.4 503.5 L471.0 503.4 L470.5 503.3 L469.9 503.5 L469.4 503.4 L468.8 503.6 L468.3 503.4 L467.8 503.1 L467.3 503.0 L467.0 502.4 L466.5 502.3 L465.9 502.6 L465.4 502.4 L464.8 502.5 L464.4 502.4 L464.3 501.1 L463.8 500.9 L463.2 501.3 L462.7 501.1 L462.2 501.0 L461.8 500.9 L461.4 500.7 L460.9 500.5 L460.5 500.2 L460.1 500.0 L459.5 500.1 L459.1 499.9 L458.7 499.5 L458.3 499.3 L458.1 498.5 L457.6 498.3 L456.7 498.9 L456.3 498.6 L456.0 498.0 L455.6 497.8 L454.9 497.8 L454.5 497.6 L454.2 497.1 L453.7 496.9 L453.6 496.1 L453.2 495.9 L452.5 496.0 L452.1 495.8 L451.4 496.0 L451.0 495.7 L451.1 494.8 L450.7 494.6 L450.2 494.6 L449.9 494.3 L449.1 494.4 L448.7 494.0 L448.5 493.4 L448.2 493.1 L448.1 492.5 L447.8 492.2 L446.7 492.5 L446.3 492.1 L446.3 491.6 L446.0 491.2 L446.1 490.5 L445.8 490.1 L445.3 489.8 L445.0 489.4 L444.9 488.9 L444.6 488.4 L443.8 488.3 L443.5 488.0 L443.9 487.1 L443.7 486.7 L443.5 486.2 L443.2 485.8 L442.2 485.9 L441.9 485.5 L442.4 484.6 L442.1 484.2 L441.2 484.1 L440.9 483.7 L441.3 482.9 L441.1 482.4 L440.5 482.1 L440.3 481.7 L440.3 481.1 L440.1 480.6 L439.7 480.1 L439.5 479.7 L439.3 479.2 L439.1 478.8 L438.8 478.4 L438.6 478.0 L438.8 477.4 L438.6 477.0 L438.3 476.6 L438.1 476.2 L438.0 475.7 L437.8 475.3 L437.1 475.0 L437.0 474.5 L436.8 474.1 L436.6 473.6 L436.6 473.1 L436.4 472.6 L436.0 472.2 L435.9 471.7 L435.4 471.3 L435.2 470.8 L435.3 470.2 L435.1 469.7 L435.1 469.1 L435.0 468.7 L434.9 468.2 L434.8 467.8 L434.3 467.4 L434.2 466.9 L434.3 466.4 L434.2 465.9 L434.3 465.4 L434.1 464.9 L434.1 464.4 L434.0 463.9 L433.7 463.5 L433.6 463.0 L433.5 462.5 L433.4 462.0 L433.1 461.5 L433.0 461.0 L433.2 460.4 L433.1 459.9 L433.0 459.4 L432.8 458.9 L432.6 458.4 L432.5 457.9 L432.5 457.3 L432.4 456.8 L432.1 456.3 L432.0 455.8 L432.0 455.3 L431.9 454.8 L431.6 454.4 L431.5 453.9 L431.5 453.4 L431.4 452.9 L431.5 452.4 L431.4 451.9 L431.0 451.4 L430.9 450.9 L431.2 450.3 L431.2 449.8 L430.9 449.4 L430.8 448.9 L430.9 448.3 L430.8 447.8 L430.5 447.4 L430.4 446.9 L430.4 446.3 L430.4 445.8 L430.2 445.3 L430.1 444.8 L429.9 444.3 L429.8 443.8 L429.6 443.4 L429.5 442.9 L429.7 442.3 L429.6 441.8 L429.2 441.4 L429.1 440.9 L429.2 440.3 L429.1 439.8 L428.9 439.3 L428.8 438.8 L429.0 438.3 L428.9 437.8 L428.7 437.3 L428.7 436.8 L428.7 436.2 L428.6 435.7 L428.3 435.2 L428.3 434.7 L428.2 434.2 L428.1 433.7 L427.9 433.2 L427.8 432.7 L428.0 432.2 L427.9 431.7 L427.8 431.2 L427.7 430.7 L427.5 430.2 L427.5 429.7 L427.6 429.2 L427.5 428.8 L427.2 428.3 L427.1 427.9 L427.1 427.4 L427.1 426.9 L426.9 426.4 L426.8 425.8 L426.9 425.2 L426.8 424.6 L426.5 424.1 L426.5 423.5 L426.4 422.9 L426.3 422.4 L426.1 421.8 L426.1 421.3 L426.0 420.7 L425.9 420.2 L425.9 419.7 L425.8 419.1 L425.7 418.6 L425.7 418.1 L425.7 417.6 L425.6 417.2 L425.4 416.7 L425.3 416.3 L425.3 415.9 L425.2 415.5 L425.1 415.1 L424.9 414.3 L424.9 413.5 L424.7 412.8 L424.7 412.2 L424.6 411.7 L424.3 411.2 L424.2 410.8 L423.9 410.3 L423.4 409.7 L422.5 409.1 L421.7 409.4 L420.7 409.9 L420.3 410.1 L419.9 410.4 L419.4 410.8 L419.0 411.1 L418.6 411.4 L418.3 411.8 L417.8 412.0 L417.4 412.2 L417.0 412.2 L416.6 412.2 L416.1 412.2 L415.5 412.1 L414.9 412.1 L414.4 412.1 L413.8 412.0 L413.3 412.1 L412.8 412.1 L412.5 411.9 L412.1 411.9 Z" fill="#000" stroke="#000" stroke-width="0.3" stroke-linejoin="round"/>
<circle cx="412.10" cy="413.00" r="1.00" fill="#000"/>
<circle cx="511.90" cy="512.30" r="2.10" fill="#000"/>
<path d="M408.5 422.7 L408.8 422.7 L409.2 422.6 L409.6 422.6 L410.1 422.8 L410.7 422.8 L411.3 422.7 L411.9 422.7 L412.5 422.9 L413.1 422.9 L413.7 422.7 L414.2 422.7 L414.9 422.6 L415.6 422.4 L416.2 422.1 L416.7 421.9 L417.2 421.5 L417.6 421.3 L417.9 421.2 L418.4 421.0 L418.8 420.9 L418.8 421.2 L418.6 421.2 L418.6 421.3 L418.8 421.5 L418.9 421.9 L419.1 422.3 L419.2 422.8 L419.1 423.4 L419.2 424.1 L419.4 424.7 L419.5 425.5 L419.7 425.9 L419.7 426.3 L419.9 426.7 L420.0 427.1 L420.0 427.5 L420.1 428.0 L420.3 428.4 L420.4 428.9 L420.3 429.4 L420.3 429.9 L420.4 430.4 L420.5 431.0 L420.6 431.5 L420.7 432.0 L420.9 432.6 L421.0 433.2 L421.0 433.8 L421.1 434.4 L421.2 435.0 L421.3 435.6 L421.4 436.2 L421.5 436.7 L421.6 437.1 L421.6 437.6 L421.7 438.1 L421.8 438.5 L421.8 439.1 L421.8 439.6 L422.2 440.1 L422.3 440.6 L422.1 441.2 L422.1 441.7 L422.1 442.3 L422.1 442.8 L422.5 443.3 L422.6 443.9 L422.6 444.5 L422.7 445.0 L422.7 445.6 L422.8 446.1 L423.0 446.7 L423.1 447.2 L422.9 447.8 L423.0 448.3 L423.1 448.8 L423.1 449.3 L423.4 449.8 L423.5 450.3 L423.5 450.8 L423.6 451.2 L423.5 451.7 L423.5 452.1 L423.8 452.5 L424.0 453.2 L424.0 453.8 L424.1 454.4 L424.3 455.0 L424.4 455.5 L424.5 456.0 L424.7 456.5 L425.1 456.8 L425.3 457.3 L425.1 457.8 L425.2 458.2 L425.5 458.6 L425.7 459.0 L425.6 459.4 L425.8 459.9 L426.0 460.3 L426.1 460.7 L426.4 461.2 L426.5 461.7 L426.5 462.1 L426.6 462.6 L426.7 463.0 L426.8 463.5 L426.9 464.0 L427.0 464.4 L426.8 465.0 L426.8 465.4 L427.3 465.9 L427.4 466.3 L427.3 466.9 L427.4 467.4 L427.4 467.9 L427.5 468.4 L428.0 468.9 L428.1 469.4 L427.8 470.0 L427.9 470.6 L428.1 471.1 L428.2 471.7 L428.6 472.1 L428.7 472.5 L428.7 473.0 L428.8 473.5 L428.8 474.0 L428.9 474.5 L429.0 475.0 L429.1 475.5 L429.0 476.0 L429.1 476.5 L429.1 477.0 L429.2 477.6 L429.0 478.1 L429.1 478.7 L429.3 479.2 L429.4 479.7 L429.3 480.2 L429.4 480.8 L429.6 481.3 L429.7 481.8 L430.0 482.3 L430.1 482.8 L430.5 483.2 L430.6 483.7 L430.8 484.2 L430.9 484.7 L430.7 485.3 L430.9 485.8 L431.2 486.3 L431.3 486.8 L431.3 487.4 L431.4 487.9 L431.5 488.4 L431.7 489.0 L431.8 489.5 L432.0 490.0 L432.0 490.6 L432.1 491.1 L432.5 491.6 L432.6 492.1 L432.8 492.6 L432.9 493.1 L432.5 493.8 L432.7 494.3 L433.5 494.6 L433.7 495.0 L433.5 495.6 L433.6 496.1 L433.5 496.7 L433.6 497.1 L434.4 497.4 L434.5 497.8 L434.4 498.5 L434.6 499.1 L435.0 499.5 L435.2 500.1 L435.0 500.7 L435.2 501.3 L434.8 502.0 L435.0 502.5 L435.5 502.9 L435.7 503.4 L436.8 503.5 L437.0 503.9 L436.7 504.6 L437.0 505.1 L436.8 505.8 L437.0 506.3 L437.1 506.8 L437.3 507.3 L438.4 507.3 L438.7 507.8 L438.3 508.7 L438.6 509.1 L439.5 509.2 L439.8 509.6 L439.7 510.4 L440.0 510.8 L440.3 511.3 L440.6 511.8 L441.2 512.0 L441.6 512.4 L441.7 513.0 L442.1 513.4 L442.8 513.5 L443.2 513.9 L443.3 514.5 L443.7 514.9 L444.0 515.3 L444.5 515.7 L445.0 515.9 L445.5 516.2 L445.8 516.6 L446.3 516.9 L446.8 517.0 L447.3 517.4 L447.1 518.6 L447.5 518.9 L448.8 518.0 L449.2 518.3 L449.4 519.1 L449.8 519.4 L450.1 520.0 L450.6 520.3 L451.5 519.8 L452.0 520.0 L452.2 520.8 L452.6 521.0 L453.4 520.7 L453.8 520.9 L453.9 522.0 L454.3 522.2 L455.3 521.2 L455.8 521.4 L455.9 522.5 L456.3 522.7 L456.9 522.8 L457.4 523.0 L457.8 523.3 L458.4 523.5 L459.0 523.2 L459.6 523.4 L459.9 524.3 L460.4 524.5 L461.3 523.6 L461.9 523.8 L462.2 524.5 L462.6 524.7 L463.2 524.4 L463.7 524.5 L464.0 525.1 L464.5 525.2 L465.2 524.7 L465.7 524.9 L465.9 526.1 L466.4 526.2 L467.0 526.1 L467.5 526.3 L468.0 526.3 L468.6 526.4 L469.1 526.6 L469.6 526.7 L470.1 526.9 L470.7 527.0 L471.3 526.4 L471.9 526.5 L472.4 526.5 L473.0 526.6 L473.2 528.0 L473.7 528.1 L474.4 527.5 L474.9 527.6 L475.3 528.0 L475.8 528.1 L476.3 528.5 L476.8 528.6 L477.3 528.7 L477.8 528.8 L478.4 528.4 L478.9 528.5 L479.3 528.9 L479.8 529.0 L480.4 528.8 L480.9 528.9 L481.3 529.4 L481.8 529.5 L482.4 529.3 L482.9 529.4 L483.5 528.5 L484.0 528.6 L484.3 530.1 L484.8 530.2 L485.3 530.3 L485.8 530.4 L486.3 530.1 L486.8 530.2 L487.5 529.5 L488.0 529.6 L488.5 529.6 L489.0 529.7 L489.4 530.2 L489.9 530.2 L490.4 530.4 L490.9 530.5 L491.6 530.0 L492.1 530.0 L492.4 531.1 L493.0 531.2 L493.5 531.1 L494.0 531.2 L494.6 531.0 L495.1 531.1 L495.6 531.4 L496.1 531.5 L496.7 530.9 L497.2 531.0 L497.7 531.6 L498.2 531.7 L498.8 531.0 L499.3 531.0 L499.7 531.3 L500.2 531.3 L500.7 531.4 L501.2 531.5 L501.6 531.9 L502.0 532.0 L502.5 532.1 L503.1 532.1 L503.6 532.5 L504.2 532.6 L504.8 533.0 L505.4 533.1 L506.1 532.0 L506.7 532.1 L507.2 532.5 L507.8 532.6 L508.3 532.9 L508.9 533.0 L509.4 532.8 L509.9 532.8 L510.4 533.0 L510.8 533.0 L511.2 533.0 L511.6 533.0 L511.9 533.6 L512.2 533.6 L512.6 532.5 L512.9 529.1 L512.6 529.6 L512.3 529.5 L512.0 528.8 L511.6 528.8 L511.2 528.6 L510.8 528.6 L510.4 528.2 L509.9 528.1 L509.3 529.1 L508.7 529.0 L508.3 528.4 L507.7 528.3 L507.2 527.9 L506.6 527.8 L505.9 528.9 L505.3 528.8 L504.8 528.1 L504.2 528.1 L503.6 527.6 L503.0 527.5 L502.6 527.8 L502.1 527.7 L501.6 528.2 L501.1 528.1 L500.7 528.0 L500.2 527.9 L499.8 527.0 L499.3 526.9 L498.7 527.7 L498.2 527.6 L497.7 527.3 L497.2 527.2 L496.6 528.1 L496.1 528.0 L495.7 526.7 L495.2 526.6 L494.7 526.5 L494.2 526.4 L493.7 526.0 L493.2 526.0 L492.7 526.2 L492.1 526.1 L491.6 526.5 L491.1 526.4 L490.6 526.2 L490.1 526.1 L489.7 525.4 L489.2 525.3 L488.6 525.9 L488.1 525.8 L487.6 525.7 L487.1 525.6 L486.5 526.4 L486.0 526.3 L485.5 526.0 L485.0 525.9 L484.8 524.5 L484.3 524.5 L483.5 525.6 L483.1 525.5 L482.5 525.9 L482.0 525.8 L481.7 524.4 L481.2 524.3 L480.7 524.7 L480.2 524.6 L479.6 524.9 L479.1 524.8 L478.6 524.7 L478.1 524.6 L477.8 523.6 L477.3 523.5 L476.7 523.8 L476.2 523.7 L475.8 523.5 L475.3 523.4 L474.6 524.0 L474.1 523.9 L473.9 522.1 L473.4 522.0 L472.8 522.3 L472.3 522.2 L471.5 523.2 L471.0 523.1 L470.7 521.9 L470.2 521.8 L469.5 522.4 L469.0 522.3 L468.6 521.7 L468.1 521.6 L467.5 521.9 L467.0 521.8 L466.5 521.5 L466.1 521.4 L465.5 521.5 L465.1 521.4 L464.7 520.7 L464.3 520.6 L463.6 521.5 L463.1 521.3 L463.0 520.2 L462.5 520.0 L462.0 519.6 L461.4 519.5 L461.0 519.1 L460.5 518.9 L459.6 520.1 L459.1 519.9 L458.9 518.9 L458.4 518.8 L458.1 518.2 L457.7 518.1 L457.0 518.5 L456.5 518.3 L456.2 518.0 L455.8 517.8 L455.4 517.5 L455.0 517.3 L454.4 517.5 L453.9 517.3 L453.9 516.5 L453.4 516.2 L452.3 517.1 L451.9 516.9 L451.7 516.1 L451.3 515.9 L450.7 515.8 L450.3 515.5 L449.9 515.3 L449.5 515.0 L449.4 514.3 L449.0 514.1 L448.5 513.8 L448.1 513.6 L448.0 513.0 L447.6 512.7 L446.7 513.1 L446.3 512.8 L446.1 512.3 L445.7 512.0 L446.1 511.0 L445.7 510.7 L444.8 510.8 L444.5 510.5 L444.5 509.8 L444.2 509.5 L443.5 509.4 L443.1 509.1 L443.1 508.4 L442.8 508.0 L442.1 507.9 L441.8 507.5 L441.1 507.4 L440.8 507.0 L441.5 506.0 L441.2 505.5 L440.1 505.7 L439.9 505.2 L439.5 504.9 L439.2 504.4 L439.2 503.9 L439.0 503.5 L439.3 502.8 L439.1 502.4 L438.4 502.2 L438.2 501.7 L437.9 501.3 L437.7 500.9 L437.6 500.3 L437.4 499.8 L437.9 499.1 L437.7 498.6 L437.0 498.2 L436.8 497.7 L436.8 497.0 L436.6 496.6 L436.2 496.3 L436.1 495.8 L436.4 495.2 L436.2 494.8 L435.6 494.4 L435.5 494.0 L435.2 493.5 L435.1 493.0 L434.8 492.6 L434.7 492.1 L434.8 491.5 L434.7 491.0 L434.4 490.5 L434.3 490.0 L433.8 489.5 L433.6 489.0 L434.1 488.4 L433.9 487.8 L433.3 487.4 L433.1 486.9 L433.4 486.3 L433.3 485.8 L433.0 485.3 L432.8 484.8 L433.0 484.2 L432.9 483.7 L432.5 483.3 L432.3 482.8 L432.5 482.3 L432.4 481.8 L431.9 481.3 L431.8 480.8 L431.7 480.3 L431.6 479.8 L431.7 479.2 L431.6 478.7 L431.1 478.3 L431.0 477.7 L430.9 477.2 L430.8 476.7 L431.2 476.1 L431.1 475.6 L431.1 475.1 L431.0 474.6 L430.8 474.1 L430.7 473.6 L430.8 473.1 L430.7 472.6 L430.4 472.2 L430.3 471.8 L430.4 471.3 L430.3 470.7 L429.9 470.2 L429.8 469.7 L430.0 469.1 L429.9 468.5 L429.8 468.0 L429.7 467.5 L429.4 467.0 L429.3 466.5 L429.3 466.0 L429.2 465.5 L429.1 465.1 L429.0 464.6 L428.9 464.1 L428.8 463.6 L428.9 463.1 L428.8 462.6 L428.4 462.2 L428.3 461.7 L428.3 461.3 L428.2 460.8 L428.1 460.3 L427.9 459.8 L427.7 459.3 L427.5 458.9 L427.6 458.3 L427.5 457.9 L427.3 457.5 L427.1 457.1 L427.2 456.6 L427.0 456.2 L426.8 455.8 L426.6 455.4 L426.5 454.9 L426.3 454.4 L426.1 453.9 L425.9 453.4 L425.8 452.8 L425.7 452.1 L425.5 451.7 L425.5 451.3 L425.6 450.9 L425.5 450.4 L425.4 450.0 L425.3 449.5 L425.3 449.0 L425.3 448.5 L424.9 448.0 L424.8 447.5 L425.0 446.9 L424.9 446.4 L424.8 445.9 L424.7 445.3 L424.6 444.8 L424.5 444.2 L424.4 443.6 L424.3 443.1 L424.2 442.5 L424.1 442.0 L424.2 441.4 L424.2 440.9 L424.0 440.3 L424.0 439.8 L423.7 439.3 L423.6 438.8 L423.8 438.3 L423.7 437.8 L423.6 437.3 L423.6 436.8 L423.4 436.4 L423.3 436.0 L423.4 435.3 L423.3 434.7 L423.2 434.1 L423.1 433.4 L422.9 432.9 L422.8 432.3 L422.7 431.7 L422.6 431.2 L422.6 430.6 L422.5 430.1 L422.5 429.6 L422.4 429.1 L422.3 428.6 L422.2 428.1 L422.2 427.6 L422.1 427.2 L422.0 426.7 L421.9 426.3 L421.7 425.9 L421.6 425.5 L421.5 425.1 L421.4 424.4 L421.3 423.7 L421.1 423.0 L421.2 422.4 L421.1 421.9 L420.9 421.4 L420.8 421.0 L420.5 420.6 L420.3 420.1 L419.9 419.5 L419.0 418.9 L418.3 418.9 L417.2 419.3 L416.8 419.5 L416.4 419.8 L415.9 420.0 L415.4 420.3 L414.9 420.4 L414.4 420.6 L413.8 420.7 L413.4 420.8 L413.0 420.7 L412.5 420.7 L411.9 420.6 L411.3 420.6 L410.8 420.8 L410.2 420.8 L409.7 420.8 L409.2 420.7 L408.8 420.6 L408.5 420.6 Z" fill="#000" stroke="#000" stroke-width="0.3" stroke-linejoin="round"/>
<circle cx="408.50" cy="421.70" r="1.00" fill="#000"/>
<circle cx="512.70" cy="531.30" r="2.10" fill="#000"/>
<text x="469.3" y="278.6" font-family="Liberation Sans, sans-serif" font-size="12.3" stroke="#000" stroke-width="0.2">sGC<tspan dy="-3.2" font-size="12.3">+/+</tspan></text>
<text x="468.3" y="335.3" font-family="Liberation Sans, sans-serif" font-size="12.3" stroke="#000" stroke-width="0.2">sGC<tspan dy="-3.2" font-size="12.3">-/-</tspan></text>
<text x="476.9" y="492.5" font-family="Liberation Sans, sans-serif" font-size="12.3" stroke="#000" stroke-width="0.2">sGC<tspan dy="-3.2" font-size="12.3">-/-</tspan></text>
<text x="473.5" y="549.8" font-family="Liberation Sans, sans-serif" font-size="12.3" stroke="#000" stroke-width="0.2">sGC<tspan dy="-3.2" font-size="12.3">+/+</tspan></text>
</svg>
</body></html>
